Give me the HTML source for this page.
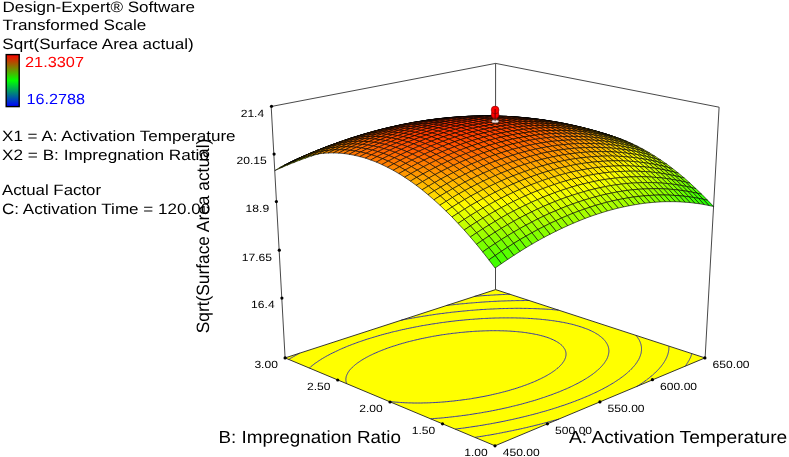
<!DOCTYPE html><html><head><meta charset="utf-8"><style>html,body{margin:0;padding:0;background:#fff;width:789px;height:457px;overflow:hidden;position:relative}</style></head><body><svg width="789" height="457" viewBox="0 0 789 457" style="position:absolute;left:0;top:0">
<polygon points="495.0,445.8 705.0,357.9 495.6,289.6 285.1,357.9" fill="#ffff00" stroke="none"/>
<path d="M685.0,366.4 L685.4,366.0 L685.7,365.6 L686.2,364.8 L686.5,364.4 L686.8,363.9 L687.2,363.3 L687.5,362.9 L687.9,362.3 L688.2,361.7 L688.4,361.3 L688.8,360.8 L689.1,360.2 L689.3,359.8 L689.6,359.3 L689.9,358.6 L690.1,358.2 L690.3,357.8 L690.6,357.1 L690.8,356.6 L691.0,356.2 L691.1,355.7 L691.4,355.1 L691.5,354.5 L691.7,354.1 L691.8,353.7 L691.8,353.7 M510.1,294.2 L509.0,294.3 L507.8,294.3 L506.7,294.4 L505.5,294.4 L504.1,294.5 L502.7,294.5 L501.2,294.6 L500.1,294.7 L499.0,294.7 L497.9,294.8 L496.7,294.8 L495.2,294.9 L493.7,295.0 L492.5,295.1 L491.4,295.1 L490.3,295.2 L489.1,295.3 L487.5,295.4 L486.1,295.5 L485.1,295.5 L484.0,295.6 L482.8,295.7 L481.1,295.8 L479.9,295.9 L478.9,296.0 L477.8,296.1 L476.2,296.2 L474.8,296.3 L474.5,296.3 M636.7,386.6 L637.5,386.1 L638.6,385.4 L639.5,384.8 L640.1,384.4 L641.1,383.8 L642.0,383.2 L642.6,382.7 L643.6,382.1 L644.1,381.7 L645.0,381.0 L646.0,380.4 L646.4,380.0 L647.3,379.3 L647.9,378.9 L648.7,378.3 L649.5,377.6 L650.0,377.2 L650.8,376.5 L651.3,376.2 L652.1,375.5 L652.5,375.1 L653.3,374.4 L653.7,374.1 L654.5,373.3 L654.9,373.0 L655.6,372.3 L656.0,371.9 L656.7,371.2 L657.1,370.8 L657.8,370.1 L658.2,369.7 L658.7,369.1 L659.2,368.6 L659.6,368.2 L660.1,367.5 L660.5,367.1 L661.1,366.4 L661.4,366.0 L661.7,365.5 L662.3,364.8 L662.5,364.5 L663.0,363.9 L663.4,363.3 L663.6,362.9 L664.0,362.3 L664.4,361.7 L664.6,361.4 L665.0,360.7 L665.3,360.2 L665.5,359.8 L665.8,359.3 L666.1,358.6 L666.3,358.2 L666.5,357.8 L666.8,357.1 L667.0,356.6 L667.2,356.1 L667.3,355.7 L667.6,355.1 L667.8,354.5 L667.9,354.1 L668.0,353.7 L668.1,353.2 L668.3,352.6 L668.4,352.0 L668.5,351.5 L668.6,351.1 L668.7,350.7 L668.7,350.2 L668.8,349.6 L668.8,349.0 L668.9,348.5 L668.9,348.0 L668.9,347.6 L668.9,347.1 L668.9,346.7 L668.8,346.2 L668.8,346.2 M475.1,437.3 L476.2,437.2 L478.5,436.8 L479.7,436.6 L481.2,436.4 L483.1,436.1 L484.2,435.9 L486.4,435.5 L487.5,435.3 L489.2,435.1 L490.9,434.8 L492.0,434.6 L494.2,434.2 L495.3,434.0 L497.4,433.6 L498.5,433.4 L500.4,433.0 L501.7,432.8 L503.4,432.4 L504.9,432.1 L506.3,431.9 L508.1,431.5 L509.4,431.2 L511.2,430.9 L512.5,430.6 L514.3,430.2 L515.7,429.9 L517.3,429.6 L519.0,429.2 L520.4,428.9 L522.4,428.5 L523.4,428.2 L525.3,427.8 L526.3,427.6 L528.3,427.1 L529.4,426.8 L531.2,426.4 L533.1,426.0 L534.1,425.7 L536.0,425.2 L537.0,425.0 L538.8,424.5 L540.7,424.0 L541.7,423.8 L543.5,423.3 L545.0,422.9 L546.3,422.6 L548.1,422.1 L549.4,421.7 L550.8,421.3 L552.6,420.8 L554.1,420.4 L555.3,420.1 L557.1,419.6 L558.8,419.1 L559.1,419.0 M529.3,300.5 L528.1,300.5 L526.8,300.5 L525.5,300.5 L524.3,300.5 L523.0,300.6 L521.8,300.6 L520.5,300.6 L519.3,300.6 L518.1,300.6 L516.9,300.6 L515.7,300.6 L514.5,300.7 L513.3,300.7 L512.0,300.7 L510.6,300.8 L509.2,300.8 L507.8,300.8 L506.4,300.9 L505.1,300.9 L503.9,301.0 L502.8,301.0 L501.7,301.0 L500.5,301.1 L499.2,301.1 L497.7,301.2 L496.2,301.3 L494.9,301.3 L493.8,301.4 L492.7,301.5 L491.6,301.5 L490.2,301.6 L488.6,301.7 L487.3,301.8 L486.2,301.8 L485.2,301.9 L483.9,302.0 L482.3,302.1 L480.9,302.2 L479.9,302.3 L478.8,302.4 L477.4,302.5 L475.7,302.6 L474.7,302.7 L473.6,302.8 L472.3,302.9 L470.6,303.0 L469.6,303.1 L468.5,303.2 L467.1,303.3 L465.5,303.5 L464.5,303.6 L463.5,303.7 L461.7,303.8 L460.5,303.9 L459.6,304.0 L458.0,304.2 L456.6,304.3 L455.6,304.5 L454.2,304.6 L452.7,304.8 L451.7,304.9 L450.3,305.0 L448.9,305.2 L447.9,305.3 L446.2,305.5 L446.2,305.5 M455.3,429.1 L456.5,428.9 L457.7,428.8 L460.0,428.5 L461.3,428.3 L462.5,428.2 L464.7,427.9 L466.0,427.7 L467.1,427.5 L469.5,427.2 L470.6,427.0 L472.0,426.8 L474.0,426.5 L475.2,426.3 L477.0,426.1 L478.5,425.8 L479.6,425.6 L481.9,425.3 L483.0,425.1 L484.8,424.8 L486.2,424.5 L487.5,424.3 L489.5,424.0 L490.6,423.8 L492.7,423.4 L493.8,423.2 L495.9,422.8 L496.9,422.6 L499.0,422.2 L500.0,422.0 L502.0,421.6 L503.1,421.4 L505.1,421.0 L506.2,420.7 L508.2,420.3 L509.2,420.1 L511.2,419.7 L512.2,419.5 L514.2,419.0 L515.2,418.8 L517.1,418.3 L518.4,418.1 L520.0,417.7 L521.9,417.2 L522.9,417.0 L524.8,416.5 L525.8,416.3 L527.6,415.8 L529.5,415.4 L530.4,415.1 L532.2,414.7 L534.0,414.2 L535.0,413.9 L536.8,413.5 L538.5,413.0 L539.4,412.7 L541.2,412.2 L543.0,411.7 L543.8,411.5 L545.6,411.0 L547.3,410.5 L548.6,410.1 L549.9,409.7 L551.6,409.2 L553.2,408.7 L554.7,408.2 L555.7,407.9 L557.4,407.4 L559.0,406.8 L560.6,406.3 L562.0,405.8 L563.0,405.5 L564.6,405.0 L566.2,404.4 L567.7,403.9 L569.3,403.3 L570.8,402.8 L572.3,402.2 L573.1,401.9 L574.6,401.4 L576.0,400.8 L577.5,400.2 L579.0,399.7 L580.4,399.1 L581.8,398.5 L583.3,397.9 L584.7,397.3 L586.0,396.8 L587.4,396.2 L588.8,395.6 L590.1,395.0 L591.5,394.4 L592.2,394.0 L593.4,393.5 L594.7,392.9 L596.0,392.3 L597.3,391.7 L598.6,391.0 L599.8,390.4 L600.8,389.9 L601.6,389.5 L602.9,388.9 L604.1,388.2 L605.2,387.6 L606.0,387.2 L607.0,386.7 L608.1,386.0 L609.2,385.4 L609.9,385.0 L610.9,384.4 L612.0,383.7 L613.1,383.1 L613.6,382.8 L614.7,382.1 L615.7,381.4 L616.2,381.1 L617.2,380.4 L618.1,379.9 L618.7,379.4 L619.7,378.8 L620.2,378.4 L621.1,377.7 L622.0,377.1 L622.5,376.7 L623.4,376.0 L623.9,375.7 L624.8,375.0 L625.2,374.6 L626.1,373.9 L626.6,373.5 L627.3,372.8 L627.8,372.4 L628.5,371.8 L629.0,371.3 L629.7,370.7 L630.1,370.3 L630.8,369.6 L631.2,369.2 L631.9,368.5 L632.2,368.1 L632.9,367.5 L633.3,367.0 L633.6,366.6 L634.2,365.9 L634.6,365.5 L635.1,364.9 L635.5,364.4 L635.7,364.0 L636.3,363.2 L636.6,362.8 L636.9,362.4 L637.3,361.7 L637.6,361.2 L637.9,360.9 L638.2,360.2 L638.5,359.7 L638.8,359.3 L639.0,358.8 L639.4,358.1 L639.6,357.6 L639.7,357.2 L639.9,356.7 L640.2,356.1 L640.4,355.5 L640.5,355.1 L640.6,354.7 L640.8,354.1 L641.0,353.5 L641.1,353.0 L641.2,352.6 L641.3,352.1 L641.3,351.7 L641.4,351.2 L641.5,350.6 L641.5,350.0 L641.5,349.5 L641.5,349.0 L641.5,348.5 L641.5,348.1 L641.5,347.6 L641.4,347.1 L641.4,346.6 L641.3,346.2 L641.2,345.7 L641.1,345.2 L641.0,344.7 L640.9,344.2 L640.7,343.7 L640.6,343.2 L640.4,342.7 L640.2,342.2 L640.0,341.7 L639.7,341.1 L639.5,340.6 L639.3,340.2 L639.0,339.7 L638.8,339.3 L638.5,338.9 L638.2,338.4 L637.8,337.8 L637.4,337.2 L637.1,336.8 L636.7,336.4 L636.4,336.0 L635.9,335.4 L635.9,335.4 M558.6,310.1 L556.8,310.0 L555.8,309.9 L554.8,309.8 L553.4,309.7 L551.7,309.5 L550.5,309.5 L549.5,309.4 L548.4,309.3 L546.8,309.2 L545.2,309.1 L544.0,309.0 L542.9,309.0 L541.8,308.9 L540.6,308.9 L539.1,308.8 L537.6,308.7 L536.1,308.7 L534.9,308.6 L533.7,308.6 L532.5,308.5 L531.3,308.5 L530.1,308.5 L528.9,308.5 L527.7,308.4 L526.3,308.4 L525.0,308.4 L523.6,308.4 L522.3,308.4 L521.0,308.3 L519.7,308.3 L518.4,308.3 L517.1,308.3 L515.8,308.3 L514.6,308.3 L513.3,308.4 L512.1,308.4 L510.8,308.4 L509.6,308.4 L508.3,308.4 L506.9,308.5 L505.6,308.5 L504.2,308.5 L502.8,308.6 L501.3,308.6 L500.0,308.6 L498.9,308.7 L497.7,308.7 L496.6,308.8 L495.4,308.8 L494.1,308.9 L492.6,309.0 L491.0,309.0 L489.8,309.1 L488.6,309.2 L487.5,309.2 L486.4,309.3 L484.9,309.4 L483.3,309.5 L482.1,309.5 L481.0,309.6 L479.9,309.7 L478.4,309.8 L476.8,309.9 L475.6,310.0 L474.6,310.1 L473.4,310.2 L471.7,310.3 L470.4,310.4 L469.4,310.5 L468.2,310.6 L466.4,310.8 L465.3,310.9 L464.2,311.0 L462.8,311.1 L461.2,311.3 L460.2,311.4 L459.1,311.5 L457.2,311.7 L456.2,311.8 L455.2,311.9 L453.3,312.1 L452.3,312.2 L451.3,312.3 L449.4,312.6 L448.4,312.7 L447.2,312.8 L445.5,313.0 L444.6,313.2 L443.0,313.4 L441.7,313.5 L440.8,313.6 L438.9,313.9 L438.0,314.0 L436.4,314.2 L435.2,314.4 L434.1,314.6 L432.4,314.8 L431.5,315.0 L429.6,315.2 L428.7,315.4 L426.9,315.7 L426.0,315.8 L424.3,316.1 L423.3,316.2 L421.7,316.5 L420.6,316.7 L419.1,316.9 L417.9,317.1 L416.3,317.4 L415.3,317.6 L413.5,317.9 L412.6,318.0 L410.9,318.4 L410.0,318.5 L408.3,318.8 L407.4,319.0 L405.7,319.3 L404.2,319.6 L403.1,319.8 L401.4,320.2 L400.9,320.3 M299.6,353.2 L298.7,353.7 L297.5,354.4 L296.9,354.7 L295.7,355.4 L295.1,355.7 L293.9,356.4 L293.3,356.7 L292.2,357.4 L291.6,357.7 L290.4,358.4 L289.9,358.8 L288.7,359.5 L288.7,359.5 M430.7,418.8 L432.4,418.7 L434.3,418.5 L435.9,418.4 L437.2,418.3 L438.5,418.2 L440.2,418.1 L442.2,417.9 L443.5,417.8 L444.8,417.6 L446.2,417.5 L448.3,417.3 L449.7,417.1 L450.9,417.0 L452.6,416.8 L454.5,416.6 L455.7,416.4 L456.9,416.3 L459.2,416.0 L460.4,415.9 L461.5,415.7 L463.8,415.4 L465.0,415.3 L466.1,415.1 L468.4,414.8 L469.5,414.6 L471.0,414.4 L472.9,414.1 L474.0,413.9 L476.0,413.6 L477.3,413.4 L478.6,413.2 L480.5,412.9 L481.6,412.7 L483.7,412.3 L484.7,412.1 L486.7,411.8 L487.9,411.6 L489.6,411.3 L491.0,411.0 L492.5,410.7 L494.0,410.4 L495.6,410.1 L497.0,409.8 L498.7,409.4 L500.0,409.2 L501.9,408.8 L503.0,408.5 L504.9,408.1 L505.9,407.9 L507.8,407.5 L508.9,407.2 L510.6,406.8 L512.5,406.3 L513.4,406.1 L515.3,405.7 L516.6,405.3 L518.0,405.0 L519.8,404.5 L520.8,404.3 L522.5,403.8 L524.3,403.3 L525.4,403.0 L526.9,402.6 L528.6,402.1 L530.3,401.6 L531.2,401.4 L532.9,400.9 L534.6,400.4 L536.2,399.9 L537.0,399.6 L538.7,399.1 L540.3,398.6 L541.9,398.0 L543.5,397.5 L544.3,397.3 L545.8,396.7 L547.4,396.2 L548.9,395.6 L550.5,395.1 L552.0,394.6 L553.4,394.0 L554.9,393.4 L556.4,392.9 L557.8,392.3 L559.3,391.8 L560.7,391.2 L562.1,390.6 L563.4,390.0 L564.8,389.4 L566.2,388.9 L567.5,388.3 L568.8,387.7 L570.1,387.1 L571.4,386.5 L572.4,386.0 L573.3,385.6 L574.5,384.9 L575.8,384.3 L577.0,383.7 L578.0,383.2 L578.8,382.8 L579.9,382.1 L581.1,381.5 L582.0,381.0 L582.8,380.5 L583.9,379.9 L585.0,379.2 L585.5,378.9 L586.6,378.3 L587.6,377.6 L588.1,377.3 L589.1,376.6 L589.9,376.1 L590.6,375.6 L591.6,374.9 L592.1,374.6 L593.0,373.9 L593.5,373.5 L594.4,372.8 L595.0,372.4 L595.7,371.8 L596.4,371.2 L597.0,370.7 L597.6,370.2 L598.2,369.6 L598.7,369.2 L599.4,368.6 L599.8,368.2 L600.5,367.4 L600.9,367.1 L601.5,366.4 L601.9,366.0 L602.3,365.5 L602.9,364.8 L603.2,364.4 L603.7,363.9 L604.1,363.3 L604.4,362.9 L604.8,362.3 L605.2,361.7 L605.5,361.3 L605.8,360.8 L606.2,360.1 L606.5,359.7 L606.7,359.3 L607.0,358.7 L607.3,358.0 L607.5,357.6 L607.6,357.2 L607.8,356.7 L608.0,356.1 L608.2,355.5 L608.3,355.1 L608.4,354.6 L608.5,354.2 L608.6,353.7 L608.7,353.1 L608.8,352.5 L608.8,352.0 L608.9,351.5 L608.9,351.0 L608.9,350.5 L608.8,350.0 L608.8,349.5 L608.7,349.1 L608.7,348.6 L608.6,348.1 L608.5,347.6 L608.3,347.1 L608.2,346.5 L608.0,346.0 L607.8,345.5 L607.6,345.0 L607.4,344.6 L607.2,344.1 L606.9,343.7 L606.7,343.3 L606.3,342.7 L606.0,342.1 L605.6,341.6 L605.3,341.2 L605.0,340.8 L604.5,340.3 L604.0,339.6 L603.6,339.3 L603.2,338.9 L602.6,338.2 L602.1,337.8 L601.7,337.4 L600.9,336.8 L600.4,336.4 L599.8,336.0 L599.0,335.4 L598.6,335.0 L597.6,334.4 L597.1,334.1 L596.1,333.5 L595.5,333.2 L594.5,332.5 L593.7,332.1 L592.8,331.7 L591.7,331.1 L591.0,330.8 L589.9,330.3 L588.7,329.7 L587.4,329.2 L586.4,328.8 L585.5,328.5 L584.1,328.0 L582.8,327.5 L581.4,327.0 L580.0,326.6 L578.5,326.1 L577.1,325.7 L576.3,325.5 L574.8,325.0 L573.3,324.6 L571.7,324.2 L570.4,323.9 L569.3,323.7 L567.7,323.3 L566.4,323.0 L565.2,322.8 L563.5,322.4 L562.6,322.3 L560.9,322.0 L560.0,321.8 L558.2,321.5 L557.3,321.4 L555.5,321.1 L554.5,320.9 L552.7,320.7 L551.7,320.5 L550.5,320.4 L548.8,320.2 L547.8,320.0 L546.4,319.9 L544.8,319.7 L543.8,319.6 L542.5,319.5 L540.8,319.3 L539.7,319.2 L538.7,319.1 L537.2,319.0 L535.5,318.8 L534.4,318.8 L533.3,318.7 L532.1,318.6 L530.5,318.5 L529.0,318.4 L527.7,318.3 L526.5,318.3 L525.4,318.2 L524.2,318.2 L522.9,318.1 L521.4,318.1 L520.0,318.0 L518.5,318.0 L517.1,318.0 L515.8,317.9 L514.5,317.9 L513.2,317.9 L512.0,317.9 L510.7,317.9 L509.4,317.9 L508.1,317.9 L506.8,317.9 L505.4,317.9 L504.1,317.9 L502.7,317.9 L501.4,317.9 L500.1,317.9 L498.8,318.0 L497.6,318.0 L496.4,318.0 L495.2,318.0 L494.0,318.1 L492.8,318.1 L491.4,318.2 L489.9,318.2 L488.4,318.3 L486.9,318.4 L485.8,318.4 L484.6,318.5 L483.5,318.5 L482.2,318.6 L480.6,318.7 L479.0,318.8 L477.9,318.9 L476.8,319.0 L475.7,319.0 L474.1,319.2 L472.5,319.3 L471.4,319.4 L470.4,319.4 L468.9,319.6 L467.2,319.7 L466.1,319.8 L465.1,319.9 L463.5,320.1 L462.0,320.2 L461.0,320.3 L459.8,320.4 L457.9,320.6 L456.9,320.7 L455.9,320.8 L453.9,321.1 L452.9,321.2 L451.9,321.3 L450.0,321.5 L449.0,321.7 L447.7,321.8 L446.1,322.0 L445.1,322.2 L443.4,322.4 L442.3,322.5 L441.1,322.7 L439.4,322.9 L438.5,323.1 L436.6,323.4 L435.7,323.5 L434.0,323.8 L432.9,323.9 L431.5,324.1 L430.1,324.4 L428.9,324.6 L427.4,324.8 L426.2,325.0 L424.7,325.3 L423.4,325.5 L422.0,325.7 L420.5,326.0 L419.4,326.2 L417.6,326.6 L416.7,326.7 L415.0,327.1 L414.1,327.2 L412.4,327.6 L411.0,327.9 L409.8,328.1 L408.1,328.5 L407.3,328.6 L405.6,329.0 L403.9,329.4 L403.1,329.5 L401.4,329.9 L399.7,330.3 L398.9,330.5 L397.3,330.9 L395.6,331.3 L394.6,331.5 L393.2,331.8 L391.6,332.2 L390.0,332.7 L389.2,332.9 L387.6,333.3 L386.0,333.7 L384.4,334.1 L382.9,334.5 L382.1,334.7 L380.5,335.2 L379.0,335.6 L377.4,336.1 L375.9,336.5 L374.4,337.0 L372.9,337.4 L371.4,337.9 L370.3,338.2 L369.1,338.6 L367.6,339.0 L366.1,339.5 L364.7,340.0 L363.2,340.5 L361.8,341.0 L360.3,341.5 L359.6,341.7 L358.2,342.2 L356.8,342.7 L355.3,343.3 L353.9,343.8 L352.5,344.3 L351.2,344.8 L349.8,345.4 L349.1,345.6 L347.7,346.2 L346.4,346.7 L345.0,347.3 L343.7,347.9 L343.0,348.1 L341.7,348.7 L340.4,349.3 L339.2,349.8 L338.5,350.2 L337.2,350.8 L335.9,351.4 L335.3,351.7 L334.0,352.3 L332.8,352.9 L332.1,353.2 L330.9,353.8 L330.2,354.2 L329.1,354.8 L327.9,355.4 L327.3,355.7 L326.1,356.4 L325.5,356.7 L324.4,357.4 L323.8,357.7 L322.7,358.4 L322.1,358.7 L321.0,359.4 L320.4,359.8 L319.3,360.5 L318.8,360.8 L317.7,361.6 L317.2,361.9 L316.3,362.6 L315.6,363.0 L315.0,363.4 L314.1,364.1 L313.6,364.5 L312.8,365.1 L312.1,365.7 L311.6,366.1 L310.8,366.7 L310.2,367.3 L309.7,367.7 L309.3,368.1 M389.2,401.5 L391.0,401.7 L392.1,401.8 L393.3,401.9 L395.2,402.1 L396.9,402.2 L398.2,402.3 L399.4,402.4 L400.7,402.5 L402.4,402.6 L404.2,402.7 L405.8,402.8 L407.3,402.8 L408.7,402.9 L410.1,402.9 L411.5,402.9 L413.0,403.0 L414.4,403.0 L415.9,403.0 L417.4,403.0 L418.9,403.0 L420.4,403.0 L422.0,403.0 L423.5,402.9 L425.1,402.9 L426.8,402.9 L428.4,402.8 L429.8,402.8 L431.2,402.7 L432.5,402.6 L433.9,402.6 L435.2,402.5 L437.0,402.4 L438.8,402.3 L440.4,402.2 L441.6,402.1 L442.9,402.0 L444.4,401.9 L446.3,401.7 L447.9,401.6 L449.1,401.4 L450.3,401.3 L452.3,401.1 L453.8,401.0 L455.0,400.8 L456.6,400.6 L458.5,400.4 L459.6,400.3 L461.0,400.1 L463.0,399.8 L464.1,399.7 L465.6,399.5 L467.4,399.2 L468.5,399.1 L470.5,398.8 L471.7,398.6 L473.0,398.3 L474.9,398.0 L475.9,397.9 L478.0,397.5 L479.0,397.3 L481.0,396.9 L482.0,396.8 L484.0,396.4 L485.0,396.2 L487.0,395.8 L487.9,395.6 L489.9,395.2 L490.8,395.0 L492.7,394.5 L494.1,394.2 L495.5,393.9 L497.3,393.5 L498.3,393.3 L500.1,392.8 L501.8,392.4 L502.7,392.1 L504.5,391.7 L506.2,391.2 L507.1,391.0 L508.8,390.5 L510.5,390.0 L512.1,389.5 L512.9,389.3 L514.6,388.8 L516.2,388.3 L517.8,387.8 L519.3,387.2 L520.2,387.0 L521.7,386.5 L523.2,385.9 L524.7,385.4 L526.2,384.9 L527.6,384.3 L529.1,383.8 L530.5,383.2 L531.9,382.6 L533.3,382.1 L534.6,381.5 L536.0,380.9 L537.2,380.4 L537.9,380.0 L539.2,379.4 L540.5,378.8 L541.7,378.2 L542.9,377.6 L543.5,377.3 L544.7,376.7 L545.9,376.0 L546.9,375.5 L547.6,375.1 L548.7,374.4 L549.7,373.8 L550.3,373.5 L551.3,372.8 L551.9,372.4 L552.8,371.8 L553.7,371.2 L554.3,370.8 L555.2,370.1 L555.7,369.7 L556.6,369.0 L557.0,368.6 L557.9,367.9 L558.3,367.6 L559.0,366.9 L559.5,366.5 L559.9,366.0 L560.6,365.3 L560.9,365.0 L561.5,364.3 L561.9,363.8 L562.2,363.4 L562.8,362.8 L563.1,362.2 L563.4,361.8 L563.8,361.3 L564.2,360.6 L564.4,360.2 L564.6,359.8 L564.8,359.3 L565.1,358.6 L565.3,358.0 L565.5,357.6 L565.6,357.2 L565.7,356.7 L565.8,356.2 L565.9,355.7 L566.0,355.1 L566.0,354.6 L566.0,354.0 L566.0,353.5 L565.9,353.0 L565.9,352.5 L565.8,352.0 L565.7,351.5 L565.5,351.1 L565.4,350.6 L565.2,350.2 L565.0,349.6 L564.7,349.1 L564.3,348.5 L564.0,348.0 L563.7,347.6 L563.4,347.2 L562.9,346.5 L562.4,346.0 L562.1,345.6 L561.5,345.1 L560.9,344.6 L560.5,344.2 L559.6,343.5 L559.1,343.2 L558.1,342.5 L557.6,342.2 L556.6,341.6 L556.1,341.3 L555.0,340.7 L553.8,340.1 L553.2,339.8 L552.0,339.3 L550.7,338.7 L549.4,338.2 L548.1,337.7 L546.7,337.2 L545.2,336.8 L543.8,336.3 L542.2,335.9 L540.7,335.5 L539.9,335.3 L538.3,334.9 L536.6,334.5 L535.7,334.4 L534.0,334.0 L532.8,333.8 L531.3,333.5 L530.1,333.3 L528.6,333.1 L527.6,332.9 L525.7,332.6 L524.7,332.5 L523.2,332.3 L521.7,332.1 L520.7,332.0 L519.3,331.9 L517.6,331.7 L516.5,331.6 L515.4,331.5 L513.9,331.4 L512.2,331.3 L511.0,331.2 L509.8,331.1 L508.7,331.1 L507.4,331.0 L505.9,330.9 L504.4,330.9 L502.9,330.8 L501.4,330.8 L500.2,330.8 L498.9,330.7 L497.6,330.7 L496.3,330.7 L495.0,330.7 L493.6,330.7 L492.3,330.7 L490.9,330.7 L489.5,330.7 L488.1,330.8 L486.8,330.8 L485.5,330.8 L484.3,330.9 L483.1,330.9 L481.9,331.0 L480.7,331.0 L479.1,331.1 L477.5,331.2 L476.0,331.2 L474.8,331.3 L473.7,331.4 L472.6,331.5 L471.0,331.6 L469.3,331.7 L468.1,331.8 L467.0,331.9 L465.7,332.0 L463.9,332.2 L462.8,332.3 L461.7,332.4 L460.2,332.5 L458.6,332.7 L457.5,332.8 L456.2,333.0 L454.5,333.2 L453.5,333.3 L452.1,333.4 L450.5,333.7 L449.5,333.8 L447.7,334.0 L446.6,334.2 L445.4,334.4 L443.7,334.6 L442.7,334.7 L440.8,335.0 L439.9,335.2 L438.0,335.5 L437.1,335.6 L435.3,336.0 L434.3,336.1 L432.5,336.4 L431.6,336.6 L429.8,337.0 L428.9,337.1 L427.2,337.5 L426.2,337.7 L424.5,338.0 L422.8,338.4 L422.0,338.5 L420.2,338.9 L419.0,339.2 L417.7,339.5 L416.0,339.9 L414.7,340.2 L413.5,340.5 L411.9,340.9 L410.3,341.3 L409.4,341.5 L407.8,341.9 L406.2,342.3 L404.7,342.8 L403.1,343.2 L402.3,343.4 L400.8,343.9 L399.2,344.3 L397.7,344.8 L396.2,345.3 L394.7,345.8 L393.2,346.2 L391.7,346.7 L390.3,347.2 L388.8,347.7 L387.4,348.2 L386.0,348.7 L384.6,349.3 L383.2,349.8 L381.8,350.3 L380.7,350.8 L379.7,351.2 L378.4,351.7 L377.1,352.3 L375.8,352.9 L375.1,353.1 L373.8,353.7 L372.6,354.3 L371.4,354.9 L370.7,355.2 L369.4,355.8 L368.5,356.3 L367.6,356.8 L366.4,357.4 L365.9,357.7 L364.7,358.4 L363.9,358.8 L363.0,359.4 L362.1,359.9 L361.3,360.4 L360.4,361.0 L359.7,361.5 L359.0,362.0 L358.2,362.5 L357.6,362.9 L356.7,363.6 L356.2,364.0 L355.4,364.6 L354.8,365.1 L354.3,365.5 L353.5,366.3 L353.0,366.7 L352.5,367.1 L351.9,367.8 L351.3,368.4 L350.9,368.8 L350.5,369.2 L349.9,369.9 L349.4,370.5 L349.1,371.0 L348.8,371.4 L348.4,371.9 L348.0,372.5 L347.7,373.2 L347.4,373.8 L347.1,374.3 L346.9,374.8 L346.7,375.3 L346.5,375.8 L346.3,376.3 L346.2,376.8 L346.1,377.4 L346.0,378.0 L345.9,378.5 L345.9,379.1 L345.9,379.7 L345.9,380.3 L345.9,380.8 L346.0,381.3 L346.1,381.7 L346.2,382.3 L346.5,383.0 L346.7,383.6 L346.7,383.7" fill="none" stroke="#2424b4" stroke-width="0.9"/>
<polygon points="495.0,445.8 705.0,357.9 495.6,289.6 285.1,357.9" fill="none" stroke="#222" stroke-width="0.9"/>
<path d="M271.2,106.5 L285.1,358.0 M495.6,63.4 L495.5,289.5 M719.1,107.2 L705.1,358.1 M271.2,106.5 L495.6,63.4 M495.6,63.4 L719.1,107.2" stroke="#333" stroke-width="0.9" fill="none"/>
<g stroke="#000" stroke-width="0.6" stroke-linejoin="round">
<polygon points="495.6,152.3 500.4,154.1 495.6,157.4 490.7,155.5" fill="#02ff00"/>
<polygon points="490.7,150.6 495.6,152.3 490.7,155.5 485.8,153.8" fill="#14ff00"/>
<polygon points="500.5,149.2 505.3,151.0 500.4,154.1 495.6,152.3" fill="#1cff00"/>
<polygon points="485.8,148.9 490.7,150.6 485.8,153.8 480.9,152.2" fill="#25ff00"/>
<polygon points="495.6,147.5 500.5,149.2 495.6,152.3 490.7,150.6" fill="#2eff00"/>
<polygon points="505.4,146.3 510.3,148.1 505.3,151.0 500.5,149.2" fill="#35ff00"/>
<polygon points="480.8,147.4 485.8,148.9 480.9,152.2 475.9,150.7" fill="#35ff00"/>
<polygon points="490.6,145.9 495.6,147.5 490.7,150.6 485.8,148.9" fill="#3eff00"/>
<polygon points="500.5,144.6 505.4,146.3 500.5,149.2 495.6,147.5" fill="#46ff00"/>
<polygon points="510.4,143.7 515.2,145.5 510.3,148.1 505.4,146.3" fill="#4cff00"/>
<polygon points="475.8,146.0 480.8,147.4 475.9,150.7 471.0,149.2" fill="#44ff00"/>
<polygon points="485.7,144.3 490.6,145.9 485.8,148.9 480.8,147.4" fill="#4eff00"/>
<polygon points="495.6,143.0 500.5,144.6 495.6,147.5 490.6,145.9" fill="#56ff00"/>
<polygon points="505.5,141.9 510.4,143.7 505.4,146.3 500.5,144.6" fill="#5dff00"/>
<polygon points="515.4,141.2 520.2,143.0 515.2,145.5 510.4,143.7" fill="#62ff00"/>
<polygon points="470.8,144.6 475.8,146.0 471.0,149.2 465.9,147.9" fill="#53ff00"/>
<polygon points="480.7,142.9 485.7,144.3 480.8,147.4 475.8,146.0" fill="#5eff00"/>
<polygon points="490.6,141.5 495.6,143.0 490.6,145.9 485.7,144.3" fill="#66ff00"/>
<polygon points="500.5,140.3 505.5,141.9 500.5,144.6 495.6,143.0" fill="#6dff00"/>
<polygon points="510.5,139.5 515.4,141.2 510.4,143.7 505.5,141.9" fill="#73ff00"/>
<polygon points="520.4,139.0 525.3,140.8 520.2,143.0 515.4,141.2" fill="#76ff00"/>
<polygon points="465.7,143.4 470.8,144.6 465.9,147.9 460.9,146.7" fill="#62ff00"/>
<polygon points="475.6,141.6 480.7,142.9 475.8,146.0 470.8,144.6" fill="#6cff00"/>
<polygon points="485.6,140.0 490.6,141.5 485.7,144.3 480.7,142.9" fill="#76ff00"/>
<polygon points="495.6,138.8 500.5,140.3 495.6,143.0 490.6,141.5" fill="#7dff00"/>
<polygon points="505.5,137.9 510.5,139.5 505.5,141.9 500.5,140.3" fill="#83ff00"/>
<polygon points="515.5,137.2 520.4,139.0 515.4,141.2 510.5,139.5" fill="#87ff00"/>
<polygon points="525.5,136.9 530.3,138.7 525.3,140.8 520.4,139.0" fill="#89ff00"/>
<polygon points="460.6,142.3 465.7,143.4 460.9,146.7 455.7,145.6" fill="#6fff00"/>
<polygon points="470.6,140.4 475.6,141.6 470.8,144.6 465.7,143.4" fill="#7bff00"/>
<polygon points="480.6,138.7 485.6,140.0 480.7,142.9 475.6,141.6" fill="#84ff00"/>
<polygon points="490.6,137.4 495.6,138.8 490.6,141.5 485.6,140.0" fill="#8cff00"/>
<polygon points="500.6,136.4 505.5,137.9 500.5,140.3 495.6,138.8" fill="#93ff00"/>
<polygon points="510.6,135.6 515.5,137.2 510.5,139.5 505.5,137.9" fill="#97ff00"/>
<polygon points="530.6,135.1 535.4,136.9 530.3,138.7 525.5,136.9" fill="#9bff00"/>
<polygon points="520.6,135.2 525.5,136.9 520.4,139.0 515.5,137.2" fill="#9aff00"/>
<polygon points="455.4,141.3 460.6,142.3 455.7,145.6 450.6,144.5" fill="#7cff00"/>
<polygon points="465.5,139.2 470.6,140.4 465.7,143.4 460.6,142.3" fill="#88ff00"/>
<polygon points="475.5,137.5 480.6,138.7 475.6,141.6 470.6,140.4" fill="#92ff00"/>
<polygon points="485.5,136.1 490.6,137.4 485.6,140.0 480.6,138.7" fill="#9bff00"/>
<polygon points="495.6,135.0 500.6,136.4 495.6,138.8 490.6,137.4" fill="#a2ff00"/>
<polygon points="505.6,134.1 510.6,135.6 505.5,137.9 500.6,136.4" fill="#a7ff00"/>
<polygon points="535.7,133.5 540.6,135.3 535.4,136.9 530.6,135.1" fill="#acff00"/>
<polygon points="515.6,133.6 520.6,135.2 515.5,137.2 510.6,135.6" fill="#aaff00"/>
<polygon points="525.7,133.4 530.6,135.1 525.5,136.9 520.6,135.2" fill="#acff00"/>
<polygon points="450.3,140.4 455.4,141.3 450.6,144.5 445.4,143.6" fill="#88ff00"/>
<polygon points="460.3,138.2 465.5,139.2 460.6,142.3 455.4,141.3" fill="#95ff00"/>
<polygon points="470.4,136.4 475.5,137.5 470.6,140.4 465.5,139.2" fill="#a0ff00"/>
<polygon points="480.4,134.9 485.5,136.1 480.6,138.7 475.5,137.5" fill="#a9ff00"/>
<polygon points="490.5,133.6 495.6,135.0 490.6,137.4 485.5,136.1" fill="#b0ff00"/>
<polygon points="500.6,132.7 505.6,134.1 500.6,136.4 495.6,135.0" fill="#b6ff00"/>
<polygon points="540.9,132.1 545.8,133.9 540.6,135.3 535.7,133.5" fill="#bbff00"/>
<polygon points="510.7,132.1 515.6,133.6 510.6,135.6 505.6,134.1" fill="#baff00"/>
<polygon points="530.8,131.8 535.7,133.5 530.6,135.1 525.7,133.4" fill="#bcff00"/>
<polygon points="520.8,131.8 525.7,133.4 520.6,135.2 515.6,133.6" fill="#bcff00"/>
<polygon points="445.1,139.6 450.3,140.4 445.4,143.6 440.2,142.8" fill="#94ff00"/>
<polygon points="455.1,137.3 460.3,138.2 455.4,141.3 450.3,140.4" fill="#a1ff00"/>
<polygon points="465.2,135.4 470.4,136.4 465.5,139.2 460.3,138.2" fill="#adff00"/>
<polygon points="475.3,133.8 480.4,134.9 475.5,137.5 470.4,136.4" fill="#b6ff00"/>
<polygon points="485.4,132.4 490.5,133.6 485.5,136.1 480.4,134.9" fill="#beff00"/>
<polygon points="546.1,131.0 551.0,132.8 545.8,133.9 540.9,132.1" fill="#c9ff00"/>
<polygon points="495.6,131.4 500.6,132.7 495.6,135.0 490.5,133.6" fill="#c4ff00"/>
<polygon points="536.0,130.5 540.9,132.1 535.7,133.5 530.8,131.8" fill="#cbff00"/>
<polygon points="505.7,130.7 510.7,132.1 505.6,134.1 500.6,132.7" fill="#c9ff00"/>
<polygon points="525.9,130.2 530.8,131.8 525.7,133.4 520.8,131.8" fill="#ccff00"/>
<polygon points="515.8,130.3 520.8,131.8 515.6,133.6 510.7,132.1" fill="#cbff00"/>
<polygon points="439.8,138.9 445.1,139.6 440.2,142.8 435.0,142.1" fill="#9fff00"/>
<polygon points="449.9,136.5 455.1,137.3 450.3,140.4 445.1,139.6" fill="#adff00"/>
<polygon points="460.0,134.5 465.2,135.4 460.3,138.2 455.1,137.3" fill="#b9ff00"/>
<polygon points="470.2,132.8 475.3,133.8 470.4,136.4 465.2,135.4" fill="#c3ff00"/>
<polygon points="480.3,131.3 485.4,132.4 480.4,134.9 475.3,133.8" fill="#cbff00"/>
<polygon points="551.4,130.1 556.2,131.8 551.0,132.8 546.1,131.0" fill="#d5ff00"/>
<polygon points="490.5,130.2 495.6,131.4 490.5,133.6 485.4,132.4" fill="#d2ff00"/>
<polygon points="541.2,129.3 546.1,131.0 540.9,132.1 536.0,130.5" fill="#d9ff00"/>
<polygon points="500.6,129.4 505.7,130.7 500.6,132.7 495.6,131.4" fill="#d7ff00"/>
<polygon points="531.1,128.9 536.0,130.5 530.8,131.8 525.9,130.2" fill="#dbff00"/>
<polygon points="510.8,128.9 515.8,130.3 510.7,132.1 505.7,130.7" fill="#daff00"/>
<polygon points="520.9,128.8 525.9,130.2 520.8,131.8 515.8,130.3" fill="#dbff00"/>
<polygon points="434.5,138.3 439.8,138.9 435.0,142.1 429.7,141.5" fill="#aaff00"/>
<polygon points="444.7,135.8 449.9,136.5 445.1,139.6 439.8,138.9" fill="#b8ff00"/>
<polygon points="454.8,133.7 460.0,134.5 455.1,137.3 449.9,136.5" fill="#c4ff00"/>
<polygon points="465.0,131.9 470.2,132.8 465.2,135.4 460.0,134.5" fill="#cfff00"/>
<polygon points="556.7,129.4 561.5,131.1 556.2,131.8 551.4,130.1" fill="#e1ff00"/>
<polygon points="475.2,130.4 480.3,131.3 475.3,133.8 470.2,132.8" fill="#d8ff00"/>
<polygon points="546.5,128.4 551.4,130.1 546.1,131.0 541.2,129.3" fill="#e5ff00"/>
<polygon points="485.4,129.1 490.5,130.2 485.4,132.4 480.3,131.3" fill="#dfff00"/>
<polygon points="536.3,127.8 541.2,129.3 536.0,130.5 531.1,128.9" fill="#e9ff00"/>
<polygon points="495.5,128.2 500.6,129.4 495.6,131.4 490.5,130.2" fill="#e4ff00"/>
<polygon points="526.1,127.4 531.1,128.9 525.9,130.2 520.9,128.8" fill="#eaff00"/>
<polygon points="505.7,127.7 510.8,128.9 505.7,130.7 500.6,129.4" fill="#e8ff00"/>
<polygon points="515.9,127.4 520.9,128.8 515.8,130.3 510.8,128.9" fill="#eaff00"/>
<polygon points="429.2,137.8 434.5,138.3 429.7,141.5 424.4,141.0" fill="#b3ff00"/>
<polygon points="439.4,135.3 444.7,135.8 439.8,138.9 434.5,138.3" fill="#c2ff00"/>
<polygon points="449.6,133.0 454.8,133.7 449.9,136.5 444.7,135.8" fill="#cfff00"/>
<polygon points="459.8,131.1 465.0,131.9 460.0,134.5 454.8,133.7" fill="#daff00"/>
<polygon points="562.0,128.9 566.8,130.7 561.5,131.1 556.7,129.4" fill="#eaff00"/>
<polygon points="470.0,129.5 475.2,130.4 470.2,132.8 465.0,131.9" fill="#e4ff00"/>
<polygon points="551.8,127.7 556.7,129.4 551.4,130.1 546.5,128.4" fill="#f1ff00"/>
<polygon points="480.2,128.2 485.4,129.1 480.3,131.3 475.2,130.4" fill="#ebff00"/>
<polygon points="541.6,126.9 546.5,128.4 541.2,129.3 536.3,127.8" fill="#f5ff00"/>
<polygon points="490.4,127.2 495.5,128.2 490.5,130.2 485.4,129.1" fill="#f1ff00"/>
<polygon points="531.3,126.3 536.3,127.8 531.1,128.9 526.1,127.4" fill="#f8ff00"/>
<polygon points="500.7,126.5 505.7,127.7 500.6,129.4 495.5,128.2" fill="#f5ff00"/>
<polygon points="521.1,126.0 526.1,127.4 520.9,128.8 515.9,127.4" fill="#f9ff00"/>
<polygon points="510.9,126.1 515.9,127.4 510.8,128.9 505.7,127.7" fill="#f8ff00"/>
<polygon points="423.9,137.4 429.2,137.8 424.4,141.0 419.1,140.7" fill="#bdff00"/>
<polygon points="434.1,134.8 439.4,135.3 434.5,138.3 429.2,137.8" fill="#ccff00"/>
<polygon points="444.3,132.4 449.6,133.0 444.7,135.8 439.4,135.3" fill="#d9ff00"/>
<polygon points="454.5,130.4 459.8,131.1 454.8,133.7 449.6,133.0" fill="#e5ff00"/>
<polygon points="567.3,128.7 572.2,130.4 566.8,130.7 562.0,128.9" fill="#f3ff00"/>
<polygon points="464.8,128.7 470.0,129.5 465.0,131.9 459.8,131.1" fill="#efff00"/>
<polygon points="557.1,127.3 562.0,128.9 556.7,129.4 551.8,127.7" fill="#faff00"/>
<polygon points="475.0,127.3 480.2,128.2 475.2,130.4 470.0,129.5" fill="#f7ff00"/>
<polygon points="546.8,126.2 551.8,127.7 546.5,128.4 541.6,126.9" fill="#fffe00"/>
<polygon points="485.3,126.2 490.4,127.2 485.4,129.1 480.2,128.2" fill="#feff00"/>
<polygon points="536.6,125.4 541.6,126.9 536.3,127.8 531.3,126.3" fill="#fffa00"/>
<polygon points="495.5,125.4 500.7,126.5 495.5,128.2 490.4,127.2" fill="#fffc00"/>
<polygon points="526.3,124.9 531.3,126.3 526.1,127.4 521.1,126.0" fill="#fff800"/>
<polygon points="505.8,124.9 510.9,126.1 505.7,127.7 500.7,126.5" fill="#fff900"/>
<polygon points="516.1,124.8 521.1,126.0 515.9,127.4 510.9,126.1" fill="#fff700"/>
<polygon points="418.5,137.2 423.9,137.4 419.1,140.7 413.7,140.4" fill="#c5ff00"/>
<polygon points="428.7,134.4 434.1,134.8 429.2,137.8 423.9,137.4" fill="#d5ff00"/>
<polygon points="439.0,132.0 444.3,132.4 439.4,135.3 434.1,134.8" fill="#e3ff00"/>
<polygon points="572.7,128.7 577.5,130.4 572.2,130.4 567.3,128.7" fill="#faff00"/>
<polygon points="449.2,129.9 454.5,130.4 449.6,133.0 444.3,132.4" fill="#efff00"/>
<polygon points="562.4,127.1 567.3,128.7 562.0,128.9 557.1,127.3" fill="#fffb00"/>
<polygon points="459.5,128.0 464.8,128.7 459.8,131.1 454.5,130.4" fill="#f9ff00"/>
<polygon points="552.2,125.8 557.1,127.3 551.8,127.7 546.8,126.2" fill="#fff400"/>
<polygon points="469.8,126.5 475.0,127.3 470.0,129.5 464.8,128.7" fill="#fffc00"/>
<polygon points="541.9,124.8 546.8,126.2 541.6,126.9 536.6,125.4" fill="#ffef00"/>
<polygon points="480.1,125.3 485.3,126.2 480.2,128.2 475.0,127.3" fill="#fff500"/>
<polygon points="531.6,124.1 536.6,125.4 531.3,126.3 526.3,124.9" fill="#ffec00"/>
<polygon points="490.4,124.4 495.5,125.4 490.4,127.2 485.3,126.2" fill="#ffef00"/>
<polygon points="521.3,123.7 526.3,124.9 521.1,126.0 516.1,124.8" fill="#ffea00"/>
<polygon points="500.7,123.9 505.8,124.9 500.7,126.5 495.5,125.4" fill="#ffec00"/>
<polygon points="511.0,123.6 516.1,124.8 510.9,126.1 505.8,124.9" fill="#ffea00"/>
<polygon points="413.1,137.0 418.5,137.2 413.7,140.4 408.3,140.3" fill="#cdff00"/>
<polygon points="423.3,134.2 428.7,134.4 423.9,137.4 418.5,137.2" fill="#ddff00"/>
<polygon points="433.6,131.6 439.0,132.0 434.1,134.8 428.7,134.4" fill="#ecff00"/>
<polygon points="578.1,129.0 582.9,130.7 577.5,130.4 572.7,128.7" fill="#fffe00"/>
<polygon points="443.9,129.4 449.2,129.9 444.3,132.4 439.0,132.0" fill="#f8ff00"/>
<polygon points="567.8,127.1 572.7,128.7 567.3,128.7 562.4,127.1" fill="#fff400"/>
<polygon points="454.2,127.5 459.5,128.0 454.5,130.4 449.2,129.9" fill="#fffb00"/>
<polygon points="557.5,125.6 562.4,127.1 557.1,127.3 552.2,125.8" fill="#ffec00"/>
<polygon points="464.5,125.9 469.8,126.5 464.8,128.7 459.5,128.0" fill="#fff100"/>
<polygon points="547.2,124.3 552.2,125.8 546.8,126.2 541.9,124.8" fill="#ffe600"/>
<polygon points="474.9,124.6 480.1,125.3 475.0,127.3 469.8,126.5" fill="#ffea00"/>
<polygon points="536.9,123.4 541.9,124.8 536.6,125.4 531.6,124.1" fill="#ffe100"/>
<polygon points="485.2,123.6 490.4,124.4 485.3,126.2 480.1,125.3" fill="#ffe400"/>
<polygon points="526.5,122.8 531.6,124.1 526.3,124.9 521.3,123.7" fill="#ffde00"/>
<polygon points="495.5,122.9 500.7,123.9 495.5,125.4 490.4,124.4" fill="#ffe000"/>
<polygon points="516.2,122.5 521.3,123.7 516.1,124.8 511.0,123.6" fill="#ffdd00"/>
<polygon points="505.9,122.6 511.0,123.6 505.8,124.9 500.7,123.9" fill="#ffde00"/>
<polygon points="407.6,137.0 413.1,137.0 408.3,140.3 402.8,140.2" fill="#d4ff00"/>
<polygon points="417.9,134.1 423.3,134.2 418.5,137.2 413.1,137.0" fill="#e5ff00"/>
<polygon points="583.5,129.5 588.3,131.2 582.9,130.7 578.1,129.0" fill="#fff900"/>
<polygon points="428.2,131.4 433.6,131.6 428.7,134.4 423.3,134.2" fill="#f4ff00"/>
<polygon points="573.2,127.4 578.1,129.0 572.7,128.7 567.8,127.1" fill="#ffee00"/>
<polygon points="438.5,129.1 443.9,129.4 439.0,132.0 433.6,131.6" fill="#fffd00"/>
<polygon points="562.9,125.6 567.8,127.1 562.4,127.1 557.5,125.6" fill="#ffe500"/>
<polygon points="448.9,127.0 454.2,127.5 449.2,129.9 443.9,129.4" fill="#fff100"/>
<polygon points="552.5,124.2 557.5,125.6 552.2,125.8 547.2,124.3" fill="#ffdd00"/>
<polygon points="459.2,125.3 464.5,125.9 459.5,128.0 454.2,127.5" fill="#ffe700"/>
<polygon points="542.2,123.0 547.2,124.3 541.9,124.8 536.9,123.4" fill="#ffd700"/>
<polygon points="469.6,123.9 474.9,124.6 469.8,126.5 464.5,125.9" fill="#ffdf00"/>
<polygon points="531.8,122.2 536.9,123.4 531.6,124.1 526.5,122.8" fill="#ffd300"/>
<polygon points="480.0,122.8 485.2,123.6 480.1,125.3 474.9,124.6" fill="#ffd900"/>
<polygon points="402.1,137.1 407.6,137.0 402.8,140.2 397.3,140.3" fill="#dbff00"/>
<polygon points="521.5,121.7 526.5,122.8 521.3,123.7 516.2,122.5" fill="#ffd100"/>
<polygon points="490.3,122.1 495.5,122.9 490.4,124.4 485.2,123.6" fill="#ffd400"/>
<polygon points="511.1,121.5 516.2,122.5 511.0,123.6 505.9,122.6" fill="#ffd000"/>
<polygon points="500.7,121.6 505.9,122.6 500.7,123.9 495.5,122.9" fill="#ffd200"/>
<polygon points="412.4,134.0 417.9,134.1 413.1,137.0 407.6,137.0" fill="#ecff00"/>
<polygon points="589.0,130.2 593.8,131.9 588.3,131.2 583.5,129.5" fill="#fff600"/>
<polygon points="422.8,131.3 428.2,131.4 423.3,134.2 417.9,134.1" fill="#fcff00"/>
<polygon points="578.7,127.9 583.5,129.5 578.1,129.0 573.2,127.4" fill="#ffea00"/>
<polygon points="433.1,128.8 438.5,129.1 433.6,131.6 428.2,131.4" fill="#fff500"/>
<polygon points="568.3,125.9 573.2,127.4 567.8,127.1 562.9,125.6" fill="#ffdf00"/>
<polygon points="443.5,126.7 448.9,127.0 443.9,129.4 438.5,129.1" fill="#ffe800"/>
<polygon points="557.9,124.2 562.9,125.6 557.5,125.6 552.5,124.2" fill="#ffd600"/>
<polygon points="453.9,124.9 459.2,125.3 454.2,127.5 448.9,127.0" fill="#ffde00"/>
<polygon points="547.6,122.9 552.5,124.2 547.2,124.3 542.2,123.0" fill="#ffcf00"/>
<polygon points="464.3,123.4 469.6,123.9 464.5,125.9 459.2,125.3" fill="#ffd600"/>
<polygon points="396.6,137.3 402.1,137.1 397.3,140.3 391.8,140.5" fill="#e1ff00"/>
<polygon points="537.2,121.8 542.2,123.0 536.9,123.4 531.8,122.2" fill="#ffca00"/>
<polygon points="474.7,122.2 480.0,122.8 474.9,124.6 469.6,123.9" fill="#ffcf00"/>
<polygon points="526.8,121.1 531.8,122.2 526.5,122.8 521.5,121.7" fill="#ffc600"/>
<polygon points="485.1,121.4 490.3,122.1 485.2,123.6 480.0,122.8" fill="#ffca00"/>
<polygon points="516.4,120.7 521.5,121.7 516.2,122.5 511.1,121.5" fill="#ffc500"/>
<polygon points="495.5,120.8 500.7,121.6 495.5,122.9 490.3,122.1" fill="#ffc600"/>
<polygon points="505.9,120.6 511.1,121.5 505.9,122.6 500.7,121.6" fill="#ffc500"/>
<polygon points="407.0,134.1 412.4,134.0 407.6,137.0 402.1,137.1" fill="#f3ff00"/>
<polygon points="594.5,131.2 599.3,132.8 593.8,131.9 589.0,130.2" fill="#fff400"/>
<polygon points="417.3,131.3 422.8,131.3 417.9,134.1 412.4,134.0" fill="#fffb00"/>
<polygon points="584.1,128.7 589.0,130.2 583.5,129.5 578.7,127.9" fill="#ffe600"/>
<polygon points="427.7,128.7 433.1,128.8 428.2,131.4 422.8,131.3" fill="#ffed00"/>
<polygon points="573.7,126.4 578.7,127.9 573.2,127.4 568.3,125.9" fill="#ffdb00"/>
<polygon points="438.1,126.5 443.5,126.7 438.5,129.1 433.1,128.8" fill="#ffe000"/>
<polygon points="563.3,124.5 568.3,125.9 562.9,125.6 557.9,124.2" fill="#ffd100"/>
<polygon points="448.5,124.6 453.9,124.9 448.9,127.0 443.5,126.7" fill="#ffd600"/>
<polygon points="552.9,122.9 557.9,124.2 552.5,124.2 547.6,122.9" fill="#ffc800"/>
<polygon points="391.1,137.6 396.6,137.3 391.8,140.5 386.3,140.8" fill="#e6ff00"/>
<polygon points="459.0,123.0 464.3,123.4 459.2,125.3 453.9,124.9" fill="#ffcc00"/>
<polygon points="542.5,121.7 547.6,122.9 542.2,123.0 537.2,121.8" fill="#ffc200"/>
<polygon points="469.4,121.7 474.7,122.2 469.6,123.9 464.3,123.4" fill="#ffc500"/>
<polygon points="532.1,120.7 537.2,121.8 531.8,122.2 526.8,121.1" fill="#ffbd00"/>
<polygon points="479.8,120.7 485.1,121.4 480.0,122.8 474.7,122.2" fill="#ffbf00"/>
<polygon points="521.6,120.1 526.8,121.1 521.5,121.7 516.4,120.7" fill="#ffba00"/>
<polygon points="600.0,132.5 604.8,134.1 599.3,132.8 594.5,131.2" fill="#fff300"/>
<polygon points="490.3,120.1 495.5,120.8 490.3,122.1 485.1,121.4" fill="#ffbb00"/>
<polygon points="511.2,119.8 516.4,120.7 511.1,121.5 505.9,120.6" fill="#ffb900"/>
<polygon points="500.7,119.8 505.9,120.6 500.7,121.6 495.5,120.8" fill="#ffb900"/>
<polygon points="401.4,134.4 407.0,134.1 402.1,137.1 396.6,137.3" fill="#f8ff00"/>
<polygon points="589.6,129.7 594.5,131.2 589.0,130.2 584.1,128.7" fill="#ffe500"/>
<polygon points="411.8,131.4 417.3,131.3 412.4,134.0 407.0,134.1" fill="#fff500"/>
<polygon points="579.2,127.2 584.1,128.7 578.7,127.9 573.7,126.4" fill="#ffd800"/>
<polygon points="422.2,128.7 427.7,128.7 422.8,131.3 417.3,131.3" fill="#ffe600"/>
<polygon points="568.8,125.1 573.7,126.4 568.3,125.9 563.3,124.5" fill="#ffcc00"/>
<polygon points="432.7,126.4 438.1,126.5 433.1,128.8 427.7,128.7" fill="#ffd900"/>
<polygon points="558.4,123.3 563.3,124.5 557.9,124.2 552.9,122.9" fill="#ffc300"/>
<polygon points="443.1,124.4 448.5,124.6 443.5,126.7 438.1,126.5" fill="#ffce00"/>
<polygon points="385.5,138.1 391.1,137.6 386.3,140.8 380.7,141.2" fill="#ebff00"/>
<polygon points="547.9,121.8 552.9,122.9 547.6,122.9 542.5,121.7" fill="#ffbb00"/>
<polygon points="453.6,122.7 459.0,123.0 453.9,124.9 448.5,124.6" fill="#ffc400"/>
<polygon points="605.5,133.9 610.3,135.5 604.8,134.1 600.0,132.5" fill="#fff400"/>
<polygon points="537.4,120.6 542.5,121.7 537.2,121.8 532.1,120.7" fill="#ffb500"/>
<polygon points="464.1,121.3 469.4,121.7 464.3,123.4 459.0,123.0" fill="#ffbc00"/>
<polygon points="527.0,119.7 532.1,120.7 526.8,121.1 521.6,120.1" fill="#ffb100"/>
<polygon points="474.5,120.2 479.8,120.7 474.7,122.2 469.4,121.7" fill="#ffb600"/>
<polygon points="395.9,134.7 401.4,134.4 396.6,137.3 391.1,137.6" fill="#feff00"/>
<polygon points="516.5,119.2 521.6,120.1 516.4,120.7 511.2,119.8" fill="#ffaf00"/>
<polygon points="485.0,119.5 490.3,120.1 485.1,121.4 479.8,120.7" fill="#ffb100"/>
<polygon points="506.0,119.0 511.2,119.8 505.9,120.6 500.7,119.8" fill="#ffae00"/>
<polygon points="495.5,119.1 500.7,119.8 495.5,120.8 490.3,120.1" fill="#ffaf00"/>
<polygon points="595.1,130.9 600.0,132.5 594.5,131.2 589.6,129.7" fill="#ffe400"/>
<polygon points="406.3,131.6 411.8,131.4 407.0,134.1 401.4,134.4" fill="#ffef00"/>
<polygon points="584.7,128.3 589.6,129.7 584.1,128.7 579.2,127.2" fill="#ffd600"/>
<polygon points="416.7,128.9 422.2,128.7 417.3,131.3 411.8,131.4" fill="#ffe000"/>
<polygon points="574.3,125.9 579.2,127.2 573.7,126.4 568.8,125.1" fill="#ffc900"/>
<polygon points="427.2,126.4 432.7,126.4 427.7,128.7 422.2,128.7" fill="#ffd200"/>
<polygon points="563.8,123.8 568.8,125.1 563.3,124.5 558.4,123.3" fill="#ffbf00"/>
<polygon points="611.1,135.7 615.9,137.3 610.3,135.5 605.5,133.9" fill="#fff600"/>
<polygon points="437.7,124.3 443.1,124.4 438.1,126.5 432.7,126.4" fill="#ffc600"/>
<polygon points="379.8,138.7 385.5,138.1 380.7,141.2 375.1,141.8" fill="#efff00"/>
<polygon points="553.3,122.1 558.4,123.3 552.9,122.9 547.9,121.8" fill="#ffb600"/>
<polygon points="448.2,122.5 453.6,122.7 448.5,124.6 443.1,124.4" fill="#ffbc00"/>
<polygon points="542.8,120.7 547.9,121.8 542.5,121.7 537.4,120.6" fill="#ffaf00"/>
<polygon points="458.7,121.0 464.1,121.3 459.0,123.0 453.6,122.7" fill="#ffb400"/>
<polygon points="600.7,132.5 605.5,133.9 600.0,132.5 595.1,130.9" fill="#ffe500"/>
<polygon points="390.3,135.2 395.9,134.7 391.1,137.6 385.5,138.1" fill="#fffc00"/>
<polygon points="532.3,119.6 537.4,120.6 532.1,120.7 527.0,119.7" fill="#ffa900"/>
<polygon points="469.2,119.8 474.5,120.2 469.4,121.7 464.1,121.3" fill="#ffad00"/>
<polygon points="521.8,118.8 527.0,119.7 521.6,120.1 516.5,119.2" fill="#ffa600"/>
<polygon points="479.7,119.0 485.0,119.5 479.8,120.7 474.5,120.2" fill="#ffa800"/>
<polygon points="511.3,118.4 516.5,119.2 511.2,119.8 506.0,119.0" fill="#ffa400"/>
<polygon points="490.2,118.5 495.5,119.1 490.3,120.1 485.0,119.5" fill="#ffa500"/>
<polygon points="500.8,118.3 506.0,119.0 500.7,119.8 495.5,119.1" fill="#ffa300"/>
<polygon points="590.2,129.5 595.1,130.9 589.6,129.7 584.7,128.3" fill="#ffd500"/>
<polygon points="400.7,132.0 406.3,131.6 401.4,134.4 395.9,134.7" fill="#ffea00"/>
<polygon points="579.8,126.9 584.7,128.3 579.2,127.2 574.3,125.9" fill="#ffc800"/>
<polygon points="411.2,129.1 416.7,128.9 411.8,131.4 406.3,131.6" fill="#ffda00"/>
<polygon points="616.7,137.7 621.5,139.2 615.9,137.3 611.1,135.7" fill="#fff900"/>
<polygon points="569.3,124.7 574.3,125.9 568.8,125.1 563.8,123.8" fill="#ffbc00"/>
<polygon points="421.7,126.6 427.2,126.4 422.2,128.7 416.7,128.9" fill="#ffcc00"/>
<polygon points="374.2,139.3 379.8,138.7 375.1,141.8 369.4,142.5" fill="#f2ff00"/>
<polygon points="558.8,122.7 563.8,123.8 558.4,123.3 553.3,122.1" fill="#ffb200"/>
<polygon points="432.2,124.3 437.7,124.3 432.7,126.4 427.2,126.4" fill="#ffc000"/>
<polygon points="606.3,134.2 611.1,135.7 605.5,133.9 600.7,132.5" fill="#ffe700"/>
<polygon points="548.3,121.1 553.3,122.1 547.9,121.8 542.8,120.7" fill="#ffa900"/>
<polygon points="442.7,122.4 448.2,122.5 443.1,124.4 437.7,124.3" fill="#ffb500"/>
<polygon points="384.6,135.7 390.3,135.2 385.5,138.1 379.8,138.7" fill="#fff800"/>
<polygon points="537.7,119.7 542.8,120.7 537.4,120.6 532.3,119.6" fill="#ffa300"/>
<polygon points="453.3,120.8 458.7,121.0 453.6,122.7 448.2,122.5" fill="#ffac00"/>
<polygon points="527.2,118.7 532.3,119.6 527.0,119.7 521.8,118.8" fill="#ff9e00"/>
<polygon points="463.8,119.6 469.2,119.8 464.1,121.3 458.7,121.0" fill="#ffa500"/>
<polygon points="595.8,131.1 600.7,132.5 595.1,130.9 590.2,129.5" fill="#ffd600"/>
<polygon points="516.6,118.1 521.8,118.8 516.5,119.2 511.3,118.4" fill="#ff9b00"/>
<polygon points="474.4,118.6 479.7,119.0 474.5,120.2 469.2,119.8" fill="#ff9f00"/>
<polygon points="506.1,117.7 511.3,118.4 506.0,119.0 500.8,118.3" fill="#ff9900"/>
<polygon points="484.9,118.0 490.2,118.5 485.0,119.5 479.7,119.0" fill="#ff9b00"/>
<polygon points="495.5,117.7 500.8,118.3 495.5,119.1 490.2,118.5" fill="#ff9900"/>
<polygon points="395.1,132.4 400.7,132.0 395.9,134.7 390.3,135.2" fill="#ffe600"/>
<polygon points="585.3,128.2 590.2,129.5 584.7,128.3 579.8,126.9" fill="#ffc700"/>
<polygon points="405.6,129.5 411.2,129.1 406.3,131.6 400.7,132.0" fill="#ffd500"/>
<polygon points="622.3,139.9 627.1,141.5 621.5,139.2 616.7,137.7" fill="#fffe00"/>
<polygon points="574.8,125.7 579.8,126.9 574.3,125.9 569.3,124.7" fill="#ffba00"/>
<polygon points="416.2,126.8 421.7,126.6 416.7,128.9 411.2,129.1" fill="#ffc700"/>
<polygon points="368.5,140.2 374.2,139.3 369.4,142.5 363.8,143.3" fill="#f5ff00"/>
<polygon points="564.3,123.5 569.3,124.7 563.8,123.8 558.8,122.7" fill="#ffaf00"/>
<polygon points="611.9,136.2 616.7,137.7 611.1,135.7 606.3,134.2" fill="#ffea00"/>
<polygon points="426.7,124.5 432.2,124.3 427.2,126.4 421.7,126.6" fill="#ffba00"/>
<polygon points="553.7,121.7 558.8,122.7 553.3,122.1 548.3,121.1" fill="#ffa500"/>
<polygon points="437.3,122.5 442.7,122.4 437.7,124.3 432.2,124.3" fill="#ffae00"/>
<polygon points="379.0,136.4 384.6,135.7 379.8,138.7 374.2,139.3" fill="#fff500"/>
<polygon points="543.2,120.1 548.3,121.1 542.8,120.7 537.7,119.7" fill="#ff9e00"/>
<polygon points="601.4,132.9 606.3,134.2 600.7,132.5 595.8,131.1" fill="#ffd800"/>
<polygon points="447.8,120.8 453.3,120.8 448.2,122.5 442.7,122.4" fill="#ffa500"/>
<polygon points="532.6,118.9 537.7,119.7 532.3,119.6 527.2,118.7" fill="#ff9700"/>
<polygon points="458.4,119.4 463.8,119.6 458.7,121.0 453.3,120.8" fill="#ff9d00"/>
<polygon points="522.0,118.0 527.2,118.7 521.8,118.8 516.6,118.1" fill="#ff9300"/>
<polygon points="469.0,118.4 474.4,118.6 469.2,119.8 463.8,119.6" fill="#ff9700"/>
<polygon points="389.5,133.0 395.1,132.4 390.3,135.2 384.6,135.7" fill="#ffe200"/>
<polygon points="511.4,117.4 516.6,118.1 511.3,118.4 506.1,117.7" fill="#ff9000"/>
<polygon points="479.6,117.6 484.9,118.0 479.7,119.0 474.4,118.6" fill="#ff9300"/>
<polygon points="590.9,129.8 595.8,131.1 590.2,129.5 585.3,128.2" fill="#ffc800"/>
<polygon points="500.8,117.2 506.1,117.7 500.8,118.3 495.5,117.7" fill="#ff8f00"/>
<polygon points="490.2,117.2 495.5,117.7 490.2,118.5 484.9,118.0" fill="#ff9000"/>
<polygon points="628.0,142.4 632.7,143.9 627.1,141.5 622.3,139.9" fill="#faff00"/>
<polygon points="400.0,130.0 405.6,129.5 400.7,132.0 395.1,132.4" fill="#ffd100"/>
<polygon points="580.3,127.1 585.3,128.2 579.8,126.9 574.8,125.7" fill="#ffba00"/>
<polygon points="617.5,138.5 622.3,139.9 616.7,137.7 611.9,136.2" fill="#ffef00"/>
<polygon points="410.6,127.2 416.2,126.8 411.2,129.1 405.6,129.5" fill="#ffc200"/>
<polygon points="569.8,124.6 574.8,125.7 569.3,124.7 564.3,123.5" fill="#ffae00"/>
<polygon points="362.8,141.1 368.5,140.2 363.8,143.3 358.0,144.2" fill="#f7ff00"/>
<polygon points="421.2,124.8 426.7,124.5 421.7,126.6 416.2,126.8" fill="#ffb400"/>
<polygon points="559.2,122.5 564.3,123.5 558.8,122.7 553.7,121.7" fill="#ffa300"/>
<polygon points="607.0,134.9 611.9,136.2 606.3,134.2 601.4,132.9" fill="#ffdc00"/>
<polygon points="373.3,137.3 379.0,136.4 374.2,139.3 368.5,140.2" fill="#fff200"/>
<polygon points="431.7,122.6 437.3,122.5 432.2,124.3 426.7,124.5" fill="#ffa800"/>
<polygon points="548.6,120.8 553.7,121.7 548.3,121.1 543.2,120.1" fill="#ff9a00"/>
<polygon points="442.3,120.8 447.8,120.8 442.7,122.4 437.3,122.5" fill="#ff9e00"/>
<polygon points="538.0,119.3 543.2,120.1 537.7,119.7 532.6,118.9" fill="#ff9200"/>
<polygon points="633.6,145.2 638.4,146.7 632.7,143.9 628.0,142.4" fill="#f3ff00"/>
<polygon points="596.5,131.6 601.4,132.9 595.8,131.1 590.9,129.8" fill="#ffcb00"/>
<polygon points="453.0,119.4 458.4,119.4 453.3,120.8 447.8,120.8" fill="#ff9600"/>
<polygon points="527.4,118.2 532.6,118.9 527.2,118.7 522.0,118.0" fill="#ff8d00"/>
<polygon points="383.8,133.8 389.5,133.0 384.6,135.7 379.0,136.4" fill="#ffdf00"/>
<polygon points="463.6,118.2 469.0,118.4 463.8,119.6 458.4,119.4" fill="#ff9000"/>
<polygon points="516.8,117.4 522.0,118.0 516.6,118.1 511.4,117.4" fill="#ff8900"/>
<polygon points="474.2,117.4 479.6,117.6 474.4,118.6 469.0,118.4" fill="#ff8b00"/>
<polygon points="506.1,116.9 511.4,117.4 506.1,117.7 500.8,117.2" fill="#ff8700"/>
<polygon points="484.9,116.9 490.2,117.2 484.9,118.0 479.6,117.6" fill="#ff8800"/>
<polygon points="495.5,116.7 500.8,117.2 495.5,117.7 490.2,117.2" fill="#ff8600"/>
<polygon points="585.9,128.6 590.9,129.8 585.3,128.2 580.3,127.1" fill="#ffbb00"/>
<polygon points="394.4,130.6 400.0,130.0 395.1,132.4 389.5,133.0" fill="#ffcd00"/>
<polygon points="623.1,141.1 628.0,142.4 622.3,139.9 617.5,138.5" fill="#fff500"/>
<polygon points="575.3,126.0 580.3,127.1 574.8,125.7 569.8,124.6" fill="#ffad00"/>
<polygon points="357.0,142.1 362.8,141.1 358.0,144.2 352.3,145.2" fill="#f9ff00"/>
<polygon points="405.0,127.7 410.6,127.2 405.6,129.5 400.0,130.0" fill="#ffbd00"/>
<polygon points="612.6,137.2 617.5,138.5 611.9,136.2 607.0,134.9" fill="#ffe100"/>
<polygon points="564.7,123.6 569.8,124.6 564.3,123.5 559.2,122.5" fill="#ffa100"/>
<polygon points="415.6,125.1 421.2,124.8 416.2,126.8 410.6,127.2" fill="#ffaf00"/>
<polygon points="367.6,138.2 373.3,137.3 368.5,140.2 362.8,141.1" fill="#fff000"/>
<polygon points="639.3,148.2 644.1,149.7 638.4,146.7 633.6,145.2" fill="#ebff00"/>
<polygon points="554.1,121.6 559.2,122.5 553.7,121.7 548.6,120.8" fill="#ff9700"/>
<polygon points="426.2,122.9 431.7,122.6 426.7,124.5 421.2,124.8" fill="#ffa300"/>
<polygon points="602.1,133.7 607.0,134.9 601.4,132.9 596.5,131.6" fill="#ffce00"/>
<polygon points="543.5,119.9 548.6,120.8 543.2,120.1 538.0,119.3" fill="#ff8f00"/>
<polygon points="436.8,121.0 442.3,120.8 437.3,122.5 431.7,122.6" fill="#ff9900"/>
<polygon points="378.1,134.6 383.8,133.8 379.0,136.4 373.3,137.3" fill="#ffdc00"/>
<polygon points="532.8,118.6 538.0,119.3 532.6,118.9 527.4,118.2" fill="#ff8800"/>
<polygon points="447.5,119.4 453.0,119.4 447.8,120.8 442.3,120.8" fill="#ff9000"/>
<polygon points="628.8,143.9 633.6,145.2 628.0,142.4 623.1,141.1" fill="#fffc00"/>
<polygon points="591.5,130.5 596.5,131.6 590.9,129.8 585.9,128.6" fill="#ffbe00"/>
<polygon points="522.2,117.6 527.4,118.2 522.0,118.0 516.8,117.4" fill="#ff8300"/>
<polygon points="458.1,118.2 463.6,118.2 458.4,119.4 453.0,119.4" fill="#ff8900"/>
<polygon points="511.5,116.8 516.8,117.4 511.4,117.4 506.1,116.9" fill="#ff7f00"/>
<polygon points="468.8,117.3 474.2,117.4 469.0,118.4 463.6,118.2" fill="#ff8300"/>
<polygon points="500.8,116.5 506.1,116.9 500.8,117.2 495.5,116.7" fill="#ff7e00"/>
<polygon points="479.5,116.7 484.9,116.9 479.6,117.6 474.2,117.4" fill="#ff8000"/>
<polygon points="490.2,116.4 495.5,116.7 490.2,117.2 484.9,116.9" fill="#ff7e00"/>
<polygon points="388.7,131.3 394.4,130.6 389.5,133.0 383.8,133.8" fill="#ffca00"/>
<polygon points="580.9,127.6 585.9,128.6 580.3,127.1 575.3,126.0" fill="#ffaf00"/>
<polygon points="618.3,139.8 623.1,141.1 617.5,138.5 612.6,137.2" fill="#ffe700"/>
<polygon points="351.2,143.3 357.0,142.1 352.3,145.2 346.5,146.4" fill="#faff00"/>
<polygon points="399.3,128.3 405.0,127.7 400.0,130.0 394.4,130.6" fill="#ffba00"/>
<polygon points="570.3,125.0 575.3,126.0 569.8,124.6 564.7,123.6" fill="#ffa100"/>
<polygon points="645.0,151.5 649.8,153.0 644.1,149.7 639.3,148.2" fill="#e1ff00"/>
<polygon points="410.0,125.7 415.6,125.1 410.6,127.2 405.0,127.7" fill="#ffab00"/>
<polygon points="607.7,136.0 612.6,137.2 607.0,134.9 602.1,133.7" fill="#ffd300"/>
<polygon points="361.8,139.3 367.6,138.2 362.8,141.1 357.0,142.1" fill="#ffee00"/>
<polygon points="559.6,122.8 564.7,123.6 559.2,122.5 554.1,121.6" fill="#ff9600"/>
<polygon points="420.6,123.3 426.2,122.9 421.2,124.8 415.6,125.1" fill="#ff9e00"/>
<polygon points="549.0,120.9 554.1,121.6 548.6,120.8 543.5,119.9" fill="#ff8c00"/>
<polygon points="634.5,146.9 639.3,148.2 633.6,145.2 628.8,143.9" fill="#f9ff00"/>
<polygon points="431.3,121.3 436.8,121.0 431.7,122.6 426.2,122.9" fill="#ff9300"/>
<polygon points="597.1,132.6 602.1,133.7 596.5,131.6 591.5,130.5" fill="#ffc100"/>
<polygon points="372.4,135.6 378.1,134.6 373.3,137.3 367.6,138.2" fill="#ffda00"/>
<polygon points="538.3,119.3 543.5,119.9 538.0,119.3 532.8,118.6" fill="#ff8400"/>
<polygon points="442.0,119.6 447.5,119.4 442.3,120.8 436.8,121.0" fill="#ff8a00"/>
<polygon points="527.6,118.0 532.8,118.6 527.4,118.2 522.2,117.6" fill="#ff7e00"/>
<polygon points="452.7,118.3 458.1,118.2 453.0,119.4 447.5,119.4" fill="#ff8200"/>
<polygon points="516.9,117.0 522.2,117.6 516.8,117.4 511.5,116.8" fill="#ff7900"/>
<polygon points="463.4,117.3 468.8,117.3 463.6,118.2 458.1,118.2" fill="#ff7d00"/>
<polygon points="586.5,129.4 591.5,130.5 585.9,128.6 580.9,127.6" fill="#ffb100"/>
<polygon points="383.0,132.2 388.7,131.3 383.8,133.8 378.1,134.6" fill="#ffc800"/>
<polygon points="624.0,142.6 628.8,143.9 623.1,141.1 618.3,139.8" fill="#ffee00"/>
<polygon points="506.2,116.4 511.5,116.8 506.1,116.9 500.8,116.5" fill="#ff7700"/>
<polygon points="474.1,116.6 479.5,116.7 474.2,117.4 468.8,117.3" fill="#ff7800"/>
<polygon points="495.5,116.2 500.8,116.5 495.5,116.7 490.2,116.4" fill="#ff7500"/>
<polygon points="484.8,116.2 490.2,116.4 484.9,116.9 479.5,116.7" fill="#ff7600"/>
<polygon points="650.8,155.1 655.5,156.5 649.8,153.0 645.0,151.5" fill="#d5ff00"/>
<polygon points="345.4,144.6 351.2,143.3 346.5,146.4 340.7,147.7" fill="#faff00"/>
<polygon points="575.9,126.6 580.9,127.6 575.3,126.0 570.3,125.0" fill="#ffa300"/>
<polygon points="393.6,129.1 399.3,128.3 394.4,130.6 388.7,131.3" fill="#ffb700"/>
<polygon points="613.4,138.6 618.3,139.8 612.6,137.2 607.7,136.0" fill="#ffda00"/>
<polygon points="565.2,124.2 570.3,125.0 564.7,123.6 559.6,122.8" fill="#ff9600"/>
<polygon points="404.3,126.3 410.0,125.7 405.0,127.7 399.3,128.3" fill="#ffa800"/>
<polygon points="356.0,140.5 361.8,139.3 357.0,142.1 351.2,143.3" fill="#ffee00"/>
<polygon points="640.2,150.2 645.0,151.5 639.3,148.2 634.5,146.9" fill="#efff00"/>
<polygon points="554.5,122.0 559.6,122.8 554.1,121.6 549.0,120.9" fill="#ff8b00"/>
<polygon points="415.0,123.9 420.6,123.3 415.6,125.1 410.0,125.7" fill="#ff9a00"/>
<polygon points="602.8,134.9 607.7,136.0 602.1,133.7 597.1,132.6" fill="#ffc600"/>
<polygon points="366.6,136.7 372.4,135.6 367.6,138.2 361.8,139.3" fill="#ffd900"/>
<polygon points="543.8,120.2 549.0,120.9 543.5,119.9 538.3,119.3" fill="#ff8200"/>
<polygon points="425.7,121.8 431.3,121.3 426.2,122.9 420.6,123.3" fill="#ff8f00"/>
<polygon points="629.7,145.7 634.5,146.9 628.8,143.9 624.0,142.6" fill="#fff700"/>
<polygon points="656.5,158.9 661.2,160.3 655.5,156.5 650.8,155.1" fill="#c9ff00"/>
<polygon points="533.1,118.7 538.3,119.3 532.8,118.6 527.6,118.0" fill="#ff7a00"/>
<polygon points="436.4,120.0 442.0,119.6 436.8,121.0 431.3,121.3" fill="#ff8500"/>
<polygon points="592.1,131.6 597.1,132.6 591.5,130.5 586.5,129.4" fill="#ffb500"/>
<polygon points="522.3,117.5 527.6,118.0 522.2,117.6 516.9,117.0" fill="#ff7500"/>
<polygon points="447.1,118.5 452.7,118.3 447.5,119.4 442.0,119.6" fill="#ff7d00"/>
<polygon points="377.3,133.1 383.0,132.2 378.1,134.6 372.4,135.6" fill="#ffc600"/>
<polygon points="511.6,116.7 516.9,117.0 511.5,116.8 506.2,116.4" fill="#ff7100"/>
<polygon points="457.9,117.4 463.4,117.3 458.1,118.2 452.7,118.3" fill="#ff7600"/>
<polygon points="500.9,116.2 506.2,116.4 500.8,116.5 495.5,116.2" fill="#ff6e00"/>
<polygon points="468.6,116.6 474.1,116.6 468.8,117.3 463.4,117.3" fill="#ff7200"/>
<polygon points="339.6,146.1 345.4,144.6 340.7,147.7 334.9,149.1" fill="#f9ff00"/>
<polygon points="490.1,116.0 495.5,116.2 490.2,116.4 484.8,116.2" fill="#ff6e00"/>
<polygon points="479.4,116.1 484.8,116.2 479.5,116.7 474.1,116.6" fill="#ff6f00"/>
<polygon points="581.5,128.5 586.5,129.4 580.9,127.6 575.9,126.6" fill="#ffa500"/>
<polygon points="619.1,141.5 624.0,142.6 618.3,139.8 613.4,138.6" fill="#ffe100"/>
<polygon points="387.9,129.9 393.6,129.1 388.7,131.3 383.0,132.2" fill="#ffb500"/>
<polygon points="646.0,153.8 650.8,155.1 645.0,151.5 640.2,150.2" fill="#e4ff00"/>
<polygon points="570.8,125.8 575.9,126.6 570.3,125.0 565.2,124.2" fill="#ff9800"/>
<polygon points="350.2,141.8 356.0,140.5 351.2,143.3 345.4,144.6" fill="#ffee00"/>
<polygon points="398.6,127.1 404.3,126.3 399.3,128.3 393.6,129.1" fill="#ffa500"/>
<polygon points="608.4,137.5 613.4,138.6 607.7,136.0 602.8,134.9" fill="#ffcd00"/>
<polygon points="560.1,123.4 565.2,124.2 559.6,122.8 554.5,122.0" fill="#ff8b00"/>
<polygon points="662.3,163.0 667.0,164.3 661.2,160.3 656.5,158.9" fill="#bbff00"/>
<polygon points="409.3,124.5 415.0,123.9 410.0,125.7 404.3,126.3" fill="#ff9700"/>
<polygon points="635.4,149.0 640.2,150.2 634.5,146.9 629.7,145.7" fill="#fdff00"/>
<polygon points="360.8,137.9 366.6,136.7 361.8,139.3 356.0,140.5" fill="#ffd800"/>
<polygon points="549.3,121.4 554.5,122.0 549.0,120.9 543.8,120.2" fill="#ff8100"/>
<polygon points="597.8,133.9 602.8,134.9 597.1,132.6 592.1,131.6" fill="#ffba00"/>
<polygon points="420.1,122.3 425.7,121.8 420.6,123.3 415.0,123.9" fill="#ff8b00"/>
<polygon points="538.6,119.6 543.8,120.2 538.3,119.3 533.1,118.7" fill="#ff7800"/>
<polygon points="430.8,120.4 436.4,120.0 431.3,121.3 425.7,121.8" fill="#ff8100"/>
<polygon points="527.8,118.2 533.1,118.7 527.6,118.0 522.3,117.5" fill="#ff7100"/>
<polygon points="371.5,134.2 377.3,133.1 372.4,135.6 366.6,136.7" fill="#ffc500"/>
<polygon points="624.8,144.6 629.7,145.7 624.0,142.6 619.1,141.5" fill="#ffea00"/>
<polygon points="441.6,118.9 447.1,118.5 442.0,119.6 436.4,120.0" fill="#ff7800"/>
<polygon points="587.1,130.7 592.1,131.6 586.5,129.4 581.5,128.5" fill="#ffa900"/>
<polygon points="651.7,157.7 656.5,158.9 650.8,155.1 646.0,153.8" fill="#d7ff00"/>
<polygon points="333.7,147.7 339.6,146.1 334.9,149.1 329.0,150.7" fill="#f8ff00"/>
<polygon points="517.0,117.1 522.3,117.5 516.9,117.0 511.6,116.7" fill="#ff6c00"/>
<polygon points="452.3,117.6 457.9,117.4 452.7,118.3 447.1,118.5" fill="#ff7100"/>
<polygon points="506.3,116.4 511.6,116.7 506.2,116.4 500.9,116.2" fill="#ff6800"/>
<polygon points="463.1,116.7 468.6,116.6 463.4,117.3 457.9,117.4" fill="#ff6c00"/>
<polygon points="495.5,116.0 500.9,116.2 495.5,116.2 490.1,116.0" fill="#ff6700"/>
<polygon points="473.9,116.1 479.4,116.1 474.1,116.6 468.6,116.6" fill="#ff6800"/>
<polygon points="484.7,115.9 490.1,116.0 484.8,116.2 479.4,116.1" fill="#ff6700"/>
<polygon points="382.2,130.9 387.9,129.9 383.0,132.2 377.3,133.1" fill="#ffb300"/>
<polygon points="576.4,127.7 581.5,128.5 575.9,126.6 570.8,125.8" fill="#ff9a00"/>
<polygon points="614.1,140.4 619.1,141.5 613.4,138.6 608.4,137.5" fill="#ffd500"/>
<polygon points="668.1,167.4 672.8,168.7 667.0,164.3 662.3,163.0" fill="#acff00"/>
<polygon points="344.3,143.3 350.2,141.8 345.4,144.6 339.6,146.1" fill="#ffee00"/>
<polygon points="641.1,152.7 646.0,153.8 640.2,150.2 635.4,149.0" fill="#f1ff00"/>
<polygon points="392.9,128.0 398.6,127.1 393.6,129.1 387.9,129.9" fill="#ffa300"/>
<polygon points="565.6,125.1 570.8,125.8 565.2,124.2 560.1,123.4" fill="#ff8d00"/>
<polygon points="403.6,125.3 409.3,124.5 404.3,126.3 398.6,127.1" fill="#ff9400"/>
<polygon points="603.5,136.6 608.4,137.5 602.8,134.9 597.8,133.9" fill="#ffc100"/>
<polygon points="554.9,122.8 560.1,123.4 554.5,122.0 549.3,121.4" fill="#ff8100"/>
<polygon points="355.0,139.2 360.8,137.9 356.0,140.5 350.2,141.8" fill="#ffd800"/>
<polygon points="657.5,161.8 662.3,163.0 656.5,158.9 651.7,157.7" fill="#c9ff00"/>
<polygon points="414.4,123.0 420.1,122.3 415.0,123.9 409.3,124.5" fill="#ff8800"/>
<polygon points="630.5,148.0 635.4,149.0 629.7,145.7 624.8,144.6" fill="#fff400"/>
<polygon points="544.1,120.8 549.3,121.4 543.8,120.2 538.6,119.6" fill="#ff7700"/>
<polygon points="592.8,133.1 597.8,133.9 592.1,131.6 587.1,130.7" fill="#ffaf00"/>
<polygon points="425.2,121.0 430.8,120.4 425.7,121.8 420.1,122.3" fill="#ff7d00"/>
<polygon points="365.7,135.5 371.5,134.2 366.6,136.7 360.8,137.9" fill="#ffc400"/>
<polygon points="533.3,119.2 538.6,119.6 533.1,118.7 527.8,118.2" fill="#ff6f00"/>
<polygon points="327.8,149.4 333.7,147.7 329.0,150.7 323.1,152.4" fill="#f7ff00"/>
<polygon points="436.0,119.3 441.6,118.9 436.4,120.0 430.8,120.4" fill="#ff7400"/>
<polygon points="673.9,172.0 678.6,173.3 672.8,168.7 668.1,167.4" fill="#9bff00"/>
<polygon points="522.5,117.9 527.8,118.2 522.3,117.5 517.0,117.1" fill="#ff6900"/>
<polygon points="446.8,118.0 452.3,117.6 447.1,118.5 441.6,118.9" fill="#ff6c00"/>
<polygon points="619.9,143.6 624.8,144.6 619.1,141.5 614.1,140.4" fill="#ffde00"/>
<polygon points="511.7,116.9 517.0,117.1 511.6,116.7 506.3,116.4" fill="#ff6400"/>
<polygon points="582.0,129.9 587.1,130.7 581.5,128.5 576.4,127.7" fill="#ff9e00"/>
<polygon points="646.9,156.6 651.7,157.7 646.0,153.8 641.1,152.7" fill="#e4ff00"/>
<polygon points="376.4,132.1 382.2,130.9 377.3,133.1 371.5,134.2" fill="#ffb200"/>
<polygon points="457.6,117.0 463.1,116.7 457.9,117.4 452.3,117.6" fill="#ff6600"/>
<polygon points="500.9,116.3 506.3,116.4 500.9,116.2 495.5,116.0" fill="#ff6100"/>
<polygon points="468.4,116.3 473.9,116.1 468.6,116.6 463.1,116.7" fill="#ff6200"/>
<polygon points="490.1,115.9 495.5,116.0 490.1,116.0 484.7,115.9" fill="#ff6000"/>
<polygon points="479.2,116.0 484.7,115.9 479.4,116.1 473.9,116.1" fill="#ff6000"/>
<polygon points="338.4,144.9 344.3,143.3 339.6,146.1 333.7,147.7" fill="#ffef00"/>
<polygon points="571.3,127.0 576.4,127.7 570.8,125.8 565.6,125.1" fill="#ff9000"/>
<polygon points="387.1,129.0 392.9,128.0 387.9,129.9 382.2,130.9" fill="#ffa100"/>
<polygon points="609.2,139.5 614.1,140.4 608.4,137.5 603.5,136.6" fill="#ffc900"/>
<polygon points="663.3,166.2 668.1,167.4 662.3,163.0 657.5,161.8" fill="#baff00"/>
<polygon points="636.3,151.6 641.1,152.7 635.4,149.0 630.5,148.0" fill="#feff00"/>
<polygon points="560.5,124.5 565.6,125.1 560.1,123.4 554.9,122.8" fill="#ff8300"/>
<polygon points="397.9,126.2 403.6,125.3 398.6,127.1 392.9,128.0" fill="#ff9200"/>
<polygon points="349.1,140.7 355.0,139.2 350.2,141.8 344.3,143.3" fill="#ffd900"/>
<polygon points="679.7,176.9 684.4,178.1 678.6,173.3 673.9,172.0" fill="#89ff00"/>
<polygon points="598.4,135.8 603.5,136.6 597.8,133.9 592.8,133.1" fill="#ffb500"/>
<polygon points="549.7,122.3 554.9,122.8 549.3,121.4 544.1,120.8" fill="#ff7800"/>
<polygon points="408.7,123.8 414.4,123.0 409.3,124.5 403.6,125.3" fill="#ff8500"/>
<polygon points="538.9,120.4 544.1,120.8 538.6,119.6 533.3,119.2" fill="#ff6e00"/>
<polygon points="359.8,136.9 365.7,135.5 360.8,137.9 355.0,139.2" fill="#ffc400"/>
<polygon points="321.8,151.2 327.8,149.4 323.1,152.4 317.2,154.2" fill="#f4ff00"/>
<polygon points="652.7,160.7 657.5,161.8 651.7,157.7 646.9,156.6" fill="#d6ff00"/>
<polygon points="419.5,121.7 425.2,121.0 420.1,122.3 414.4,123.0" fill="#ff7a00"/>
<polygon points="625.6,147.0 630.5,148.0 624.8,144.6 619.9,143.6" fill="#ffe800"/>
<polygon points="587.7,132.3 592.8,133.1 587.1,130.7 582.0,129.9" fill="#ffa400"/>
<polygon points="528.0,118.9 533.3,119.2 527.8,118.2 522.5,117.9" fill="#ff6700"/>
<polygon points="430.3,119.9 436.0,119.3 430.8,120.4 425.2,121.0" fill="#ff7000"/>
<polygon points="517.2,117.7 522.5,117.9 517.0,117.1 511.7,116.9" fill="#ff6100"/>
<polygon points="441.2,118.5 446.8,118.0 441.6,118.9 436.0,119.3" fill="#ff6800"/>
<polygon points="370.6,133.3 376.4,132.1 371.5,134.2 365.7,135.5" fill="#ffb100"/>
<polygon points="669.1,170.9 673.9,172.0 668.1,167.4 663.3,166.2" fill="#a9ff00"/>
<polygon points="506.3,116.8 511.7,116.9 506.3,116.4 500.9,116.3" fill="#ff5d00"/>
<polygon points="452.0,117.4 457.6,117.0 452.3,117.6 446.8,118.0" fill="#ff6200"/>
<polygon points="332.5,146.6 338.4,144.9 333.7,147.7 327.8,149.4" fill="#fff100"/>
<polygon points="576.9,129.2 582.0,129.9 576.4,127.7 571.3,127.0" fill="#ff9400"/>
<polygon points="495.5,116.2 500.9,116.3 495.5,116.0 490.1,115.9" fill="#ff5a00"/>
<polygon points="614.9,142.7 619.9,143.6 614.1,140.4 609.2,139.5" fill="#ffd200"/>
<polygon points="462.9,116.6 468.4,116.3 463.1,116.7 457.6,117.0" fill="#ff5d00"/>
<polygon points="484.6,116.0 490.1,115.9 484.7,115.9 479.2,116.0" fill="#ff5900"/>
<polygon points="473.7,116.1 479.2,116.0 473.9,116.1 468.4,116.3" fill="#ff5a00"/>
<polygon points="642.0,155.5 646.9,156.6 641.1,152.7 636.3,151.6" fill="#f1ff00"/>
<polygon points="381.4,130.1 387.1,129.0 382.2,130.9 376.4,132.1" fill="#ffa000"/>
<polygon points="685.5,182.1 690.2,183.3 684.4,178.1 679.7,176.9" fill="#76ff00"/>
<polygon points="566.1,126.5 571.3,127.0 565.6,125.1 560.5,124.5" fill="#ff8600"/>
<polygon points="343.2,142.3 349.1,140.7 344.3,143.3 338.4,144.9" fill="#ffda00"/>
<polygon points="604.2,138.7 609.2,139.5 603.5,136.6 598.4,135.8" fill="#ffbd00"/>
<polygon points="392.2,127.3 397.9,126.2 392.9,128.0 387.1,129.0" fill="#ff9100"/>
<polygon points="658.5,165.2 663.3,166.2 657.5,161.8 652.7,160.7" fill="#c7ff00"/>
<polygon points="555.3,124.0 560.5,124.5 554.9,122.8 549.7,122.3" fill="#ff7a00"/>
<polygon points="631.4,150.7 636.3,151.6 630.5,148.0 625.6,147.0" fill="#fff400"/>
<polygon points="403.0,124.7 408.7,123.8 403.6,125.3 397.9,126.2" fill="#ff8300"/>
<polygon points="315.9,153.2 321.8,151.2 317.2,154.2 311.2,156.1" fill="#f1ff00"/>
<polygon points="544.4,121.9 549.7,122.3 544.1,120.8 538.9,120.4" fill="#ff6f00"/>
<polygon points="354.0,138.4 359.8,136.9 355.0,139.2 349.1,140.7" fill="#ffc500"/>
<polygon points="593.4,135.0 598.4,135.8 592.8,133.1 587.7,132.3" fill="#ffaa00"/>
<polygon points="674.9,175.8 679.7,176.9 673.9,172.0 669.1,170.9" fill="#97ff00"/>
<polygon points="413.8,122.5 419.5,121.7 414.4,123.0 408.7,123.8" fill="#ff7700"/>
<polygon points="533.6,120.1 538.9,120.4 533.3,119.2 528.0,118.9" fill="#ff6600"/>
<polygon points="691.3,187.5 696.0,188.7 690.2,183.3 685.5,182.1" fill="#62ff00"/>
<polygon points="424.7,120.6 430.3,119.9 425.2,121.0 419.5,121.7" fill="#ff6d00"/>
<polygon points="620.6,146.1 625.6,147.0 619.9,143.6 614.9,142.7" fill="#ffdc00"/>
<polygon points="647.8,159.7 652.7,160.7 646.9,156.6 642.0,155.5" fill="#e3ff00"/>
<polygon points="522.7,118.7 528.0,118.9 522.5,117.9 517.2,117.7" fill="#ff5f00"/>
<polygon points="364.7,134.7 370.6,133.3 365.7,135.5 359.8,136.9" fill="#ffb200"/>
<polygon points="582.6,131.7 587.7,132.3 582.0,129.9 576.9,129.2" fill="#ff9900"/>
<polygon points="435.5,119.1 441.2,118.5 436.0,119.3 430.3,119.9" fill="#ff6400"/>
<polygon points="326.5,148.4 332.5,146.6 327.8,149.4 321.8,151.2" fill="#fff400"/>
<polygon points="511.8,117.6 517.2,117.7 511.7,116.9 506.3,116.8" fill="#ff5a00"/>
<polygon points="446.4,117.9 452.0,117.4 446.8,118.0 441.2,118.5" fill="#ff5e00"/>
<polygon points="500.9,116.8 506.3,116.8 500.9,116.3 495.5,116.2" fill="#ff5600"/>
<polygon points="457.3,117.0 462.9,116.6 457.6,117.0 452.0,117.4" fill="#ff5900"/>
<polygon points="490.0,116.3 495.5,116.2 490.1,115.9 484.6,116.0" fill="#ff5400"/>
<polygon points="468.2,116.4 473.7,116.1 468.4,116.3 462.9,116.6" fill="#ff5500"/>
<polygon points="479.1,116.2 484.6,116.0 479.2,116.0 473.7,116.1" fill="#ff5400"/>
<polygon points="664.3,169.9 669.1,170.9 663.3,166.2 658.5,165.2" fill="#b6ff00"/>
<polygon points="375.5,131.4 381.4,130.1 376.4,132.1 370.6,133.3" fill="#ffa000"/>
<polygon points="571.7,128.7 576.9,129.2 571.3,127.0 566.1,126.5" fill="#ff8a00"/>
<polygon points="609.9,141.9 614.9,142.7 609.2,139.5 604.2,138.7" fill="#ffc600"/>
<polygon points="637.1,154.6 642.0,155.5 636.3,151.6 631.4,150.7" fill="#fdff00"/>
<polygon points="337.3,144.1 343.2,142.3 338.4,144.9 332.5,146.6" fill="#ffdc00"/>
<polygon points="680.8,181.0 685.5,182.1 679.7,176.9 674.9,175.8" fill="#84ff00"/>
<polygon points="386.4,128.4 392.2,127.3 387.1,129.0 381.4,130.1" fill="#ff9000"/>
<polygon points="560.9,126.0 566.1,126.5 560.5,124.5 555.3,124.0" fill="#ff7d00"/>
<polygon points="697.2,193.2 701.8,194.3 696.0,188.7 691.3,187.5" fill="#4cff00"/>
<polygon points="599.1,138.0 604.2,138.7 598.4,135.8 593.4,135.0" fill="#ffb300"/>
<polygon points="309.8,155.3 315.9,153.2 311.2,156.1 305.2,158.2" fill="#eeff00"/>
<polygon points="397.2,125.8 403.0,124.7 397.9,126.2 392.2,127.3" fill="#ff8200"/>
<polygon points="550.0,123.7 555.3,124.0 549.7,122.3 544.4,121.9" fill="#ff7100"/>
<polygon points="653.7,164.2 658.5,165.2 652.7,160.7 647.8,159.7" fill="#d3ff00"/>
<polygon points="348.0,140.0 354.0,138.4 349.1,140.7 343.2,142.3" fill="#ffc600"/>
<polygon points="626.4,149.9 631.4,150.7 625.6,147.0 620.6,146.1" fill="#ffe800"/>
<polygon points="408.1,123.5 413.8,122.5 408.7,123.8 403.0,124.7" fill="#ff7500"/>
<polygon points="539.1,121.7 544.4,121.9 538.9,120.4 533.6,120.1" fill="#ff6700"/>
<polygon points="588.3,134.4 593.4,135.0 587.7,132.3 582.6,131.7" fill="#ffa000"/>
<polygon points="670.1,174.8 674.9,175.8 669.1,170.9 664.3,169.9" fill="#a4ff00"/>
<polygon points="419.0,121.5 424.7,120.6 419.5,121.7 413.8,122.5" fill="#ff6a00"/>
<polygon points="528.2,120.0 533.6,120.1 528.0,118.9 522.7,118.7" fill="#ff5e00"/>
<polygon points="358.8,136.2 364.7,134.7 359.8,136.9 354.0,138.4" fill="#ffb200"/>
<polygon points="320.6,150.4 326.5,148.4 321.8,151.2 315.9,153.2" fill="#fff700"/>
<polygon points="429.9,119.8 435.5,119.1 430.3,119.9 424.7,120.6" fill="#ff6100"/>
<polygon points="517.3,118.6 522.7,118.7 517.2,117.7 511.8,117.6" fill="#ff5800"/>
<polygon points="615.6,145.4 620.6,146.1 614.9,142.7 609.9,141.9" fill="#ffd100"/>
<polygon points="643.0,158.9 647.8,159.7 642.0,155.5 637.1,154.6" fill="#efff00"/>
<polygon points="686.6,186.5 691.3,187.5 685.5,182.1 680.8,181.0" fill="#6fff00"/>
<polygon points="577.4,131.2 582.6,131.7 576.9,129.2 571.7,128.7" fill="#ff9000"/>
<polygon points="440.8,118.5 446.4,117.9 441.2,118.5 435.5,119.1" fill="#ff5a00"/>
<polygon points="506.4,117.6 511.8,117.6 506.3,116.8 500.9,116.8" fill="#ff5300"/>
<polygon points="703.1,199.2 707.7,200.3 701.8,194.3 697.2,193.2" fill="#35ff00"/>
<polygon points="369.7,132.8 375.5,131.4 370.6,133.3 364.7,134.7" fill="#ffa000"/>
<polygon points="451.7,117.5 457.3,117.0 452.0,117.4 446.4,117.9" fill="#ff5500"/>
<polygon points="495.5,116.9 500.9,116.8 495.5,116.2 490.0,116.3" fill="#ff5000"/>
<polygon points="462.6,116.9 468.2,116.4 462.9,116.6 457.3,117.0" fill="#ff5100"/>
<polygon points="484.5,116.6 490.0,116.3 484.6,116.0 479.1,116.2" fill="#ff4e00"/>
<polygon points="473.6,116.5 479.1,116.2 473.7,116.1 468.2,116.4" fill="#ff4f00"/>
<polygon points="331.3,145.9 337.3,144.1 332.5,146.6 326.5,148.4" fill="#ffdf00"/>
<polygon points="566.6,128.3 571.7,128.7 566.1,126.5 560.9,126.0" fill="#ff8100"/>
<polygon points="659.5,168.9 664.3,169.9 658.5,165.2 653.7,164.2" fill="#c3ff00"/>
<polygon points="604.8,141.3 609.9,141.9 604.2,138.7 599.1,138.0" fill="#ffbc00"/>
<polygon points="380.5,129.7 386.4,128.4 381.4,130.1 375.5,131.4" fill="#ff9000"/>
<polygon points="632.2,153.9 637.1,154.6 631.4,150.7 626.4,149.9" fill="#fff500"/>
<polygon points="303.8,157.5 309.8,155.3 305.2,158.2 299.2,160.4" fill="#e9ff00"/>
<polygon points="555.7,125.7 560.9,126.0 555.3,124.0 550.0,123.7" fill="#ff7400"/>
<polygon points="676.0,180.1 680.8,181.0 674.9,175.8 670.1,174.8" fill="#91ff00"/>
<polygon points="391.4,127.0 397.2,125.8 392.2,127.3 386.4,128.4" fill="#ff8100"/>
<polygon points="342.1,141.7 348.0,140.0 343.2,142.3 337.3,144.1" fill="#ffc800"/>
<polygon points="594.0,137.5 599.1,138.0 593.4,135.0 588.3,134.4" fill="#ffa800"/>
<polygon points="544.7,123.4 550.0,123.7 544.4,121.9 539.1,121.7" fill="#ff6900"/>
<polygon points="692.5,192.3 697.2,193.2 691.3,187.5 686.6,186.5" fill="#59ff00"/>
<polygon points="708.9,205.5 713.6,206.5 707.7,200.3 703.1,199.2" fill="#1cff00"/>
<polygon points="402.3,124.5 408.1,123.5 403.0,124.7 397.2,125.8" fill="#ff7400"/>
<polygon points="648.8,163.4 653.7,164.2 647.8,159.7 643.0,158.9" fill="#dfff00"/>
<polygon points="621.4,149.2 626.4,149.9 620.6,146.1 615.6,145.4" fill="#ffdd00"/>
<polygon points="533.8,121.5 539.1,121.7 533.6,120.1 528.2,120.0" fill="#ff5f00"/>
<polygon points="352.9,137.9 358.8,136.2 354.0,138.4 348.0,140.0" fill="#ffb400"/>
<polygon points="314.5,152.6 320.6,150.4 315.9,153.2 309.8,155.3" fill="#fffa00"/>
<polygon points="413.2,122.4 419.0,121.5 413.8,122.5 408.1,123.5" fill="#ff6900"/>
<polygon points="583.1,134.0 588.3,134.4 582.6,131.7 577.4,131.2" fill="#ff9700"/>
<polygon points="522.9,119.9 528.2,120.0 522.7,118.7 517.3,118.6" fill="#ff5700"/>
<polygon points="424.2,120.7 429.9,119.8 424.7,120.6 419.0,121.5" fill="#ff5f00"/>
<polygon points="665.3,174.0 670.1,174.8 664.3,169.9 659.5,168.9" fill="#b0ff00"/>
<polygon points="511.9,118.7 517.3,118.6 511.8,117.6 506.4,117.6" fill="#ff5100"/>
<polygon points="435.1,119.3 440.8,118.5 435.5,119.1 429.9,119.8" fill="#ff5700"/>
<polygon points="363.8,134.4 369.7,132.8 364.7,134.7 358.8,136.2" fill="#ffa100"/>
<polygon points="610.6,144.8 615.6,145.4 609.9,141.9 604.8,141.3" fill="#ffc700"/>
<polygon points="500.9,117.7 506.4,117.6 500.9,116.8 495.5,116.9" fill="#ff4d00"/>
<polygon points="572.2,130.8 577.4,131.2 571.7,128.7 566.6,128.3" fill="#ff8700"/>
<polygon points="446.1,118.2 451.7,117.5 446.4,117.9 440.8,118.5" fill="#ff5100"/>
<polygon points="638.0,158.1 643.0,158.9 637.1,154.6 632.2,153.9" fill="#fbff00"/>
<polygon points="325.3,147.9 331.3,145.9 326.5,148.4 320.6,150.4" fill="#ffe200"/>
<polygon points="681.9,185.6 686.6,186.5 680.8,181.0 676.0,180.1" fill="#7cff00"/>
<polygon points="490.0,117.2 495.5,116.9 490.0,116.3 484.5,116.6" fill="#ff4a00"/>
<polygon points="457.0,117.4 462.6,116.9 457.3,117.0 451.7,117.5" fill="#ff4d00"/>
<polygon points="479.0,116.9 484.5,116.6 479.1,116.2 473.6,116.5" fill="#ff4900"/>
<polygon points="468.0,117.0 473.6,116.5 468.2,116.4 462.6,116.9" fill="#ff4a00"/>
<polygon points="698.4,198.3 703.1,199.2 697.2,193.2 692.5,192.3" fill="#42ff00"/>
<polygon points="374.7,131.2 380.5,129.7 375.5,131.4 369.7,132.8" fill="#ff9000"/>
<polygon points="561.3,128.0 566.6,128.3 560.9,126.0 555.7,125.7" fill="#ff7900"/>
<polygon points="297.7,159.9 303.8,157.5 299.2,160.4 293.1,162.8" fill="#e5ff00"/>
<polygon points="599.7,140.7 604.8,141.3 599.1,138.0 594.0,137.5" fill="#ffb200"/>
<polygon points="654.6,168.2 659.5,168.9 653.7,164.2 648.8,163.4" fill="#ceff00"/>
<polygon points="336.1,143.6 342.1,141.7 337.3,144.1 331.3,145.9" fill="#ffcb00"/>
<polygon points="385.6,128.3 391.4,127.0 386.4,128.4 380.5,129.7" fill="#ff8100"/>
<polygon points="627.2,153.2 632.2,153.9 626.4,149.9 621.4,149.2" fill="#ffea00"/>
<polygon points="550.4,125.5 555.7,125.7 550.0,123.7 544.7,123.4" fill="#ff6c00"/>
<polygon points="671.2,179.3 676.0,180.1 670.1,174.8 665.3,174.0" fill="#9dff00"/>
<polygon points="396.5,125.8 402.3,124.5 397.2,125.8 391.4,127.0" fill="#ff7300"/>
<polygon points="588.9,137.0 594.0,137.5 588.3,134.4 583.1,134.0" fill="#ff9f00"/>
<polygon points="539.4,123.3 544.7,123.4 539.1,121.7 533.8,121.5" fill="#ff6100"/>
<polygon points="308.5,154.8 314.5,152.6 309.8,155.3 303.8,157.5" fill="#ffff00"/>
<polygon points="347.0,139.7 352.9,137.9 348.0,140.0 342.1,141.7" fill="#ffb600"/>
<polygon points="687.7,191.4 692.5,192.3 686.6,186.5 681.9,185.6" fill="#66ff00"/>
<polygon points="407.5,123.6 413.2,122.4 408.1,123.5 402.3,124.5" fill="#ff6800"/>
<polygon points="704.2,204.6 708.9,205.5 703.1,199.2 698.4,198.3" fill="#2aff00"/>
<polygon points="643.8,162.7 648.8,163.4 643.0,158.9 638.0,158.1" fill="#ebff00"/>
<polygon points="528.4,121.5 533.8,121.5 528.2,120.0 522.9,119.9" fill="#ff5800"/>
<polygon points="616.4,148.6 621.4,149.2 615.6,145.4 610.6,144.8" fill="#ffd300"/>
<polygon points="418.4,121.7 424.2,120.7 419.0,121.5 413.2,122.4" fill="#ff5e00"/>
<polygon points="577.9,133.6 583.1,134.0 577.4,131.2 572.2,130.8" fill="#ff8e00"/>
<polygon points="517.5,120.0 522.9,119.9 517.3,118.6 511.9,118.7" fill="#ff5100"/>
<polygon points="357.9,136.0 363.8,134.4 358.8,136.2 352.9,137.9" fill="#ffa300"/>
<polygon points="429.4,120.1 435.1,119.3 429.9,119.8 424.2,120.7" fill="#ff5500"/>
<polygon points="319.3,150.1 325.3,147.9 320.6,150.4 314.5,152.6" fill="#ffe600"/>
<polygon points="506.5,118.8 511.9,118.7 506.4,117.6 500.9,117.7" fill="#ff4b00"/>
<polygon points="660.5,173.2 665.3,174.0 659.5,168.9 654.6,168.2" fill="#bcff00"/>
<polygon points="440.4,119.0 446.1,118.2 440.8,118.5 435.1,119.3" fill="#ff4f00"/>
<polygon points="495.4,118.0 500.9,117.7 495.5,116.9 490.0,117.2" fill="#ff4800"/>
<polygon points="451.4,118.1 457.0,117.4 451.7,117.5 446.1,118.2" fill="#ff4a00"/>
<polygon points="484.4,117.5 490.0,117.2 484.5,116.6 479.0,116.9" fill="#ff4600"/>
<polygon points="605.5,144.3 610.6,144.8 604.8,141.3 599.7,140.7" fill="#ffbd00"/>
<polygon points="567.0,130.5 572.2,130.8 566.6,128.3 561.3,128.0" fill="#ff7e00"/>
<polygon points="462.4,117.6 468.0,117.0 462.6,116.9 457.0,117.4" fill="#ff4700"/>
<polygon points="473.4,117.4 479.0,116.9 473.6,116.5 468.0,117.0" fill="#ff4500"/>
<polygon points="291.6,162.4 297.7,159.9 293.1,162.8 287.0,165.2" fill="#dfff00"/>
<polygon points="368.8,132.7 374.7,131.2 369.7,132.8 363.8,134.4" fill="#ff9100"/>
<polygon points="633.0,157.5 638.0,158.1 632.2,153.9 627.2,153.2" fill="#fff900"/>
<polygon points="677.1,184.8 681.9,185.6 676.0,180.1 671.2,179.3" fill="#88ff00"/>
<polygon points="330.1,145.7 336.1,143.6 331.3,145.9 325.3,147.9" fill="#ffce00"/>
<polygon points="693.6,197.5 698.4,198.3 692.5,192.3 687.7,191.4" fill="#4fff00"/>
<polygon points="556.0,127.8 561.3,128.0 555.7,125.7 550.4,125.5" fill="#ff7100"/>
<polygon points="379.7,129.7 385.6,128.3 380.5,129.7 374.7,131.2" fill="#ff8100"/>
<polygon points="594.6,140.3 599.7,140.7 594.0,137.5 588.9,137.0" fill="#ffa900"/>
<polygon points="649.7,167.5 654.6,168.2 648.8,163.4 643.8,162.7" fill="#daff00"/>
<polygon points="302.4,157.2 308.5,154.8 303.8,157.5 297.7,159.9" fill="#faff00"/>
<polygon points="545.1,125.4 550.4,125.5 544.7,123.4 539.4,123.3" fill="#ff6500"/>
<polygon points="622.2,152.6 627.2,153.2 621.4,149.2 616.4,148.6" fill="#ffe000"/>
<polygon points="390.7,127.1 396.5,125.8 391.4,127.0 385.6,128.3" fill="#ff7300"/>
<polygon points="341.0,141.6 347.0,139.7 342.1,141.7 336.1,143.6" fill="#ffb900"/>
<polygon points="534.1,123.3 539.4,123.3 533.8,121.5 528.4,121.5" fill="#ff5a00"/>
<polygon points="666.3,178.5 671.2,179.3 665.3,174.0 660.5,173.2" fill="#a9ff00"/>
<polygon points="583.7,136.7 588.9,137.0 583.1,134.0 577.9,133.6" fill="#ff9600"/>
<polygon points="401.6,124.8 407.5,123.6 402.3,124.5 396.5,125.8" fill="#ff6700"/>
<polygon points="523.0,121.6 528.4,121.5 522.9,119.9 517.5,120.0" fill="#ff5200"/>
<polygon points="683.0,190.7 687.7,191.4 681.9,185.6 677.1,184.8" fill="#72ff00"/>
<polygon points="412.6,122.8 418.4,121.7 413.2,122.4 407.5,123.6" fill="#ff5c00"/>
<polygon points="351.9,137.8 357.9,136.0 352.9,137.9 347.0,139.7" fill="#ffa500"/>
<polygon points="313.2,152.4 319.3,150.1 314.5,152.6 308.5,154.8" fill="#ffea00"/>
<polygon points="638.9,162.1 643.8,162.7 638.0,158.1 633.0,157.5" fill="#f5ff00"/>
<polygon points="611.3,148.1 616.4,148.6 610.6,144.8 605.5,144.3" fill="#ffc900"/>
<polygon points="699.5,203.8 704.2,204.6 698.4,198.3 693.6,197.5" fill="#36ff00"/>
<polygon points="512.0,120.2 517.5,120.0 511.9,118.7 506.5,118.8" fill="#ff4b00"/>
<polygon points="423.7,121.2 429.4,120.1 424.2,120.7 418.4,121.7" fill="#ff5400"/>
<polygon points="572.7,133.4 577.9,133.6 572.2,130.8 567.0,130.5" fill="#ff8600"/>
<polygon points="285.5,165.0 291.6,162.4 287.0,165.2 280.9,167.9" fill="#d9ff00"/>
<polygon points="501.0,119.1 506.5,118.8 500.9,117.7 495.4,118.0" fill="#ff4600"/>
<polygon points="434.7,119.9 440.4,119.0 435.1,119.3 429.4,120.1" fill="#ff4d00"/>
<polygon points="362.8,134.4 368.8,132.7 363.8,134.4 357.9,136.0" fill="#ff9300"/>
<polygon points="489.9,118.4 495.4,118.0 490.0,117.2 484.4,117.5" fill="#ff4300"/>
<polygon points="445.7,118.9 451.4,118.1 446.1,118.2 440.4,119.0" fill="#ff4700"/>
<polygon points="478.9,118.0 484.4,117.5 479.0,116.9 473.4,117.4" fill="#ff4100"/>
<polygon points="456.8,118.3 462.4,117.6 457.0,117.4 451.4,118.1" fill="#ff4300"/>
<polygon points="467.8,118.0 473.4,117.4 468.0,117.0 462.4,117.6" fill="#ff4200"/>
<polygon points="655.6,172.6 660.5,173.2 654.6,168.2 649.7,167.5" fill="#c7ff00"/>
<polygon points="561.7,130.4 567.0,130.5 561.3,128.0 556.0,127.8" fill="#ff7700"/>
<polygon points="324.1,147.8 330.1,145.7 325.3,147.9 319.3,150.1" fill="#ffd200"/>
<polygon points="600.4,143.9 605.5,144.3 599.7,140.7 594.6,140.3" fill="#ffb400"/>
<polygon points="628.0,157.0 633.0,157.5 627.2,153.2 622.2,152.6" fill="#ffef00"/>
<polygon points="373.8,131.3 379.7,129.7 374.7,131.2 368.8,132.7" fill="#ff8300"/>
<polygon points="672.2,184.1 677.1,184.8 671.2,179.3 666.3,178.5" fill="#94ff00"/>
<polygon points="550.7,127.7 556.0,127.8 550.4,125.5 545.1,125.4" fill="#ff6900"/>
<polygon points="296.3,159.7 302.4,157.2 297.7,159.9 291.6,162.4" fill="#f5ff00"/>
<polygon points="688.9,196.8 693.6,197.5 687.7,191.4 683.0,190.7" fill="#5bff00"/>
<polygon points="335.0,143.7 341.0,141.6 336.1,143.6 330.1,145.7" fill="#ffbc00"/>
<polygon points="384.8,128.6 390.7,127.1 385.6,128.3 379.7,129.7" fill="#ff7400"/>
<polygon points="589.4,140.0 594.6,140.3 588.9,137.0 583.7,136.7" fill="#ffa000"/>
<polygon points="539.7,125.4 545.1,125.4 539.4,123.3 534.1,123.3" fill="#ff5e00"/>
<polygon points="644.7,166.9 649.7,167.5 643.8,162.7 638.9,162.1" fill="#e4ff00"/>
<polygon points="617.1,152.2 622.2,152.6 616.4,148.6 611.3,148.1" fill="#ffd600"/>
<polygon points="395.8,126.2 401.6,124.8 396.5,125.8 390.7,127.1" fill="#ff6700"/>
<polygon points="528.6,123.5 534.1,123.3 528.4,121.5 523.0,121.6" fill="#ff5400"/>
<polygon points="307.1,154.8 313.2,152.4 308.5,154.8 302.4,157.2" fill="#ffef00"/>
<polygon points="345.9,139.8 351.9,137.8 347.0,139.7 341.0,141.6" fill="#ffa800"/>
<polygon points="578.5,136.5 583.7,136.7 577.9,133.6 572.7,133.4" fill="#ff8e00"/>
<polygon points="406.8,124.1 412.6,122.8 407.5,123.6 401.6,124.8" fill="#ff5c00"/>
<polygon points="661.4,177.9 666.3,178.5 660.5,173.2 655.6,172.6" fill="#b4ff00"/>
<polygon points="517.6,121.8 523.0,121.6 517.5,120.0 512.0,120.2" fill="#ff4c00"/>
<polygon points="279.4,167.8 285.5,165.0 280.9,167.9 274.8,170.6" fill="#d2ff00"/>
<polygon points="417.9,122.3 423.7,121.2 418.4,121.7 412.6,122.8" fill="#ff5300"/>
<polygon points="678.1,190.0 683.0,190.7 677.1,184.8 672.2,184.1" fill="#7dff00"/>
<polygon points="506.5,120.5 512.0,120.2 506.5,118.8 501.0,119.1" fill="#ff4600"/>
<polygon points="606.2,147.8 611.3,148.1 605.5,144.3 600.4,143.9" fill="#ffc000"/>
<polygon points="633.9,161.6 638.9,162.1 633.0,157.5 628.0,157.0" fill="#ffff00"/>
<polygon points="356.9,136.3 362.8,134.4 357.9,136.0 351.9,137.8" fill="#ff9500"/>
<polygon points="428.9,120.9 434.7,119.9 429.4,120.1 423.7,121.2" fill="#ff4b00"/>
<polygon points="567.5,133.2 572.7,133.4 567.0,130.5 561.7,130.4" fill="#ff7e00"/>
<polygon points="694.8,203.2 699.5,203.8 693.6,197.5 688.9,196.8" fill="#42ff00"/>
<polygon points="495.4,119.6 501.0,119.1 495.4,118.0 489.9,118.4" fill="#ff4200"/>
<polygon points="440.0,119.8 445.7,118.9 440.4,119.0 434.7,119.9" fill="#ff4500"/>
<polygon points="318.0,150.1 324.1,147.8 319.3,150.1 313.2,152.4" fill="#ffd700"/>
<polygon points="484.4,118.9 489.9,118.4 484.4,117.5 478.9,118.0" fill="#ff3f00"/>
<polygon points="451.1,119.1 456.8,118.3 451.4,118.1 445.7,118.9" fill="#ff4100"/>
<polygon points="473.3,118.7 478.9,118.0 473.4,117.4 467.8,118.0" fill="#ff3e00"/>
<polygon points="462.2,118.7 467.8,118.0 462.4,117.6 456.8,118.3" fill="#ff3f00"/>
<polygon points="367.9,133.1 373.8,131.3 368.8,132.7 362.8,134.4" fill="#ff8500"/>
<polygon points="556.4,130.4 561.7,130.4 556.0,127.8 550.7,127.7" fill="#ff7000"/>
<polygon points="650.6,172.0 655.6,172.6 649.7,167.5 644.7,166.9" fill="#d2ff00"/>
<polygon points="290.2,162.4 296.3,159.7 291.6,162.4 285.5,165.0" fill="#eeff00"/>
<polygon points="595.2,143.6 600.4,143.9 594.6,140.3 589.4,140.0" fill="#ffab00"/>
<polygon points="623.0,156.6 628.0,157.0 622.2,152.6 617.1,152.2" fill="#ffe500"/>
<polygon points="328.9,145.8 335.0,143.7 330.1,145.7 324.1,147.8" fill="#ffc000"/>
<polygon points="378.9,130.2 384.8,128.6 379.7,129.7 373.8,131.3" fill="#ff7500"/>
<polygon points="545.4,127.8 550.7,127.7 545.1,125.4 539.7,125.4" fill="#ff6300"/>
<polygon points="667.3,183.6 672.2,184.1 666.3,178.5 661.4,177.9" fill="#9fff00"/>
<polygon points="684.0,196.2 688.9,196.8 683.0,190.7 678.1,190.0" fill="#66ff00"/>
<polygon points="584.2,139.8 589.4,140.0 583.7,136.7 578.5,136.5" fill="#ff9800"/>
<polygon points="389.9,127.7 395.8,126.2 390.7,127.1 384.8,128.6" fill="#ff6800"/>
<polygon points="534.3,125.6 539.7,125.4 534.1,123.3 528.6,123.5" fill="#ff5800"/>
<polygon points="301.0,157.3 307.1,154.8 302.4,157.2 296.3,159.7" fill="#fff500"/>
<polygon points="339.9,141.9 345.9,139.8 341.0,141.6 335.0,143.7" fill="#ffac00"/>
<polygon points="639.7,166.5 644.7,166.9 638.9,162.1 633.9,161.6" fill="#eeff00"/>
<polygon points="612.0,151.9 617.1,152.2 611.3,148.1 606.2,147.8" fill="#ffcd00"/>
<polygon points="401.0,125.5 406.8,124.1 401.6,124.8 395.8,126.2" fill="#ff5c00"/>
<polygon points="523.2,123.7 528.6,123.5 523.0,121.6 517.6,121.8" fill="#ff4f00"/>
<polygon points="573.2,136.4 578.5,136.5 572.7,133.4 567.5,133.2" fill="#ff8700"/>
<polygon points="412.1,123.6 417.9,122.3 412.6,122.8 406.8,124.1" fill="#ff5200"/>
<polygon points="512.1,122.2 517.6,121.8 512.0,120.2 506.5,120.5" fill="#ff4700"/>
<polygon points="656.5,177.5 661.4,177.9 655.6,172.6 650.6,172.0" fill="#beff00"/>
<polygon points="350.9,138.2 356.9,136.3 351.9,137.8 345.9,139.8" fill="#ff9800"/>
<polygon points="311.9,152.6 318.0,150.1 313.2,152.4 307.1,154.8" fill="#ffdc00"/>
<polygon points="423.2,122.1 428.9,120.9 423.7,121.2 417.9,122.3" fill="#ff4a00"/>
<polygon points="501.0,121.0 506.5,120.5 501.0,119.1 495.4,119.6" fill="#ff4200"/>
<polygon points="601.0,147.5 606.2,147.8 600.4,143.9 595.2,143.6" fill="#ffb700"/>
<polygon points="434.3,120.9 440.0,119.8 434.7,119.9 428.9,120.9" fill="#ff4400"/>
<polygon points="489.9,120.1 495.4,119.6 489.9,118.4 484.4,118.9" fill="#ff3e00"/>
<polygon points="673.3,189.5 678.1,190.0 672.2,184.1 667.3,183.6" fill="#88ff00"/>
<polygon points="628.8,161.2 633.9,161.6 628.0,157.0 623.0,156.6" fill="#fff500"/>
<polygon points="562.1,133.3 567.5,133.2 561.7,130.4 556.4,130.4" fill="#ff7700"/>
<polygon points="445.4,120.1 451.1,119.1 445.7,118.9 440.0,119.8" fill="#ff3f00"/>
<polygon points="478.7,119.6 484.4,118.9 478.9,118.0 473.3,118.7" fill="#ff3b00"/>
<polygon points="284.0,165.2 290.2,162.4 285.5,165.0 279.4,167.8" fill="#e7ff00"/>
<polygon points="456.5,119.6 462.2,118.7 456.8,118.3 451.1,119.1" fill="#ff3c00"/>
<polygon points="467.6,119.4 473.3,118.7 467.8,118.0 462.2,118.7" fill="#ff3b00"/>
<polygon points="690.0,202.6 694.8,203.2 688.9,196.8 684.0,196.2" fill="#4dff00"/>
<polygon points="361.9,134.9 367.9,133.1 362.8,134.4 356.9,136.3" fill="#ff8700"/>
<polygon points="322.9,148.2 328.9,145.8 324.1,147.8 318.0,150.1" fill="#ffc500"/>
<polygon points="551.1,130.5 556.4,130.4 550.7,127.7 545.4,127.8" fill="#ff6900"/>
<polygon points="645.6,171.6 650.6,172.0 644.7,166.9 639.7,166.5" fill="#dcff00"/>
<polygon points="590.0,143.5 595.2,143.6 589.4,140.0 584.2,139.8" fill="#ffa300"/>
<polygon points="372.9,131.9 378.9,130.2 373.8,131.3 367.9,133.1" fill="#ff7700"/>
<polygon points="617.9,156.3 623.0,156.6 617.1,152.2 612.0,151.9" fill="#ffdc00"/>
<polygon points="540.0,128.0 545.4,127.8 539.7,125.4 534.3,125.6" fill="#ff5d00"/>
<polygon points="294.9,160.0 301.0,157.3 296.3,159.7 290.2,162.4" fill="#fffb00"/>
<polygon points="384.0,129.3 389.9,127.7 384.8,128.6 378.9,130.2" fill="#ff6900"/>
<polygon points="662.4,183.1 667.3,183.6 661.4,177.9 656.5,177.5" fill="#a9ff00"/>
<polygon points="333.8,144.1 339.9,141.9 335.0,143.7 328.9,145.8" fill="#ffb000"/>
<polygon points="579.0,139.8 584.2,139.8 578.5,136.5 573.2,136.4" fill="#ff9000"/>
<polygon points="528.9,125.9 534.3,125.6 528.6,123.5 523.2,123.7" fill="#ff5300"/>
<polygon points="679.2,195.7 684.0,196.2 678.1,190.0 673.3,189.5" fill="#71ff00"/>
<polygon points="395.1,127.0 401.0,125.5 395.8,126.2 389.9,127.7" fill="#ff5d00"/>
<polygon points="634.7,166.2 639.7,166.5 633.9,161.6 628.8,161.2" fill="#f7ff00"/>
<polygon points="517.7,124.1 523.2,123.7 517.6,121.8 512.1,122.2" fill="#ff4a00"/>
<polygon points="606.9,151.7 612.0,151.9 606.2,147.8 601.0,147.5" fill="#ffc500"/>
<polygon points="344.9,140.3 350.9,138.2 345.9,139.8 339.9,141.9" fill="#ff9c00"/>
<polygon points="406.2,125.0 412.1,123.6 406.8,124.1 401.0,125.5" fill="#ff5300"/>
<polygon points="305.8,155.2 311.9,152.6 307.1,154.8 301.0,157.3" fill="#ffe200"/>
<polygon points="567.9,136.4 573.2,136.4 567.5,133.2 562.1,133.3" fill="#ff8000"/>
<polygon points="506.6,122.7 512.1,122.2 506.5,120.5 501.0,121.0" fill="#ff4300"/>
<polygon points="417.3,123.4 423.2,122.1 417.9,122.3 412.1,123.6" fill="#ff4a00"/>
<polygon points="495.4,121.6 501.0,121.0 495.4,119.6 489.9,120.1" fill="#ff3e00"/>
<polygon points="651.5,177.1 656.5,177.5 650.6,172.0 645.6,171.6" fill="#c8ff00"/>
<polygon points="428.5,122.1 434.3,120.9 428.9,120.9 423.2,122.1" fill="#ff4300"/>
<polygon points="484.3,120.8 489.9,120.1 484.4,118.9 478.7,119.6" fill="#ff3a00"/>
<polygon points="355.9,136.9 361.9,134.9 356.9,136.3 350.9,138.2" fill="#ff8a00"/>
<polygon points="439.6,121.2 445.4,120.1 440.0,119.8 434.3,120.9" fill="#ff3e00"/>
<polygon points="473.1,120.4 478.7,119.6 473.3,118.7 467.6,119.4" fill="#ff3900"/>
<polygon points="450.8,120.6 456.5,119.6 451.1,119.1 445.4,120.1" fill="#ff3a00"/>
<polygon points="595.8,147.4 601.0,147.5 595.2,143.6 590.0,143.5" fill="#ffaf00"/>
<polygon points="461.9,120.3 467.6,119.4 462.2,118.7 456.5,119.6" fill="#ff3900"/>
<polygon points="556.8,133.4 562.1,133.3 556.4,130.4 551.1,130.5" fill="#ff7100"/>
<polygon points="623.7,161.0 628.8,161.2 623.0,156.6 617.9,156.3" fill="#ffec00"/>
<polygon points="316.8,150.6 322.9,148.2 318.0,150.1 311.9,152.6" fill="#ffca00"/>
<polygon points="668.3,189.1 673.3,189.5 667.3,183.6 662.4,183.1" fill="#92ff00"/>
<polygon points="685.1,202.2 690.0,202.6 684.0,196.2 679.2,195.7" fill="#58ff00"/>
<polygon points="367.0,133.8 372.9,131.9 367.9,133.1 361.9,134.9" fill="#ff7a00"/>
<polygon points="545.7,130.7 551.1,130.5 545.4,127.8 540.0,128.0" fill="#ff6300"/>
<polygon points="288.7,162.9 294.9,160.0 290.2,162.4 284.0,165.2" fill="#fcff00"/>
<polygon points="584.8,143.5 590.0,143.5 584.2,139.8 579.0,139.8" fill="#ff9c00"/>
<polygon points="640.6,171.4 645.6,171.6 639.7,166.5 634.7,166.2" fill="#e5ff00"/>
<polygon points="327.8,146.4 333.8,144.1 328.9,145.8 322.9,148.2" fill="#ffb400"/>
<polygon points="378.1,131.1 384.0,129.3 378.9,130.2 372.9,131.9" fill="#ff6c00"/>
<polygon points="534.5,128.3 540.0,128.0 534.3,125.6 528.9,125.9" fill="#ff5800"/>
<polygon points="612.7,156.1 617.9,156.3 612.0,151.9 606.9,151.7" fill="#ffd400"/>
<polygon points="389.2,128.7 395.1,127.0 389.9,127.7 384.0,129.3" fill="#ff5f00"/>
<polygon points="657.4,182.8 662.4,183.1 656.5,177.5 651.5,177.1" fill="#b2ff00"/>
<polygon points="523.4,126.3 528.9,125.9 523.2,123.7 517.7,124.1" fill="#ff4e00"/>
<polygon points="573.7,139.9 579.0,139.8 573.2,136.4 567.9,136.4" fill="#ff8a00"/>
<polygon points="299.6,157.9 305.8,155.2 301.0,157.3 294.9,160.0" fill="#ffe900"/>
<polygon points="338.8,142.6 344.9,140.3 339.9,141.9 333.8,144.1" fill="#ffa000"/>
<polygon points="674.3,195.4 679.2,195.7 673.3,189.5 668.3,189.1" fill="#7bff00"/>
<polygon points="400.3,126.6 406.2,125.0 401.0,125.5 395.1,127.0" fill="#ff5400"/>
<polygon points="512.2,124.6 517.7,124.1 512.1,122.2 506.6,122.7" fill="#ff4600"/>
<polygon points="629.6,166.0 634.7,166.2 628.8,161.2 623.7,161.0" fill="#fffe00"/>
<polygon points="601.7,151.6 606.9,151.7 601.0,147.5 595.8,147.4" fill="#ffbd00"/>
<polygon points="411.5,124.8 417.3,123.4 412.1,123.6 406.2,125.0" fill="#ff4b00"/>
<polygon points="501.0,123.3 506.6,122.7 501.0,121.0 495.4,121.6" fill="#ff3f00"/>
<polygon points="562.6,136.6 567.9,136.4 562.1,133.3 556.8,133.4" fill="#ff7900"/>
<polygon points="349.9,139.0 355.9,136.9 350.9,138.2 344.9,140.3" fill="#ff8e00"/>
<polygon points="422.7,123.4 428.5,122.1 423.2,122.1 417.3,123.4" fill="#ff4300"/>
<polygon points="489.8,122.3 495.4,121.6 489.9,120.1 484.3,120.8" fill="#ff3b00"/>
<polygon points="310.6,153.2 316.8,150.6 311.9,152.6 305.8,155.2" fill="#ffd000"/>
<polygon points="433.8,122.4 439.6,121.2 434.3,120.9 428.5,122.1" fill="#ff3d00"/>
<polygon points="478.6,121.6 484.3,120.8 478.7,119.6 473.1,120.4" fill="#ff3800"/>
<polygon points="445.0,121.7 450.8,120.6 445.4,120.1 439.6,121.2" fill="#ff3900"/>
<polygon points="646.5,176.9 651.5,177.1 645.6,171.6 640.6,171.4" fill="#d1ff00"/>
<polygon points="467.4,121.3 473.1,120.4 467.6,119.4 461.9,120.3" fill="#ff3600"/>
<polygon points="456.2,121.3 461.9,120.3 456.5,119.6 450.8,120.6" fill="#ff3700"/>
<polygon points="551.4,133.6 556.8,133.4 551.1,130.5 545.7,130.7" fill="#ff6b00"/>
<polygon points="590.6,147.4 595.8,147.4 590.0,143.5 584.8,143.5" fill="#ffa800"/>
<polygon points="361.0,135.8 367.0,133.8 361.9,134.9 355.9,136.9" fill="#ff7d00"/>
<polygon points="618.6,160.9 623.7,161.0 617.9,156.3 612.7,156.1" fill="#ffe400"/>
<polygon points="663.4,188.8 668.3,189.1 662.4,183.1 657.4,182.8" fill="#9cff00"/>
<polygon points="321.6,148.9 327.8,146.4 322.9,148.2 316.8,150.6" fill="#ffba00"/>
<polygon points="680.2,201.9 685.1,202.2 679.2,195.7 674.3,195.4" fill="#61ff00"/>
<polygon points="540.2,131.0 545.7,130.7 540.0,128.0 534.5,128.3" fill="#ff5e00"/>
<polygon points="372.1,133.0 378.1,131.1 372.9,131.9 367.0,133.8" fill="#ff6e00"/>
<polygon points="579.5,143.6 584.8,143.5 579.0,139.8 573.7,139.9" fill="#ff9500"/>
<polygon points="635.5,171.2 640.6,171.4 634.7,166.2 629.6,166.0" fill="#edff00"/>
<polygon points="529.1,128.8 534.5,128.3 528.9,125.9 523.4,126.3" fill="#ff5300"/>
<polygon points="293.4,160.8 299.6,157.9 294.9,160.0 288.7,162.9" fill="#fff000"/>
<polygon points="383.2,130.5 389.2,128.7 384.0,129.3 378.1,131.1" fill="#ff6100"/>
<polygon points="607.5,156.1 612.7,156.1 606.9,151.7 601.7,151.6" fill="#ffcc00"/>
<polygon points="332.7,145.0 338.8,142.6 333.8,144.1 327.8,146.4" fill="#ffa500"/>
<polygon points="517.9,126.8 523.4,126.3 517.7,124.1 512.2,124.6" fill="#ff4a00"/>
<polygon points="394.4,128.3 400.3,126.6 395.1,127.0 389.2,128.7" fill="#ff5500"/>
<polygon points="652.4,182.6 657.4,182.8 651.5,177.1 646.5,176.9" fill="#bbff00"/>
<polygon points="568.3,140.1 573.7,139.9 567.9,136.4 562.6,136.6" fill="#ff8400"/>
<polygon points="506.6,125.3 512.2,124.6 506.6,122.7 501.0,123.3" fill="#ff4200"/>
<polygon points="405.6,126.4 411.5,124.8 406.2,125.0 400.3,126.6" fill="#ff4c00"/>
<polygon points="669.3,195.1 674.3,195.4 668.3,189.1 663.4,188.8" fill="#84ff00"/>
<polygon points="343.8,141.3 349.9,139.0 344.9,140.3 338.8,142.6" fill="#ff9200"/>
<polygon points="304.4,156.0 310.6,153.2 305.8,155.2 299.6,157.9" fill="#ffd700"/>
<polygon points="624.5,165.9 629.6,166.0 623.7,161.0 618.6,160.9" fill="#fff600"/>
<polygon points="495.4,124.0 501.0,123.3 495.4,121.6 489.8,122.3" fill="#ff3c00"/>
<polygon points="596.4,151.7 601.7,151.6 595.8,147.4 590.6,147.4" fill="#ffb600"/>
<polygon points="416.8,124.9 422.7,123.4 417.3,123.4 411.5,124.8" fill="#ff4400"/>
<polygon points="557.2,136.9 562.6,136.6 556.8,133.4 551.4,133.6" fill="#ff7400"/>
<polygon points="484.2,123.1 489.8,122.3 484.3,120.8 478.6,121.6" fill="#ff3800"/>
<polygon points="428.0,123.8 433.8,122.4 428.5,122.1 422.7,123.4" fill="#ff3d00"/>
<polygon points="472.9,122.6 478.6,121.6 473.1,120.4 467.4,121.3" fill="#ff3600"/>
<polygon points="439.2,122.9 445.0,121.7 439.6,121.2 433.8,122.4" fill="#ff3900"/>
<polygon points="461.7,122.3 467.4,121.3 461.9,120.3 456.2,121.3" fill="#ff3500"/>
<polygon points="450.5,122.5 456.2,121.3 450.8,120.6 445.0,121.7" fill="#ff3600"/>
<polygon points="354.9,138.0 361.0,135.8 355.9,136.9 349.9,139.0" fill="#ff8100"/>
<polygon points="641.4,176.7 646.5,176.9 640.6,171.4 635.5,171.2" fill="#d9ff00"/>
<polygon points="546.0,134.0 551.4,133.6 545.7,130.7 540.2,131.0" fill="#ff6600"/>
<polygon points="315.5,151.6 321.6,148.9 316.8,150.6 310.6,153.2" fill="#ffc000"/>
<polygon points="585.3,147.6 590.6,147.4 584.8,143.5 579.5,143.6" fill="#ffa200"/>
<polygon points="613.4,160.9 618.6,160.9 612.7,156.1 607.5,156.1" fill="#ffdd00"/>
<polygon points="366.1,135.0 372.1,133.0 367.0,133.8 361.0,135.8" fill="#ff7200"/>
<polygon points="658.4,188.7 663.4,188.8 657.4,182.8 652.4,182.6" fill="#a5ff00"/>
<polygon points="534.8,131.5 540.2,131.0 534.5,128.3 529.1,128.8" fill="#ff5900"/>
<polygon points="675.3,201.7 680.2,201.9 674.3,195.4 669.3,195.1" fill="#6bff00"/>
<polygon points="377.2,132.4 383.2,130.5 378.1,131.1 372.1,133.0" fill="#ff6400"/>
<polygon points="326.6,147.5 332.7,145.0 327.8,146.4 321.6,148.9" fill="#ffab00"/>
<polygon points="574.2,143.8 579.5,143.6 573.7,139.9 568.3,140.1" fill="#ff8f00"/>
<polygon points="523.5,129.3 529.1,128.8 523.4,126.3 517.9,126.8" fill="#ff4f00"/>
<polygon points="630.4,171.2 635.5,171.2 629.6,166.0 624.5,165.9" fill="#f5ff00"/>
<polygon points="388.4,130.1 394.4,128.3 389.2,128.7 383.2,130.5" fill="#ff5800"/>
<polygon points="602.3,156.2 607.5,156.1 601.7,151.6 596.4,151.7" fill="#ffc500"/>
<polygon points="512.3,127.5 517.9,126.8 512.2,124.6 506.6,125.3" fill="#ff4600"/>
<polygon points="298.2,158.9 304.4,156.0 299.6,157.9 293.4,160.8" fill="#ffde00"/>
<polygon points="337.7,143.7 343.8,141.3 338.8,142.6 332.7,145.0" fill="#ff9700"/>
<polygon points="399.7,128.1 405.6,126.4 400.3,126.6 394.4,128.3" fill="#ff4d00"/>
<polygon points="563.0,140.4 568.3,140.1 562.6,136.6 557.2,136.9" fill="#ff7e00"/>
<polygon points="647.4,182.6 652.4,182.6 646.5,176.9 641.4,176.7" fill="#c4ff00"/>
<polygon points="501.0,126.0 506.6,125.3 501.0,123.3 495.4,124.0" fill="#ff3f00"/>
<polygon points="410.9,126.5 416.8,124.9 411.5,124.8 405.6,126.4" fill="#ff4500"/>
<polygon points="489.8,124.9 495.4,124.0 489.8,122.3 484.2,123.1" fill="#ff3a00"/>
<polygon points="664.3,195.0 669.3,195.1 663.4,188.8 658.4,188.7" fill="#8dff00"/>
<polygon points="422.1,125.3 428.0,123.8 422.7,123.4 416.8,124.9" fill="#ff3e00"/>
<polygon points="591.2,151.9 596.4,151.7 590.6,147.4 585.3,147.6" fill="#ffb000"/>
<polygon points="478.5,124.1 484.2,123.1 478.6,121.6 472.9,122.6" fill="#ff3600"/>
<polygon points="619.3,165.9 624.5,165.9 618.6,160.9 613.4,160.9" fill="#ffee00"/>
<polygon points="348.8,140.3 354.9,138.0 349.9,139.0 343.8,141.3" fill="#ff8600"/>
<polygon points="433.4,124.3 439.2,122.9 433.8,122.4 428.0,123.8" fill="#ff3900"/>
<polygon points="551.8,137.3 557.2,136.9 551.4,133.6 546.0,134.0" fill="#ff6f00"/>
<polygon points="467.2,123.6 472.9,122.6 467.4,121.3 461.7,122.3" fill="#ff3400"/>
<polygon points="444.7,123.8 450.5,122.5 445.0,121.7 439.2,122.9" fill="#ff3600"/>
<polygon points="456.0,123.5 461.7,122.3 456.2,121.3 450.5,122.5" fill="#ff3400"/>
<polygon points="309.3,154.3 315.5,151.6 310.6,153.2 304.4,156.0" fill="#ffc700"/>
<polygon points="360.0,137.2 366.1,135.0 361.0,135.8 354.9,138.0" fill="#ff7600"/>
<polygon points="540.5,134.5 546.0,134.0 540.2,131.0 534.8,131.5" fill="#ff6100"/>
<polygon points="636.3,176.8 641.4,176.7 635.5,171.2 630.4,171.2" fill="#e1ff00"/>
<polygon points="580.0,147.9 585.3,147.6 579.5,143.6 574.2,143.8" fill="#ff9c00"/>
<polygon points="608.2,161.0 613.4,160.9 607.5,156.1 602.3,156.2" fill="#ffd600"/>
<polygon points="320.4,150.1 326.6,147.5 321.6,148.9 315.5,151.6" fill="#ffb100"/>
<polygon points="371.2,134.5 377.2,132.4 372.1,133.0 366.1,135.0" fill="#ff6700"/>
<polygon points="529.3,132.1 534.8,131.5 529.1,128.8 523.5,129.3" fill="#ff5600"/>
<polygon points="653.3,188.7 658.4,188.7 652.4,182.6 647.4,182.6" fill="#adff00"/>
<polygon points="670.3,201.7 675.3,201.7 669.3,195.1 664.3,195.0" fill="#73ff00"/>
<polygon points="568.8,144.2 574.2,143.8 568.3,140.1 563.0,140.4" fill="#ff8a00"/>
<polygon points="382.4,132.1 388.4,130.1 383.2,130.5 377.2,132.4" fill="#ff5b00"/>
<polygon points="518.0,130.1 523.5,129.3 517.9,126.8 512.3,127.5" fill="#ff4c00"/>
<polygon points="331.6,146.3 337.7,143.7 332.7,145.0 326.6,147.5" fill="#ff9d00"/>
<polygon points="625.3,171.3 630.4,171.2 624.5,165.9 619.3,165.9" fill="#fcff00"/>
<polygon points="393.7,130.0 399.7,128.1 394.4,128.3 388.4,130.1" fill="#ff5000"/>
<polygon points="597.1,156.4 602.3,156.2 596.4,151.7 591.2,151.9" fill="#ffbf00"/>
<polygon points="506.7,128.3 512.3,127.5 506.6,125.3 501.0,126.0" fill="#ff4300"/>
<polygon points="405.0,128.3 410.9,126.5 405.6,126.4 399.7,128.1" fill="#ff4700"/>
<polygon points="557.6,140.8 563.0,140.4 557.2,136.9 551.8,137.3" fill="#ff7900"/>
<polygon points="495.4,126.9 501.0,126.0 495.4,124.0 489.8,124.9" fill="#ff3d00"/>
<polygon points="642.3,182.6 647.4,182.6 641.4,176.7 636.3,176.8" fill="#cbff00"/>
<polygon points="342.7,142.7 348.8,140.3 343.8,141.3 337.7,143.7" fill="#ff8b00"/>
<polygon points="416.2,126.9 422.1,125.3 416.8,124.9 410.9,126.5" fill="#ff3f00"/>
<polygon points="484.1,125.9 489.8,124.9 484.2,123.1 478.5,124.1" fill="#ff3800"/>
<polygon points="303.1,157.3 309.3,154.3 304.4,156.0 298.2,158.9" fill="#ffce00"/>
<polygon points="427.5,125.9 433.4,124.3 428.0,123.8 422.1,125.3" fill="#ff3a00"/>
<polygon points="472.8,125.2 478.5,124.1 472.9,122.6 467.2,123.6" fill="#ff3500"/>
<polygon points="438.8,125.2 444.7,123.8 439.2,122.9 433.4,124.3" fill="#ff3600"/>
<polygon points="461.5,124.9 467.2,123.6 461.7,122.3 456.0,123.5" fill="#ff3300"/>
<polygon points="450.2,124.8 456.0,123.5 450.5,122.5 444.7,123.8" fill="#ff3400"/>
<polygon points="585.9,152.2 591.2,151.9 585.3,147.6 580.0,147.9" fill="#ffaa00"/>
<polygon points="659.3,195.0 664.3,195.0 658.4,188.7 653.3,188.7" fill="#95ff00"/>
<polygon points="546.3,137.8 551.8,137.3 546.0,134.0 540.5,134.5" fill="#ff6a00"/>
<polygon points="614.1,166.1 619.3,165.9 613.4,160.9 608.2,161.0" fill="#ffe800"/>
<polygon points="353.9,139.5 360.0,137.2 354.9,138.0 348.8,140.3" fill="#ff7a00"/>
<polygon points="314.2,152.9 320.4,150.1 315.5,151.6 309.3,154.3" fill="#ffb800"/>
<polygon points="535.0,135.2 540.5,134.5 534.8,131.5 529.3,132.1" fill="#ff5e00"/>
<polygon points="365.2,136.7 371.2,134.5 366.1,135.0 360.0,137.2" fill="#ff6b00"/>
<polygon points="631.2,176.9 636.3,176.8 630.4,171.2 625.3,171.3" fill="#e8ff00"/>
<polygon points="574.6,148.3 580.0,147.9 574.2,143.8 568.8,144.2" fill="#ff9700"/>
<polygon points="603.0,161.3 608.2,161.0 602.3,156.2 597.1,156.4" fill="#ffd000"/>
<polygon points="523.7,132.9 529.3,132.1 523.5,129.3 518.0,130.1" fill="#ff5200"/>
<polygon points="376.4,134.2 382.4,132.1 377.2,132.4 371.2,134.5" fill="#ff5e00"/>
<polygon points="648.3,188.8 653.3,188.7 647.4,182.6 642.3,182.6" fill="#b4ff00"/>
<polygon points="325.4,149.0 331.6,146.3 326.6,147.5 320.4,150.1" fill="#ffa300"/>
<polygon points="512.4,130.9 518.0,130.1 512.3,127.5 506.7,128.3" fill="#ff4900"/>
<polygon points="563.4,144.7 568.8,144.2 563.0,140.4 557.6,140.8" fill="#ff8500"/>
<polygon points="665.3,201.7 670.3,201.7 664.3,195.0 659.3,195.0" fill="#7bff00"/>
<polygon points="387.7,132.0 393.7,130.0 388.4,130.1 382.4,132.1" fill="#ff5300"/>
<polygon points="501.1,129.3 506.7,128.3 501.0,126.0 495.4,126.9" fill="#ff4100"/>
<polygon points="620.1,171.5 625.3,171.3 619.3,165.9 614.1,166.1" fill="#fffb00"/>
<polygon points="399.0,130.2 405.0,128.3 399.7,128.1 393.7,130.0" fill="#ff4900"/>
<polygon points="591.7,156.8 597.1,156.4 591.2,151.9 585.9,152.2" fill="#ffb900"/>
<polygon points="336.6,145.3 342.7,142.7 337.7,143.7 331.6,146.3" fill="#ff9000"/>
<polygon points="489.7,128.0 495.4,126.9 489.8,124.9 484.1,125.9" fill="#ff3b00"/>
<polygon points="410.3,128.7 416.2,126.9 410.9,126.5 405.0,128.3" fill="#ff4100"/>
<polygon points="552.1,141.4 557.6,140.8 551.8,137.3 546.3,137.8" fill="#ff7500"/>
<polygon points="478.4,127.0 484.1,125.9 478.5,124.1 472.8,125.2" fill="#ff3700"/>
<polygon points="421.6,127.5 427.5,125.9 422.1,125.3 416.2,126.9" fill="#ff3b00"/>
<polygon points="467.0,126.4 472.8,125.2 467.2,123.6 461.5,124.9" fill="#ff3400"/>
<polygon points="637.2,182.8 642.3,182.6 636.3,176.8 631.2,176.9" fill="#d2ff00"/>
<polygon points="433.0,126.7 438.8,125.2 433.4,124.3 427.5,125.9" fill="#ff3700"/>
<polygon points="455.7,126.2 461.5,124.9 456.0,123.5 450.2,124.8" fill="#ff3300"/>
<polygon points="444.3,126.3 450.2,124.8 444.7,123.8 438.8,125.2" fill="#ff3400"/>
<polygon points="347.8,142.0 353.9,139.5 348.8,140.3 342.7,142.7" fill="#ff7f00"/>
<polygon points="540.8,138.5 546.3,137.8 540.5,134.5 535.0,135.2" fill="#ff6700"/>
<polygon points="580.5,152.6 585.9,152.2 580.0,147.9 574.6,148.3" fill="#ffa500"/>
<polygon points="308.0,155.9 314.2,152.9 309.3,154.3 303.1,157.3" fill="#ffbf00"/>
<polygon points="654.2,195.2 659.3,195.0 653.3,188.7 648.3,188.8" fill="#9cff00"/>
<polygon points="608.9,166.4 614.1,166.1 608.2,161.0 603.0,161.3" fill="#ffe200"/>
<polygon points="359.1,139.0 365.2,136.7 360.0,137.2 353.9,139.5" fill="#ff7000"/>
<polygon points="529.5,136.0 535.0,135.2 529.3,132.1 523.7,132.9" fill="#ff5a00"/>
<polygon points="569.2,148.8 574.6,148.3 568.8,144.2 563.4,144.7" fill="#ff9200"/>
<polygon points="626.0,177.2 631.2,176.9 625.3,171.3 620.1,171.5" fill="#efff00"/>
<polygon points="370.4,136.4 376.4,134.2 371.2,134.5 365.2,136.7" fill="#ff6200"/>
<polygon points="319.2,151.8 325.4,149.0 320.4,150.1 314.2,152.9" fill="#ffaa00"/>
<polygon points="518.1,133.7 523.7,132.9 518.0,130.1 512.4,130.9" fill="#ff5000"/>
<polygon points="597.7,161.7 603.0,161.3 597.1,156.4 591.7,156.8" fill="#ffca00"/>
<polygon points="381.7,134.1 387.7,132.0 382.4,132.1 376.4,134.2" fill="#ff5700"/>
<polygon points="643.1,189.0 648.3,188.8 642.3,182.6 637.2,182.8" fill="#bbff00"/>
<polygon points="506.8,131.9 512.4,130.9 506.7,128.3 501.1,129.3" fill="#ff4700"/>
<polygon points="557.9,145.3 563.4,144.7 557.6,140.8 552.1,141.4" fill="#ff8100"/>
<polygon points="330.4,148.0 336.6,145.3 331.6,146.3 325.4,149.0" fill="#ff9700"/>
<polygon points="393.0,132.2 399.0,130.2 393.7,130.0 387.7,132.0" fill="#ff4c00"/>
<polygon points="660.2,201.9 665.3,201.7 659.3,195.0 654.2,195.2" fill="#83ff00"/>
<polygon points="495.4,130.3 501.1,129.3 495.4,126.9 489.7,128.0" fill="#ff3f00"/>
<polygon points="404.3,130.6 410.3,128.7 405.0,128.3 399.0,130.2" fill="#ff4400"/>
<polygon points="614.8,171.8 620.1,171.5 614.1,166.1 608.9,166.4" fill="#fff500"/>
<polygon points="586.4,157.3 591.7,156.8 585.9,152.2 580.5,152.6" fill="#ffb400"/>
<polygon points="484.0,129.2 489.7,128.0 484.1,125.9 478.4,127.0" fill="#ff3a00"/>
<polygon points="415.7,129.3 421.6,127.5 416.2,126.9 410.3,128.7" fill="#ff3d00"/>
<polygon points="546.6,142.2 552.1,141.4 546.3,137.8 540.8,138.5" fill="#ff7100"/>
<polygon points="472.6,128.3 478.4,127.0 472.8,125.2 467.0,126.4" fill="#ff3600"/>
<polygon points="341.7,144.6 347.8,142.0 342.7,142.7 336.6,145.3" fill="#ff8500"/>
<polygon points="427.1,128.4 433.0,126.7 427.5,125.9 421.6,127.5" fill="#ff3900"/>
<polygon points="461.2,127.8 467.0,126.4 461.5,124.9 455.7,126.2" fill="#ff3400"/>
<polygon points="438.5,127.9 444.3,126.3 438.8,125.2 433.0,126.7" fill="#ff3500"/>
<polygon points="449.8,127.7 455.7,126.2 450.2,124.8 444.3,126.3" fill="#ff3400"/>
<polygon points="632.0,183.1 637.2,182.8 631.2,176.9 626.0,177.2" fill="#d9ff00"/>
<polygon points="535.3,139.3 540.8,138.5 535.0,135.2 529.5,136.0" fill="#ff6400"/>
<polygon points="353.0,141.5 359.1,139.0 353.9,139.5 347.8,142.0" fill="#ff7500"/>
<polygon points="575.1,153.2 580.5,152.6 574.6,148.3 569.2,148.8" fill="#ffa000"/>
<polygon points="603.6,166.8 608.9,166.4 603.0,161.3 597.7,161.7" fill="#ffdc00"/>
<polygon points="649.1,195.5 654.2,195.2 648.3,188.8 643.1,189.0" fill="#a3ff00"/>
<polygon points="313.0,154.8 319.2,151.8 314.2,152.9 308.0,155.9" fill="#ffb200"/>
<polygon points="523.9,136.9 529.5,136.0 523.7,132.9 518.1,133.7" fill="#ff5800"/>
<polygon points="364.3,138.8 370.4,136.4 365.2,136.7 359.1,139.0" fill="#ff6700"/>
<polygon points="563.8,149.5 569.2,148.8 563.4,144.7 557.9,145.3" fill="#ff8e00"/>
<polygon points="512.5,134.8 518.1,133.7 512.4,130.9 506.8,131.9" fill="#ff4e00"/>
<polygon points="620.8,177.5 626.0,177.2 620.1,171.5 614.8,171.8" fill="#f4ff00"/>
<polygon points="375.6,136.4 381.7,134.1 376.4,134.2 370.4,136.4" fill="#ff5b00"/>
<polygon points="592.3,162.2 597.7,161.7 591.7,156.8 586.4,157.3" fill="#ffc500"/>
<polygon points="324.2,150.9 330.4,148.0 325.4,149.0 319.2,151.8" fill="#ff9e00"/>
<polygon points="501.1,133.0 506.8,131.9 501.1,129.3 495.4,130.3" fill="#ff4500"/>
<polygon points="387.0,134.3 393.0,132.2 387.7,132.0 381.7,134.1" fill="#ff5000"/>
<polygon points="638.0,189.3 643.1,189.0 637.2,182.8 632.0,183.1" fill="#c2ff00"/>
<polygon points="552.4,146.1 557.9,145.3 552.1,141.4 546.6,142.2" fill="#ff7d00"/>
<polygon points="489.7,131.5 495.4,130.3 489.7,128.0 484.0,129.2" fill="#ff3f00"/>
<polygon points="398.3,132.6 404.3,130.6 399.0,130.2 393.0,132.2" fill="#ff4700"/>
<polygon points="655.1,202.2 660.2,201.9 654.2,195.2 649.1,195.5" fill="#89ff00"/>
<polygon points="335.5,147.4 341.7,144.6 336.6,145.3 330.4,148.0" fill="#ff8c00"/>
<polygon points="478.3,130.5 484.0,129.2 478.4,127.0 472.6,128.3" fill="#ff3a00"/>
<polygon points="409.7,131.3 415.7,129.3 410.3,128.7 404.3,130.6" fill="#ff4000"/>
<polygon points="609.5,172.3 614.8,171.8 608.9,166.4 603.6,166.8" fill="#fff000"/>
<polygon points="581.0,157.9 586.4,157.3 580.5,152.6 575.1,153.2" fill="#ffb000"/>
<polygon points="466.8,129.7 472.6,128.3 467.0,126.4 461.2,127.8" fill="#ff3600"/>
<polygon points="421.1,130.3 427.1,128.4 421.6,127.5 415.7,129.3" fill="#ff3b00"/>
<polygon points="541.1,143.0 546.6,142.2 540.8,138.5 535.3,139.3" fill="#ff6e00"/>
<polygon points="455.4,129.3 461.2,127.8 455.7,126.2 449.8,127.7" fill="#ff3500"/>
<polygon points="432.6,129.6 438.5,127.9 433.0,126.7 427.1,128.4" fill="#ff3700"/>
<polygon points="444.0,129.3 449.8,127.7 444.3,126.3 438.5,127.9" fill="#ff3500"/>
<polygon points="346.8,144.2 353.0,141.5 347.8,142.0 341.7,144.6" fill="#ff7b00"/>
<polygon points="626.8,183.5 632.0,183.1 626.0,177.2 620.8,177.5" fill="#dfff00"/>
<polygon points="529.7,140.3 535.3,139.3 529.5,136.0 523.9,136.9" fill="#ff6100"/>
<polygon points="569.7,153.9 575.1,153.2 569.2,148.8 563.8,149.5" fill="#ff9c00"/>
<polygon points="358.1,141.3 364.3,138.8 359.1,139.0 353.0,141.5" fill="#ff6d00"/>
<polygon points="598.2,167.4 603.6,166.8 597.7,161.7 592.3,162.2" fill="#ffd700"/>
<polygon points="644.0,195.9 649.1,195.5 643.1,189.0 638.0,189.3" fill="#a9ff00"/>
<polygon points="518.3,137.9 523.9,136.9 518.1,133.7 512.5,134.8" fill="#ff5600"/>
<polygon points="369.5,138.8 375.6,136.4 370.4,136.4 364.3,138.8" fill="#ff6000"/>
<polygon points="318.0,153.9 324.2,150.9 319.2,151.8 313.0,154.8" fill="#ffa600"/>
<polygon points="558.3,150.2 563.8,149.5 557.9,145.3 552.4,146.1" fill="#ff8b00"/>
<polygon points="506.8,135.9 512.5,134.8 506.8,131.9 501.1,133.0" fill="#ff4c00"/>
<polygon points="615.5,178.1 620.8,177.5 614.8,171.8 609.5,172.3" fill="#faff00"/>
<polygon points="380.9,136.7 387.0,134.3 381.7,134.1 375.6,136.4" fill="#ff5500"/>
<polygon points="586.9,162.8 592.3,162.2 586.4,157.3 581.0,157.9" fill="#ffc100"/>
<polygon points="495.4,134.2 501.1,133.0 495.4,130.3 489.7,131.5" fill="#ff4400"/>
<polygon points="392.3,134.8 398.3,132.6 393.0,132.2 387.0,134.3" fill="#ff4b00"/>
<polygon points="329.3,150.3 335.5,147.4 330.4,148.0 324.2,150.9" fill="#ff9300"/>
<polygon points="546.9,146.9 552.4,146.1 546.6,142.2 541.1,143.0" fill="#ff7a00"/>
<polygon points="483.9,132.9 489.7,131.5 484.0,129.2 478.3,130.5" fill="#ff3e00"/>
<polygon points="632.7,189.8 638.0,189.3 632.0,183.1 626.8,183.5" fill="#c7ff00"/>
<polygon points="403.7,133.4 409.7,131.3 404.3,130.6 398.3,132.6" fill="#ff4400"/>
<polygon points="472.5,131.9 478.3,130.5 472.6,128.3 466.8,129.7" fill="#ff3a00"/>
<polygon points="415.2,132.3 421.1,130.3 415.7,129.3 409.7,131.3" fill="#ff3e00"/>
<polygon points="461.0,131.3 466.8,129.7 461.2,127.8 455.4,129.3" fill="#ff3700"/>
<polygon points="650.0,202.7 655.1,202.2 649.1,195.5 644.0,195.9" fill="#8fff00"/>
<polygon points="426.6,131.5 432.6,129.6 427.1,128.4 421.1,130.3" fill="#ff3900"/>
<polygon points="449.5,131.0 455.4,129.3 449.8,127.7 444.0,129.3" fill="#ff3600"/>
<polygon points="438.1,131.1 444.0,129.3 438.5,127.9 432.6,129.6" fill="#ff3700"/>
<polygon points="340.6,147.0 346.8,144.2 341.7,144.6 335.5,147.4" fill="#ff8200"/>
<polygon points="575.6,158.6 581.0,157.9 575.1,153.2 569.7,153.9" fill="#ffac00"/>
<polygon points="604.2,172.9 609.5,172.3 603.6,166.8 598.2,167.4" fill="#ffeb00"/>
<polygon points="535.5,144.0 541.1,143.0 535.3,139.3 529.7,140.3" fill="#ff6c00"/>
<polygon points="352.0,144.0 358.1,141.3 353.0,141.5 346.8,144.2" fill="#ff7300"/>
<polygon points="524.0,141.4 529.7,140.3 523.9,136.9 518.3,137.9" fill="#ff6000"/>
<polygon points="621.5,184.1 626.8,183.5 620.8,177.5 615.5,178.1" fill="#e4ff00"/>
<polygon points="564.2,154.7 569.7,153.9 563.8,149.5 558.3,150.2" fill="#ff9900"/>
<polygon points="592.9,168.1 598.2,167.4 592.3,162.2 586.9,162.8" fill="#ffd300"/>
<polygon points="363.4,141.4 369.5,138.8 364.3,138.8 358.1,141.3" fill="#ff6500"/>
<polygon points="512.6,139.1 518.3,137.9 512.5,134.8 506.8,135.9" fill="#ff5500"/>
<polygon points="638.8,196.4 644.0,195.9 638.0,189.3 632.7,189.8" fill="#afff00"/>
<polygon points="374.8,139.1 380.9,136.7 375.6,136.4 369.5,138.8" fill="#ff5a00"/>
<polygon points="501.1,137.2 506.8,135.9 501.1,133.0 495.4,134.2" fill="#ff4c00"/>
<polygon points="552.8,151.2 558.3,150.2 552.4,146.1 546.9,146.9" fill="#ff8800"/>
<polygon points="323.0,153.3 329.3,150.3 324.2,150.9 318.0,153.9" fill="#ff9b00"/>
<polygon points="386.2,137.2 392.3,134.8 387.0,134.3 380.9,136.7" fill="#ff5000"/>
<polygon points="610.2,178.7 615.5,178.1 609.5,172.3 604.2,172.9" fill="#feff00"/>
<polygon points="489.6,135.6 495.4,134.2 489.7,131.5 483.9,132.9" fill="#ff4400"/>
<polygon points="581.5,163.6 586.9,162.8 581.0,157.9 575.6,158.6" fill="#ffbd00"/>
<polygon points="397.7,135.6 403.7,133.4 398.3,132.6 392.3,134.8" fill="#ff4800"/>
<polygon points="478.1,134.4 483.9,132.9 478.3,130.5 472.5,131.9" fill="#ff3f00"/>
<polygon points="541.3,148.0 546.9,146.9 541.1,143.0 535.5,144.0" fill="#ff7800"/>
<polygon points="409.2,134.4 415.2,132.3 409.7,131.3 403.7,133.4" fill="#ff4100"/>
<polygon points="466.6,133.5 472.5,131.9 466.8,129.7 461.0,131.3" fill="#ff3b00"/>
<polygon points="334.4,149.9 340.6,147.0 335.5,147.4 329.3,150.3" fill="#ff8900"/>
<polygon points="627.5,190.4 632.7,189.8 626.8,183.5 621.5,184.1" fill="#ccff00"/>
<polygon points="420.6,133.5 426.6,131.5 421.1,130.3 415.2,132.3" fill="#ff3c00"/>
<polygon points="455.1,133.0 461.0,131.3 455.4,129.3 449.5,131.0" fill="#ff3800"/>
<polygon points="432.1,133.0 438.1,131.1 432.6,129.6 426.6,131.5" fill="#ff3900"/>
<polygon points="443.6,132.8 449.5,131.0 444.0,129.3 438.1,131.1" fill="#ff3800"/>
<polygon points="644.8,203.2 650.0,202.7 644.0,195.9 638.8,196.4" fill="#95ff00"/>
<polygon points="570.1,159.5 575.6,158.6 569.7,153.9 564.2,154.7" fill="#ffa900"/>
<polygon points="529.9,145.1 535.5,144.0 529.7,140.3 524.0,141.4" fill="#ff6a00"/>
<polygon points="598.8,173.7 604.2,172.9 598.2,167.4 592.9,168.1" fill="#ffe700"/>
<polygon points="345.8,146.8 352.0,144.0 346.8,144.2 340.6,147.0" fill="#ff7a00"/>
<polygon points="518.4,142.6 524.0,141.4 518.3,137.9 512.6,139.1" fill="#ff5e00"/>
<polygon points="357.2,144.1 363.4,141.4 358.1,141.3 352.0,144.0" fill="#ff6c00"/>
<polygon points="616.2,184.8 621.5,184.1 615.5,178.1 610.2,178.7" fill="#e8ff00"/>
<polygon points="558.7,155.7 564.2,154.7 558.3,150.2 552.8,151.2" fill="#ff9600"/>
<polygon points="506.9,140.4 512.6,139.1 506.8,135.9 501.1,137.2" fill="#ff5400"/>
<polygon points="587.5,168.9 592.9,168.1 586.9,162.8 581.5,163.6" fill="#ffd000"/>
<polygon points="368.7,141.7 374.8,139.1 369.5,138.8 363.4,141.4" fill="#ff5f00"/>
<polygon points="633.5,197.0 638.8,196.4 632.7,189.8 627.5,190.4" fill="#b4ff00"/>
<polygon points="495.4,138.6 501.1,137.2 495.4,134.2 489.6,135.6" fill="#ff4b00"/>
<polygon points="380.1,139.7 386.2,137.2 380.9,136.7 374.8,139.1" fill="#ff5500"/>
<polygon points="547.2,152.2 552.8,151.2 546.9,146.9 541.3,148.0" fill="#ff8600"/>
<polygon points="483.8,137.1 489.6,135.6 483.9,132.9 478.1,134.4" fill="#ff4500"/>
<polygon points="391.6,138.0 397.7,135.6 392.3,134.8 386.2,137.2" fill="#ff4c00"/>
<polygon points="604.8,179.5 610.2,178.7 604.2,172.9 598.8,173.7" fill="#fffc00"/>
<polygon points="328.1,153.0 334.4,149.9 329.3,150.3 323.0,153.3" fill="#ff9100"/>
<polygon points="576.0,164.5 581.5,163.6 575.6,158.6 570.1,159.5" fill="#ffba00"/>
<polygon points="472.3,136.0 478.1,134.4 472.5,131.9 466.6,133.5" fill="#ff3f00"/>
<polygon points="403.1,136.6 409.2,134.4 403.7,133.4 397.7,135.6" fill="#ff4500"/>
<polygon points="460.8,135.2 466.6,133.5 461.0,131.3 455.1,133.0" fill="#ff3c00"/>
<polygon points="535.7,149.1 541.3,148.0 535.5,144.0 529.9,145.1" fill="#ff7700"/>
<polygon points="414.6,135.7 420.6,133.5 415.2,132.3 409.2,134.4" fill="#ff4000"/>
<polygon points="449.2,134.8 455.1,133.0 449.5,131.0 443.6,132.8" fill="#ff3a00"/>
<polygon points="426.2,135.0 432.1,133.0 426.6,131.5 420.6,133.5" fill="#ff3c00"/>
<polygon points="437.7,134.7 443.6,132.8 438.1,131.1 432.1,133.0" fill="#ff3b00"/>
<polygon points="622.2,191.2 627.5,190.4 621.5,184.1 616.2,184.8" fill="#d1ff00"/>
<polygon points="339.6,149.8 345.8,146.8 340.6,147.0 334.4,149.9" fill="#ff8100"/>
<polygon points="524.2,146.4 529.9,145.1 524.0,141.4 518.4,142.6" fill="#ff6900"/>
<polygon points="564.6,160.5 570.1,159.5 564.2,154.7 558.7,155.7" fill="#ffa600"/>
<polygon points="639.5,204.0 644.8,203.2 638.8,196.4 633.5,197.0" fill="#9aff00"/>
<polygon points="593.4,174.5 598.8,173.7 592.9,168.1 587.5,168.9" fill="#ffe300"/>
<polygon points="351.0,146.9 357.2,144.1 352.0,144.0 345.8,146.8" fill="#ff7300"/>
<polygon points="512.7,143.9 518.4,142.6 512.6,139.1 506.9,140.4" fill="#ff5e00"/>
<polygon points="362.5,144.4 368.7,141.7 363.4,141.4 357.2,144.1" fill="#ff6600"/>
<polygon points="553.1,156.8 558.7,155.7 552.8,151.2 547.2,152.2" fill="#ff9500"/>
<polygon points="610.8,185.6 616.2,184.8 610.2,178.7 604.8,179.5" fill="#ecff00"/>
<polygon points="501.1,141.9 506.9,140.4 501.1,137.2 495.4,138.6" fill="#ff5400"/>
<polygon points="582.0,169.9 587.5,168.9 581.5,163.6 576.0,164.5" fill="#ffcd00"/>
<polygon points="374.0,142.3 380.1,139.7 374.8,139.1 368.7,141.7" fill="#ff5b00"/>
<polygon points="489.6,140.2 495.4,138.6 489.6,135.6 483.8,137.1" fill="#ff4c00"/>
<polygon points="628.2,197.8 633.5,197.0 627.5,190.4 622.2,191.2" fill="#b8ff00"/>
<polygon points="541.6,153.4 547.2,152.2 541.3,148.0 535.7,149.1" fill="#ff8400"/>
<polygon points="385.5,140.5 391.6,138.0 386.2,137.2 380.1,139.7" fill="#ff5100"/>
<polygon points="478.0,138.8 483.8,137.1 478.1,134.4 472.3,136.0" fill="#ff4600"/>
<polygon points="397.0,139.0 403.1,136.6 397.7,135.6 391.6,138.0" fill="#ff4a00"/>
<polygon points="466.4,137.8 472.3,136.0 466.6,133.5 460.8,135.2" fill="#ff4100"/>
<polygon points="599.4,180.4 604.8,179.5 598.8,173.7 593.4,174.5" fill="#fff800"/>
<polygon points="408.6,137.9 414.6,135.7 409.2,134.4 403.1,136.6" fill="#ff4400"/>
<polygon points="570.5,165.6 576.0,164.5 570.1,159.5 564.6,160.5" fill="#ffb800"/>
<polygon points="454.9,137.1 460.8,135.2 455.1,133.0 449.2,134.8" fill="#ff3e00"/>
<polygon points="420.1,137.2 426.2,135.0 420.6,133.5 414.6,135.7" fill="#ff4000"/>
<polygon points="443.3,136.8 449.2,134.8 443.6,132.8 437.7,134.7" fill="#ff3d00"/>
<polygon points="431.7,136.8 437.7,134.7 432.1,133.0 426.2,135.0" fill="#ff3e00"/>
<polygon points="530.1,150.4 535.7,149.1 529.9,145.1 524.2,146.4" fill="#ff7600"/>
<polygon points="333.3,152.9 339.6,149.8 334.4,149.9 328.1,153.0" fill="#ff8900"/>
<polygon points="616.9,192.0 622.2,191.2 616.2,184.8 610.8,185.6" fill="#d4ff00"/>
<polygon points="518.5,147.8 524.2,146.4 518.4,142.6 512.7,143.9" fill="#ff6900"/>
<polygon points="344.8,149.9 351.0,146.9 345.8,146.8 339.6,149.8" fill="#ff7a00"/>
<polygon points="559.0,161.7 564.6,160.5 558.7,155.7 553.1,156.8" fill="#ffa500"/>
<polygon points="588.0,175.5 593.4,174.5 587.5,168.9 582.0,169.9" fill="#ffe100"/>
<polygon points="634.3,204.8 639.5,204.0 633.5,197.0 628.2,197.8" fill="#9eff00"/>
<polygon points="506.9,145.4 512.7,143.9 506.9,140.4 501.1,141.9" fill="#ff5e00"/>
<polygon points="356.3,147.3 362.5,144.4 357.2,144.1 351.0,146.9" fill="#ff6d00"/>
<polygon points="547.5,158.0 553.1,156.8 547.2,152.2 541.6,153.4" fill="#ff9300"/>
<polygon points="495.4,143.5 501.1,141.9 495.4,138.6 489.6,140.2" fill="#ff5500"/>
<polygon points="367.8,145.1 374.0,142.3 368.7,141.7 362.5,144.4" fill="#ff6100"/>
<polygon points="605.4,186.6 610.8,185.6 604.8,179.5 599.4,180.4" fill="#efff00"/>
<polygon points="576.5,171.0 582.0,169.9 576.0,164.5 570.5,165.6" fill="#ffca00"/>
<polygon points="483.8,141.8 489.6,140.2 483.8,137.1 478.0,138.8" fill="#ff4d00"/>
<polygon points="379.3,143.2 385.5,140.5 380.1,139.7 374.0,142.3" fill="#ff5700"/>
<polygon points="622.9,198.8 628.2,197.8 622.2,191.2 616.9,192.0" fill="#bcff00"/>
<polygon points="536.0,154.8 541.6,153.4 535.7,149.1 530.1,150.4" fill="#ff8300"/>
<polygon points="472.1,140.6 478.0,138.8 472.3,136.0 466.4,137.8" fill="#ff4700"/>
<polygon points="390.9,141.6 397.0,139.0 391.6,138.0 385.5,140.5" fill="#ff4f00"/>
<polygon points="460.5,139.7 466.4,137.8 460.8,135.2 454.9,137.1" fill="#ff4300"/>
<polygon points="402.5,140.4 408.6,137.9 403.1,136.6 397.0,139.0" fill="#ff4900"/>
<polygon points="448.9,139.1 454.9,137.1 449.2,134.8 443.3,136.8" fill="#ff4100"/>
<polygon points="414.1,139.5 420.1,137.2 414.6,135.7 408.6,137.9" fill="#ff4400"/>
<polygon points="437.3,138.9 443.3,136.8 437.7,134.7 431.7,136.8" fill="#ff4000"/>
<polygon points="425.7,139.0 431.7,136.8 426.2,135.0 420.1,137.2" fill="#ff4100"/>
<polygon points="594.0,181.5 599.4,180.4 593.4,174.5 588.0,175.5" fill="#fff600"/>
<polygon points="565.0,166.8 570.5,165.6 564.6,160.5 559.0,161.7" fill="#ffb600"/>
<polygon points="524.4,151.9 530.1,150.4 524.2,146.4 518.5,147.8" fill="#ff7600"/>
<polygon points="338.5,153.1 344.8,149.9 339.6,149.8 333.3,152.9" fill="#ff8200"/>
<polygon points="512.8,149.3 518.5,147.8 512.7,143.9 506.9,145.4" fill="#ff6900"/>
<polygon points="611.5,193.1 616.9,192.0 610.8,185.6 605.4,186.6" fill="#d8ff00"/>
<polygon points="553.4,162.9 559.0,161.7 553.1,156.8 547.5,158.0" fill="#ffa300"/>
<polygon points="350.0,150.3 356.3,147.3 351.0,146.9 344.8,149.9" fill="#ff7400"/>
<polygon points="582.5,176.7 588.0,175.5 582.0,169.9 576.5,171.0" fill="#ffde00"/>
<polygon points="629.0,205.8 634.3,204.8 628.2,197.8 622.9,198.8" fill="#a1ff00"/>
<polygon points="501.2,147.1 506.9,145.4 501.1,141.9 495.4,143.5" fill="#ff5f00"/>
<polygon points="361.6,148.0 367.8,145.1 362.5,144.4 356.3,147.3" fill="#ff6800"/>
<polygon points="489.5,145.2 495.4,143.5 489.6,140.2 483.8,141.8" fill="#ff5600"/>
<polygon points="541.9,159.4 547.5,158.0 541.6,153.4 536.0,154.8" fill="#ff9200"/>
<polygon points="373.2,146.0 379.3,143.2 374.0,142.3 367.8,145.1" fill="#ff5e00"/>
<polygon points="600.0,187.7 605.4,186.6 599.4,180.4 594.0,181.5" fill="#f2ff00"/>
<polygon points="477.9,143.7 483.8,141.8 478.0,138.8 472.1,140.6" fill="#ff4f00"/>
<polygon points="571.0,172.2 576.5,171.0 570.5,165.6 565.0,166.8" fill="#ffc900"/>
<polygon points="384.8,144.3 390.9,141.6 385.5,140.5 379.3,143.2" fill="#ff5500"/>
<polygon points="466.2,142.5 472.1,140.6 466.4,137.8 460.5,139.7" fill="#ff4a00"/>
<polygon points="530.3,156.3 536.0,154.8 530.1,150.4 524.4,151.9" fill="#ff8300"/>
<polygon points="396.4,143.0 402.5,140.4 397.0,139.0 390.9,141.6" fill="#ff4e00"/>
<polygon points="617.5,199.8 622.9,198.8 616.9,192.0 611.5,193.1" fill="#bfff00"/>
<polygon points="454.6,141.7 460.5,139.7 454.9,137.1 448.9,139.1" fill="#ff4600"/>
<polygon points="408.0,142.0 414.1,139.5 408.6,137.9 402.5,140.4" fill="#ff4900"/>
<polygon points="442.9,141.3 448.9,139.1 443.3,136.8 437.3,138.9" fill="#ff4400"/>
<polygon points="419.6,141.4 425.7,139.0 420.1,137.2 414.1,139.5" fill="#ff4600"/>
<polygon points="431.3,141.2 437.3,138.9 431.7,136.8 425.7,139.0" fill="#ff4400"/>
<polygon points="559.4,168.1 565.0,166.8 559.0,161.7 553.4,162.9" fill="#ffb500"/>
<polygon points="588.5,182.7 594.0,181.5 588.0,175.5 582.5,176.7" fill="#fff400"/>
<polygon points="518.6,153.4 524.4,151.9 518.5,147.8 512.8,149.3" fill="#ff7600"/>
<polygon points="343.8,153.5 350.0,150.3 344.8,149.9 338.5,153.1" fill="#ff7d00"/>
<polygon points="507.0,151.0 512.8,149.3 506.9,145.4 501.2,147.1" fill="#ff6a00"/>
<polygon points="606.1,194.2 611.5,193.1 605.4,186.6 600.0,187.7" fill="#daff00"/>
<polygon points="547.8,164.4 553.4,162.9 547.5,158.0 541.9,159.4" fill="#ffa300"/>
<polygon points="355.3,151.0 361.6,148.0 356.3,147.3 350.0,150.3" fill="#ff7000"/>
<polygon points="577.0,178.0 582.5,176.7 576.5,171.0 571.0,172.2" fill="#ffdd00"/>
<polygon points="495.3,148.8 501.2,147.1 495.4,143.5 489.5,145.2" fill="#ff6000"/>
<polygon points="623.6,206.9 629.0,205.8 622.9,198.8 617.5,199.8" fill="#a4ff00"/>
<polygon points="366.9,148.9 373.2,146.0 367.8,145.1 361.6,148.0" fill="#ff6500"/>
<polygon points="483.7,147.1 489.5,145.2 483.8,141.8 477.9,143.7" fill="#ff5800"/>
<polygon points="536.2,160.9 541.9,159.4 536.0,154.8 530.3,156.3" fill="#ff9200"/>
<polygon points="378.6,147.1 384.8,144.3 379.3,143.2 373.2,146.0" fill="#ff5c00"/>
<polygon points="472.0,145.7 477.9,143.7 472.1,140.6 466.2,142.5" fill="#ff5100"/>
<polygon points="594.5,188.9 600.0,187.7 594.0,181.5 588.5,182.7" fill="#f4ff00"/>
<polygon points="565.4,173.6 571.0,172.2 565.0,166.8 559.4,168.1" fill="#ffc800"/>
<polygon points="390.2,145.7 396.4,143.0 390.9,141.6 384.8,144.3" fill="#ff5500"/>
<polygon points="460.3,144.6 466.2,142.5 460.5,139.7 454.6,141.7" fill="#ff4d00"/>
<polygon points="401.9,144.6 408.0,142.0 402.5,140.4 396.4,143.0" fill="#ff4f00"/>
<polygon points="448.6,143.9 454.6,141.7 448.9,139.1 442.9,141.3" fill="#ff4a00"/>
<polygon points="524.5,157.9 530.3,156.3 524.4,151.9 518.6,153.4" fill="#ff8400"/>
<polygon points="413.6,143.9 419.6,141.4 414.1,139.5 408.0,142.0" fill="#ff4b00"/>
<polygon points="436.9,143.6 442.9,141.3 437.3,138.9 431.3,141.2" fill="#ff4800"/>
<polygon points="425.2,143.6 431.3,141.2 425.7,139.0 419.6,141.4" fill="#ff4900"/>
<polygon points="612.1,201.0 617.5,199.8 611.5,193.1 606.1,194.2" fill="#c1ff00"/>
<polygon points="512.9,155.2 518.6,153.4 512.8,149.3 507.0,151.0" fill="#ff7700"/>
<polygon points="553.8,169.6 559.4,168.1 553.4,162.9 547.8,164.4" fill="#ffb400"/>
<polygon points="583.0,184.0 588.5,182.7 582.5,176.7 577.0,178.0" fill="#fff200"/>
<polygon points="501.2,152.8 507.0,151.0 501.2,147.1 495.3,148.8" fill="#ff6c00"/>
<polygon points="349.1,154.3 355.3,151.0 350.0,150.3 343.8,153.5" fill="#ff7800"/>
<polygon points="600.6,195.5 606.1,194.2 600.0,187.7 594.5,188.9" fill="#dcff00"/>
<polygon points="542.1,165.9 547.8,164.4 541.9,159.4 536.2,160.9" fill="#ffa300"/>
<polygon points="489.5,150.8 495.3,148.8 489.5,145.2 483.7,147.1" fill="#ff6200"/>
<polygon points="360.7,152.0 366.9,148.9 361.6,148.0 355.3,151.0" fill="#ff6d00"/>
<polygon points="571.4,179.4 577.0,178.0 571.0,172.2 565.4,173.6" fill="#ffdc00"/>
<polygon points="618.2,208.1 623.6,206.9 617.5,199.8 612.1,201.0" fill="#a6ff00"/>
<polygon points="477.8,149.1 483.7,147.1 477.9,143.7 472.0,145.7" fill="#ff5b00"/>
<polygon points="372.4,150.1 378.6,147.1 373.2,146.0 366.9,148.9" fill="#ff6300"/>
<polygon points="530.5,162.6 536.2,160.9 530.3,156.3 524.5,157.9" fill="#ff9300"/>
<polygon points="466.1,147.8 472.0,145.7 466.2,142.5 460.3,144.6" fill="#ff5500"/>
<polygon points="384.0,148.6 390.2,145.7 384.8,144.3 378.6,147.1" fill="#ff5b00"/>
<polygon points="454.3,146.8 460.3,144.6 454.6,141.7 448.6,143.9" fill="#ff5000"/>
<polygon points="589.0,190.3 594.5,188.9 588.5,182.7 583.0,184.0" fill="#f5ff00"/>
<polygon points="395.7,147.4 401.9,144.6 396.4,143.0 390.2,145.7" fill="#ff5500"/>
<polygon points="559.8,175.1 565.4,173.6 559.4,168.1 553.8,169.6" fill="#ffc700"/>
<polygon points="442.6,146.2 448.6,143.9 442.9,141.3 436.9,143.6" fill="#ff4e00"/>
<polygon points="407.4,146.6 413.6,143.9 408.0,142.0 401.9,144.6" fill="#ff5100"/>
<polygon points="430.9,146.0 436.9,143.6 431.3,141.2 425.2,143.6" fill="#ff4d00"/>
<polygon points="419.1,146.1 425.2,143.6 419.6,141.4 413.6,143.9" fill="#ff4e00"/>
<polygon points="518.8,159.6 524.5,157.9 518.6,153.4 512.9,155.2" fill="#ff8500"/>
<polygon points="606.7,202.3 612.1,201.0 606.1,194.2 600.6,195.5" fill="#c3ff00"/>
<polygon points="507.1,157.0 512.9,155.2 507.0,151.0 501.2,152.8" fill="#ff7900"/>
<polygon points="548.1,171.2 553.8,169.6 547.8,164.4 542.1,165.9" fill="#ffb500"/>
<polygon points="577.4,185.4 583.0,184.0 577.0,178.0 571.4,179.4" fill="#fff100"/>
<polygon points="495.3,154.7 501.2,152.8 495.3,148.8 489.5,150.8" fill="#ff6e00"/>
<polygon points="354.4,155.3 360.7,152.0 355.3,151.0 349.1,154.3" fill="#ff7500"/>
<polygon points="536.4,167.6 542.1,165.9 536.2,160.9 530.5,162.6" fill="#ffa400"/>
<polygon points="595.1,196.9 600.6,195.5 594.5,188.9 589.0,190.3" fill="#ddff00"/>
<polygon points="483.6,152.8 489.5,150.8 483.7,147.1 477.8,149.1" fill="#ff6500"/>
<polygon points="366.1,153.3 372.4,150.1 366.9,148.9 360.7,152.0" fill="#ff6b00"/>
<polygon points="565.8,180.9 571.4,179.4 565.4,173.6 559.8,175.1" fill="#ffdc00"/>
<polygon points="471.8,151.3 477.8,149.1 472.0,145.7 466.1,147.8" fill="#ff5e00"/>
<polygon points="612.7,209.5 618.2,208.1 612.1,201.0 606.7,202.3" fill="#a8ff00"/>
<polygon points="377.8,151.6 384.0,148.6 378.6,147.1 372.4,150.1" fill="#ff6300"/>
<polygon points="524.7,164.4 530.5,162.6 524.5,157.9 518.8,159.6" fill="#ff9400"/>
<polygon points="460.1,150.1 466.1,147.8 460.3,144.6 454.3,146.8" fill="#ff5800"/>
<polygon points="389.5,150.3 395.7,147.4 390.2,145.7 384.0,148.6" fill="#ff5c00"/>
<polygon points="448.3,149.2 454.3,146.8 448.6,143.9 442.6,146.2" fill="#ff5500"/>
<polygon points="401.3,149.4 407.4,146.6 401.9,144.6 395.7,147.4" fill="#ff5700"/>
<polygon points="436.5,148.7 442.6,146.2 436.9,143.6 430.9,146.0" fill="#ff5300"/>
<polygon points="413.0,148.8 419.1,146.1 413.6,143.9 407.4,146.6" fill="#ff5400"/>
<polygon points="424.8,148.6 430.9,146.0 425.2,143.6 419.1,146.1" fill="#ff5200"/>
<polygon points="583.5,191.8 589.0,190.3 583.0,184.0 577.4,185.4" fill="#f6ff00"/>
<polygon points="554.1,176.8 559.8,175.1 553.8,169.6 548.1,171.2" fill="#ffc800"/>
<polygon points="513.0,161.5 518.8,159.6 512.9,155.2 507.1,157.0" fill="#ff8700"/>
<polygon points="601.2,203.8 606.7,202.3 600.6,195.5 595.1,196.9" fill="#c4ff00"/>
<polygon points="501.2,159.0 507.1,157.0 501.2,152.8 495.3,154.7" fill="#ff7b00"/>
<polygon points="542.4,172.9 548.1,171.2 542.1,165.9 536.4,167.6" fill="#ffb500"/>
<polygon points="571.8,187.0 577.4,185.4 571.4,179.4 565.8,180.9" fill="#fff100"/>
<polygon points="489.4,156.8 495.3,154.7 489.5,150.8 483.6,152.8" fill="#ff7100"/>
<polygon points="477.7,155.0 483.6,152.8 477.8,149.1 471.8,151.3" fill="#ff6800"/>
<polygon points="359.8,156.6 366.1,153.3 360.7,152.0 354.4,155.3" fill="#ff7400"/>
<polygon points="530.6,169.5 536.4,167.6 530.5,162.6 524.7,164.4" fill="#ffa500"/>
<polygon points="589.5,198.5 595.1,196.9 589.0,190.3 583.5,191.8" fill="#deff00"/>
<polygon points="465.9,153.6 471.8,151.3 466.1,147.8 460.1,150.1" fill="#ff6200"/>
<polygon points="371.6,154.8 377.8,151.6 372.4,150.1 366.1,153.3" fill="#ff6b00"/>
<polygon points="560.1,182.6 565.8,180.9 559.8,175.1 554.1,176.8" fill="#ffdc00"/>
<polygon points="454.1,152.5 460.1,150.1 454.3,146.8 448.3,149.2" fill="#ff5d00"/>
<polygon points="383.3,153.4 389.5,150.3 384.0,148.6 377.8,151.6" fill="#ff6400"/>
<polygon points="607.3,211.0 612.7,209.5 606.7,202.3 601.2,203.8" fill="#a9ff00"/>
<polygon points="518.9,166.3 524.7,164.4 518.8,159.6 513.0,161.5" fill="#ff9600"/>
<polygon points="442.3,151.7 448.3,149.2 442.6,146.2 436.5,148.7" fill="#ff5a00"/>
<polygon points="395.1,152.3 401.3,149.4 395.7,147.4 389.5,150.3" fill="#ff5e00"/>
<polygon points="430.5,151.4 436.5,148.7 430.9,146.0 424.8,148.6" fill="#ff5800"/>
<polygon points="406.9,151.7 413.0,148.8 407.4,146.6 401.3,149.4" fill="#ff5a00"/>
<polygon points="418.7,151.3 424.8,148.6 419.1,146.1 413.0,148.8" fill="#ff5800"/>
<polygon points="577.9,193.5 583.5,191.8 577.4,185.4 571.8,187.0" fill="#f6ff00"/>
<polygon points="548.4,178.6 554.1,176.8 548.1,171.2 542.4,172.9" fill="#ffc900"/>
<polygon points="507.1,163.6 513.0,161.5 507.1,157.0 501.2,159.0" fill="#ff8900"/>
<polygon points="495.3,161.2 501.2,159.0 495.3,154.7 489.4,156.8" fill="#ff7e00"/>
<polygon points="595.6,205.4 601.2,203.8 595.1,196.9 589.5,198.5" fill="#c4ff00"/>
<polygon points="536.6,174.8 542.4,172.9 536.4,167.6 530.6,169.5" fill="#ffb700"/>
<polygon points="566.2,188.8 571.8,187.0 565.8,180.9 560.1,182.6" fill="#fff200"/>
<polygon points="483.5,159.1 489.4,156.8 483.6,152.8 477.7,155.0" fill="#ff7400"/>
<polygon points="471.7,157.4 477.7,155.0 471.8,151.3 465.9,153.6" fill="#ff6c00"/>
<polygon points="524.9,171.5 530.6,169.5 524.7,164.4 518.9,166.3" fill="#ffa700"/>
<polygon points="365.3,158.1 371.6,154.8 366.1,153.3 359.8,156.6" fill="#ff7400"/>
<polygon points="459.8,156.0 465.9,153.6 460.1,150.1 454.1,152.5" fill="#ff6600"/>
<polygon points="583.9,200.2 589.5,198.5 583.5,191.8 577.9,193.5" fill="#ddff00"/>
<polygon points="377.0,156.6 383.3,153.4 377.8,151.6 371.6,154.8" fill="#ff6c00"/>
<polygon points="554.4,184.5 560.1,182.6 554.1,176.8 548.4,178.6" fill="#ffdd00"/>
<polygon points="448.0,155.0 454.1,152.5 448.3,149.2 442.3,151.7" fill="#ff6200"/>
<polygon points="388.8,155.5 395.1,152.3 389.5,150.3 383.3,153.4" fill="#ff6600"/>
<polygon points="436.2,154.4 442.3,151.7 436.5,148.7 430.5,151.4" fill="#ff5f00"/>
<polygon points="400.7,154.7 406.9,151.7 401.3,149.4 395.1,152.3" fill="#ff6200"/>
<polygon points="513.0,168.4 518.9,166.3 513.0,161.5 507.1,163.6" fill="#ff9900"/>
<polygon points="424.3,154.1 430.5,151.4 424.8,148.6 418.7,151.3" fill="#ff5e00"/>
<polygon points="412.5,154.2 418.7,151.3 413.0,148.8 406.9,151.7" fill="#ff5f00"/>
<polygon points="601.7,212.7 607.3,211.0 601.2,203.8 595.6,205.4" fill="#a9ff00"/>
<polygon points="501.2,165.8 507.1,163.6 501.2,159.0 495.3,161.2" fill="#ff8c00"/>
<polygon points="542.6,180.5 548.4,178.6 542.4,172.9 536.6,174.8" fill="#ffca00"/>
<polygon points="572.2,195.3 577.9,193.5 571.8,187.0 566.2,188.8" fill="#f5ff00"/>
<polygon points="489.4,163.4 495.3,161.2 489.4,156.8 483.5,159.1" fill="#ff8100"/>
<polygon points="590.0,207.2 595.6,205.4 589.5,198.5 583.9,200.2" fill="#c4ff00"/>
<polygon points="530.8,176.9 536.6,174.8 530.6,169.5 524.9,171.5" fill="#ffb900"/>
<polygon points="477.5,161.5 483.5,159.1 477.7,155.0 471.7,157.4" fill="#ff7800"/>
<polygon points="560.5,190.7 566.2,188.8 560.1,182.6 554.4,184.5" fill="#fff300"/>
<polygon points="465.7,159.9 471.7,157.4 465.9,153.6 459.8,156.0" fill="#ff7100"/>
<polygon points="519.0,173.6 524.9,171.5 518.9,166.3 513.0,168.4" fill="#ffa900"/>
<polygon points="370.7,160.0 377.0,156.6 371.6,154.8 365.3,158.1" fill="#ff7500"/>
<polygon points="453.8,158.6 459.8,156.0 454.1,152.5 448.0,155.0" fill="#ff6b00"/>
<polygon points="382.6,158.7 388.8,155.5 383.3,153.4 377.0,156.6" fill="#ff6e00"/>
<polygon points="578.3,202.0 583.9,200.2 577.9,193.5 572.2,195.3" fill="#ddff00"/>
<polygon points="441.9,157.8 448.0,155.0 442.3,151.7 436.2,154.4" fill="#ff6700"/>
<polygon points="548.7,186.5 554.4,184.5 548.4,178.6 542.6,180.5" fill="#ffdf00"/>
<polygon points="394.4,157.8 400.7,154.7 395.1,152.3 388.8,155.5" fill="#ff6900"/>
<polygon points="430.0,157.2 436.2,154.4 430.5,151.4 424.3,154.1" fill="#ff6500"/>
<polygon points="406.3,157.3 412.5,154.2 406.9,151.7 400.7,154.7" fill="#ff6600"/>
<polygon points="418.2,157.1 424.3,154.1 418.7,151.3 412.5,154.2" fill="#ff6500"/>
<polygon points="507.2,170.7 513.0,168.4 507.1,163.6 501.2,165.8" fill="#ff9c00"/>
<polygon points="596.1,214.5 601.7,212.7 595.6,205.4 590.0,207.2" fill="#a9ff00"/>
<polygon points="495.3,168.1 501.2,165.8 495.3,161.2 489.4,163.4" fill="#ff9000"/>
<polygon points="536.9,182.6 542.6,180.5 536.6,174.8 530.8,176.9" fill="#ffcc00"/>
<polygon points="566.5,197.2 572.2,195.3 566.2,188.8 560.5,190.7" fill="#f4ff00"/>
<polygon points="483.4,165.9 489.4,163.4 483.5,159.1 477.5,161.5" fill="#ff8500"/>
<polygon points="584.4,209.1 590.0,207.2 583.9,200.2 578.3,202.0" fill="#c3ff00"/>
<polygon points="525.0,179.0 530.8,176.9 524.9,171.5 519.0,173.6" fill="#ffbc00"/>
<polygon points="471.5,164.0 477.5,161.5 471.7,157.4 465.7,159.9" fill="#ff7d00"/>
<polygon points="554.7,192.7 560.5,190.7 554.4,184.5 548.7,186.5" fill="#fff500"/>
<polygon points="459.6,162.5 465.7,159.9 459.8,156.0 453.8,158.6" fill="#ff7600"/>
<polygon points="447.7,161.4 453.8,158.6 448.0,155.0 441.9,157.8" fill="#ff7100"/>
<polygon points="513.1,175.9 519.0,173.6 513.0,168.4 507.2,170.7" fill="#ffad00"/>
<polygon points="376.3,162.1 382.6,158.7 377.0,156.6 370.7,160.0" fill="#ff7700"/>
<polygon points="435.8,160.6 441.9,157.8 436.2,154.4 430.0,157.2" fill="#ff6e00"/>
<polygon points="388.2,161.1 394.4,157.8 388.8,155.5 382.6,158.7" fill="#ff7200"/>
<polygon points="423.9,160.2 430.0,157.2 424.3,154.1 418.2,157.1" fill="#ff6c00"/>
<polygon points="400.1,160.4 406.3,157.3 400.7,154.7 394.4,157.8" fill="#ff6e00"/>
<polygon points="412.0,160.1 418.2,157.1 412.5,154.2 406.3,157.3" fill="#ff6c00"/>
<polygon points="572.6,204.0 578.3,202.0 572.2,195.3 566.5,197.2" fill="#dbff00"/>
<polygon points="542.9,188.6 548.7,186.5 542.6,180.5 536.9,182.6" fill="#ffe100"/>
<polygon points="501.2,173.1 507.2,170.7 501.2,165.8 495.3,168.1" fill="#ff9f00"/>
<polygon points="590.5,216.4 596.1,214.5 590.0,207.2 584.4,209.1" fill="#a8ff00"/>
<polygon points="489.3,170.6 495.3,168.1 489.4,163.4 483.4,165.9" fill="#ff9400"/>
<polygon points="531.0,184.8 536.9,182.6 530.8,176.9 525.0,179.0" fill="#ffcf00"/>
<polygon points="560.8,199.3 566.5,197.2 560.5,190.7 554.7,192.7" fill="#f2ff00"/>
<polygon points="477.4,168.5 483.4,165.9 477.5,161.5 471.5,164.0" fill="#ff8a00"/>
<polygon points="465.5,166.7 471.5,164.0 465.7,159.9 459.6,162.5" fill="#ff8200"/>
<polygon points="519.1,181.4 525.0,179.0 519.0,173.6 513.1,175.9" fill="#ffbf00"/>
<polygon points="578.7,211.1 584.4,209.1 578.3,202.0 572.6,204.0" fill="#c2ff00"/>
<polygon points="453.5,165.3 459.6,162.5 453.8,158.6 447.7,161.4" fill="#ff7c00"/>
<polygon points="549.0,194.9 554.7,192.7 548.7,186.5 542.9,188.6" fill="#fff700"/>
<polygon points="441.6,164.3 447.7,161.4 441.9,157.8 435.8,160.6" fill="#ff7700"/>
<polygon points="381.9,164.6 388.2,161.1 382.6,158.7 376.3,162.1" fill="#ff7b00"/>
<polygon points="507.2,178.3 513.1,175.9 507.2,170.7 501.2,173.1" fill="#ffb100"/>
<polygon points="429.6,163.6 435.8,160.6 430.0,157.2 423.9,160.2" fill="#ff7500"/>
<polygon points="393.8,163.8 400.1,160.4 394.4,157.8 388.2,161.1" fill="#ff7700"/>
<polygon points="417.7,163.3 423.9,160.2 418.2,157.1 412.0,160.1" fill="#ff7400"/>
<polygon points="405.7,163.4 412.0,160.1 406.3,157.3 400.1,160.4" fill="#ff7400"/>
<polygon points="566.9,206.1 572.6,204.0 566.5,197.2 560.8,199.3" fill="#d9ff00"/>
<polygon points="537.1,190.9 542.9,188.6 536.9,182.6 531.0,184.8" fill="#ffe400"/>
<polygon points="495.3,175.6 501.2,173.1 495.3,168.1 489.3,170.6" fill="#ffa400"/>
<polygon points="584.9,218.5 590.5,216.4 584.4,209.1 578.7,211.1" fill="#a6ff00"/>
<polygon points="483.3,173.2 489.3,170.6 483.4,165.9 477.4,168.5" fill="#ff9900"/>
<polygon points="525.2,187.2 531.0,184.8 525.0,179.0 519.1,181.4" fill="#ffd300"/>
<polygon points="555.0,201.5 560.8,199.3 554.7,192.7 549.0,194.9" fill="#efff00"/>
<polygon points="471.4,171.2 477.4,168.5 471.5,164.0 465.5,166.7" fill="#ff9000"/>
<polygon points="459.4,169.6 465.5,166.7 459.6,162.5 453.5,165.3" fill="#ff8800"/>
<polygon points="513.2,183.9 519.1,181.4 513.1,175.9 507.2,178.3" fill="#ffc300"/>
<polygon points="573.0,213.3 578.7,211.1 572.6,204.0 566.9,206.1" fill="#bfff00"/>
<polygon points="447.4,168.3 453.5,165.3 447.7,161.4 441.6,164.3" fill="#ff8200"/>
<polygon points="543.1,197.2 549.0,194.9 542.9,188.6 537.1,190.9" fill="#fffa00"/>
<polygon points="435.4,167.4 441.6,164.3 435.8,160.6 429.6,163.6" fill="#ff7e00"/>
<polygon points="387.5,167.3 393.8,163.8 388.2,161.1 381.9,164.6" fill="#ff8000"/>
<polygon points="423.4,166.8 429.6,163.6 423.9,160.2 417.7,163.3" fill="#ff7c00"/>
<polygon points="399.5,166.8 405.7,163.4 400.1,160.4 393.8,163.8" fill="#ff7d00"/>
<polygon points="411.4,166.6 417.7,163.3 412.0,160.1 405.7,163.4" fill="#ff7c00"/>
<polygon points="501.3,180.9 507.2,178.3 501.2,173.1 495.3,175.6" fill="#ffb500"/>
<polygon points="561.2,208.4 566.9,206.1 560.8,199.3 555.0,201.5" fill="#d7ff00"/>
<polygon points="531.2,193.3 537.1,190.9 531.0,184.8 525.2,187.2" fill="#ffe800"/>
<polygon points="489.3,178.3 495.3,175.6 489.3,170.6 483.3,173.2" fill="#ffa900"/>
<polygon points="477.3,176.0 483.3,173.2 477.4,168.5 471.4,171.2" fill="#ff9f00"/>
<polygon points="579.2,220.8 584.9,218.5 578.7,211.1 573.0,213.3" fill="#a4ff00"/>
<polygon points="519.3,189.7 525.2,187.2 519.1,181.4 513.2,183.9" fill="#ffd700"/>
<polygon points="465.3,174.1 471.4,171.2 465.5,166.7 459.4,169.6" fill="#ff9600"/>
<polygon points="549.2,203.9 555.0,201.5 549.0,194.9 543.1,197.2" fill="#ecff00"/>
<polygon points="453.3,172.6 459.4,169.6 453.5,165.3 447.4,168.3" fill="#ff8f00"/>
<polygon points="507.3,186.5 513.2,183.9 507.2,178.3 501.3,180.9" fill="#ffc800"/>
<polygon points="441.2,171.4 447.4,168.3 441.6,164.3 435.4,167.4" fill="#ff8a00"/>
<polygon points="567.3,215.6 573.0,213.3 566.9,206.1 561.2,208.4" fill="#bdff00"/>
<polygon points="429.2,170.6 435.4,167.4 429.6,163.6 423.4,166.8" fill="#ff8600"/>
<polygon points="537.3,199.7 543.1,197.2 537.1,190.9 531.2,193.3" fill="#fffe00"/>
<polygon points="417.2,170.1 423.4,166.8 417.7,163.3 411.4,166.6" fill="#ff8400"/>
<polygon points="393.2,170.3 399.5,166.8 393.8,163.8 387.5,167.3" fill="#ff8600"/>
<polygon points="405.2,170.0 411.4,166.6 405.7,163.4 399.5,166.8" fill="#ff8400"/>
<polygon points="495.3,183.6 501.3,180.9 495.3,175.6 489.3,178.3" fill="#ffba00"/>
<polygon points="483.2,181.1 489.3,178.3 483.3,173.2 477.3,176.0" fill="#ffaf00"/>
<polygon points="525.3,195.9 531.2,193.3 525.2,187.2 519.3,189.7" fill="#ffec00"/>
<polygon points="555.4,210.9 561.2,208.4 555.0,201.5 549.2,203.9" fill="#d3ff00"/>
<polygon points="471.2,178.9 477.3,176.0 471.4,171.2 465.3,174.1" fill="#ffa500"/>
<polygon points="573.4,223.2 579.2,220.8 573.0,213.3 567.3,215.6" fill="#a1ff00"/>
<polygon points="513.3,192.4 519.3,189.7 513.2,183.9 507.3,186.5" fill="#ffdc00"/>
<polygon points="459.2,177.1 465.3,174.1 459.4,169.6 453.3,172.6" fill="#ff9d00"/>
<polygon points="543.4,206.4 549.2,203.9 543.1,197.2 537.3,199.7" fill="#e8ff00"/>
<polygon points="447.1,175.7 453.3,172.6 447.4,168.3 441.2,171.4" fill="#ff9600"/>
<polygon points="435.0,174.6 441.2,171.4 435.4,167.4 429.2,170.6" fill="#ff9100"/>
<polygon points="501.3,189.3 507.3,186.5 501.3,180.9 495.3,183.6" fill="#ffcd00"/>
<polygon points="423.0,173.9 429.2,170.6 423.4,166.8 417.2,170.1" fill="#ff8e00"/>
<polygon points="410.9,173.6 417.2,170.1 411.4,166.6 405.2,170.0" fill="#ff8d00"/>
<polygon points="398.9,173.6 405.2,170.0 399.5,166.8 393.2,170.3" fill="#ff8e00"/>
<polygon points="561.5,218.1 567.3,215.6 561.2,208.4 555.4,210.9" fill="#b9ff00"/>
<polygon points="531.4,202.3 537.3,199.7 531.2,193.3 525.3,195.9" fill="#fcff00"/>
<polygon points="489.2,186.5 495.3,183.6 489.3,178.3 483.2,181.1" fill="#ffc000"/>
<polygon points="477.2,184.1 483.2,181.1 477.3,176.0 471.2,178.9" fill="#ffb500"/>
<polygon points="519.4,198.6 525.3,195.9 519.3,189.7 513.3,192.4" fill="#fff100"/>
<polygon points="549.5,213.4 555.4,210.9 549.2,203.9 543.4,206.4" fill="#d0ff00"/>
<polygon points="465.1,182.0 471.2,178.9 465.3,174.1 459.2,177.1" fill="#ffac00"/>
<polygon points="567.7,225.7 573.4,223.2 567.3,215.6 561.5,218.1" fill="#9eff00"/>
<polygon points="453.0,180.3 459.2,177.1 453.3,172.6 447.1,175.7" fill="#ffa400"/>
<polygon points="507.3,195.2 513.3,192.4 507.3,186.5 501.3,189.3" fill="#ffe100"/>
<polygon points="537.5,209.1 543.4,206.4 537.3,199.7 531.4,202.3" fill="#e4ff00"/>
<polygon points="440.9,179.0 447.1,175.7 441.2,171.4 435.0,174.6" fill="#ff9e00"/>
<polygon points="428.8,178.0 435.0,174.6 429.2,170.6 423.0,173.9" fill="#ff9a00"/>
<polygon points="495.3,192.2 501.3,189.3 495.3,183.6 489.2,186.5" fill="#ffd300"/>
<polygon points="416.7,177.4 423.0,173.9 417.2,170.1 410.9,173.6" fill="#ff9700"/>
<polygon points="404.6,177.2 410.9,173.6 405.2,170.0 398.9,173.6" fill="#ff9700"/>
<polygon points="555.7,220.8 561.5,218.1 555.4,210.9 549.5,213.4" fill="#b5ff00"/>
<polygon points="525.5,205.1 531.4,202.3 525.3,195.9 519.4,198.6" fill="#f7ff00"/>
<polygon points="483.2,189.5 489.2,186.5 483.2,181.1 477.2,184.1" fill="#ffc700"/>
<polygon points="471.1,187.2 477.2,184.1 471.2,178.9 465.1,182.0" fill="#ffbc00"/>
<polygon points="513.4,201.5 519.4,198.6 513.3,192.4 507.3,195.2" fill="#fff600"/>
<polygon points="543.6,216.2 549.5,213.4 543.4,206.4 537.5,209.1" fill="#cbff00"/>
<polygon points="458.9,185.3 465.1,182.0 459.2,177.1 453.0,180.3" fill="#ffb300"/>
<polygon points="446.8,183.7 453.0,180.3 447.1,175.7 440.9,179.0" fill="#ffac00"/>
<polygon points="501.3,198.2 507.3,195.2 501.3,189.3 495.3,192.2" fill="#ffe700"/>
<polygon points="561.8,228.4 567.7,225.7 561.5,218.1 555.7,220.8" fill="#9aff00"/>
<polygon points="434.7,182.5 440.9,179.0 435.0,174.6 428.8,178.0" fill="#ffa700"/>
<polygon points="531.6,211.9 537.5,209.1 531.4,202.3 525.5,205.1" fill="#dfff00"/>
<polygon points="422.5,181.6 428.8,178.0 423.0,173.9 416.7,177.4" fill="#ffa300"/>
<polygon points="410.4,181.1 416.7,177.4 410.9,173.6 404.6,177.2" fill="#ffa100"/>
<polygon points="489.2,195.3 495.3,192.2 489.2,186.5 483.2,189.5" fill="#ffd900"/>
<polygon points="549.8,223.5 555.7,220.8 549.5,213.4 543.6,216.2" fill="#b1ff00"/>
<polygon points="519.5,208.0 525.5,205.1 519.4,198.6 513.4,201.5" fill="#f1ff00"/>
<polygon points="477.1,192.7 483.2,189.5 477.2,184.1 471.1,187.2" fill="#ffce00"/>
<polygon points="464.9,190.5 471.1,187.2 465.1,182.0 458.9,185.3" fill="#ffc400"/>
<polygon points="507.4,204.5 513.4,201.5 507.3,195.2 501.3,198.2" fill="#fffc00"/>
<polygon points="537.7,219.0 543.6,216.2 537.5,209.1 531.6,211.9" fill="#c6ff00"/>
<polygon points="452.7,188.7 458.9,185.3 453.0,180.3 446.8,183.7" fill="#ffbb00"/>
<polygon points="440.6,187.2 446.8,183.7 440.9,179.0 434.7,182.5" fill="#ffb500"/>
<polygon points="495.2,201.3 501.3,198.2 495.3,192.2 489.2,195.3" fill="#ffee00"/>
<polygon points="428.4,186.1 434.7,182.5 428.8,178.0 422.5,181.6" fill="#ffb000"/>
<polygon points="556.0,231.2 561.8,228.4 555.7,220.8 549.8,223.5" fill="#95ff00"/>
<polygon points="416.2,185.3 422.5,181.6 416.7,177.4 410.4,181.1" fill="#ffad00"/>
<polygon points="525.6,214.9 531.6,211.9 525.5,205.1 519.5,208.0" fill="#d9ff00"/>
<polygon points="483.1,198.5 489.2,195.3 483.2,189.5 477.1,192.7" fill="#ffe100"/>
<polygon points="470.9,196.0 477.1,192.7 471.1,187.2 464.9,190.5" fill="#ffd500"/>
<polygon points="543.9,226.5 549.8,223.5 543.6,216.2 537.7,219.0" fill="#abff00"/>
<polygon points="513.5,211.1 519.5,208.0 513.4,201.5 507.4,204.5" fill="#ebff00"/>
<polygon points="458.7,193.9 464.9,190.5 458.9,185.3 452.7,188.7" fill="#ffcc00"/>
<polygon points="501.3,207.7 507.4,204.5 501.3,198.2 495.2,201.3" fill="#fbff00"/>
<polygon points="446.5,192.2 452.7,188.7 446.8,183.7 440.6,187.2" fill="#ffc400"/>
<polygon points="531.8,222.1 537.7,219.0 531.6,211.9 525.6,214.9" fill="#c0ff00"/>
<polygon points="434.3,190.8 440.6,187.2 434.7,182.5 428.4,186.1" fill="#ffbe00"/>
<polygon points="422.1,189.8 428.4,186.1 422.5,181.6 416.2,185.3" fill="#ffba00"/>
<polygon points="489.1,204.6 495.2,201.3 489.2,195.3 483.1,198.5" fill="#fff500"/>
<polygon points="550.1,234.2 556.0,231.2 549.8,223.5 543.9,226.5" fill="#90ff00"/>
<polygon points="519.6,218.0 525.6,214.9 519.5,208.0 513.5,211.1" fill="#d3ff00"/>
<polygon points="476.9,201.9 483.1,198.5 477.1,192.7 470.9,196.0" fill="#ffe800"/>
<polygon points="464.7,199.5 470.9,196.0 464.9,190.5 458.7,193.9" fill="#ffde00"/>
<polygon points="507.4,214.3 513.5,211.1 507.4,204.5 501.3,207.7" fill="#e4ff00"/>
<polygon points="537.9,229.5 543.9,226.5 537.7,219.0 531.8,222.1" fill="#a5ff00"/>
<polygon points="452.5,197.5 458.7,193.9 452.7,188.7 446.5,192.2" fill="#ffd500"/>
<polygon points="495.2,211.0 501.3,207.7 495.2,201.3 489.1,204.6" fill="#f3ff00"/>
<polygon points="440.2,195.9 446.5,192.2 440.6,187.2 434.3,190.8" fill="#ffcd00"/>
<polygon points="525.8,225.2 531.8,222.1 525.6,214.9 519.6,218.0" fill="#b9ff00"/>
<polygon points="428.0,194.7 434.3,190.8 428.4,186.1 422.1,189.8" fill="#ffc800"/>
<polygon points="483.0,208.0 489.1,204.6 483.1,198.5 476.9,201.9" fill="#fffd00"/>
<polygon points="544.1,237.3 550.1,234.2 543.9,226.5 537.9,229.5" fill="#89ff00"/>
<polygon points="513.6,221.3 519.6,218.0 513.5,211.1 507.4,214.3" fill="#ccff00"/>
<polygon points="470.7,205.4 476.9,201.9 470.9,196.0 464.7,199.5" fill="#fff100"/>
<polygon points="458.5,203.2 464.7,199.5 458.7,193.9 452.5,197.5" fill="#ffe700"/>
<polygon points="501.3,217.7 507.4,214.3 501.3,207.7 495.2,211.0" fill="#ddff00"/>
<polygon points="531.9,232.8 537.9,229.5 531.8,222.1 525.8,225.2" fill="#9fff00"/>
<polygon points="446.2,201.3 452.5,197.5 446.5,192.2 440.2,195.9" fill="#ffde00"/>
<polygon points="433.9,199.8 440.2,195.9 434.3,190.8 428.0,194.7" fill="#ffd700"/>
<polygon points="489.1,214.5 495.2,211.0 489.1,204.6 483.0,208.0" fill="#ebff00"/>
<polygon points="519.7,228.6 525.8,225.2 519.6,218.0 513.6,221.3" fill="#b2ff00"/>
<polygon points="476.8,211.6 483.0,208.0 476.9,201.9 470.7,205.4" fill="#f9ff00"/>
<polygon points="538.1,240.6 544.1,237.3 537.9,229.5 531.9,232.8" fill="#83ff00"/>
<polygon points="507.5,224.7 513.6,221.3 507.4,214.3 501.3,217.7" fill="#c4ff00"/>
<polygon points="464.5,209.1 470.7,205.4 464.7,199.5 458.5,203.2" fill="#fffa00"/>
<polygon points="452.2,207.0 458.5,203.2 452.5,197.5 446.2,201.3" fill="#fff000"/>
<polygon points="495.2,221.3 501.3,217.7 495.2,211.0 489.1,214.5" fill="#d4ff00"/>
<polygon points="525.9,236.2 531.9,232.8 525.8,225.2 519.7,228.6" fill="#98ff00"/>
<polygon points="439.9,205.2 446.2,201.3 440.2,195.9 433.9,199.8" fill="#ffe800"/>
<polygon points="482.9,218.1 489.1,214.5 483.0,208.0 476.8,211.6" fill="#e3ff00"/>
<polygon points="513.6,232.1 519.7,228.6 513.6,221.3 507.5,224.7" fill="#abff00"/>
<polygon points="470.6,215.4 476.8,211.6 470.7,205.4 464.5,209.1" fill="#efff00"/>
<polygon points="532.1,244.1 538.1,240.6 531.9,232.8 525.9,236.2" fill="#7bff00"/>
<polygon points="501.4,228.3 507.5,224.7 501.3,217.7 495.2,221.3" fill="#bcff00"/>
<polygon points="458.3,213.0 464.5,209.1 458.5,203.2 452.2,207.0" fill="#faff00"/>
<polygon points="445.9,211.0 452.2,207.0 446.2,201.3 439.9,205.2" fill="#fffb00"/>
<polygon points="489.0,225.0 495.2,221.3 489.1,214.5 482.9,218.1" fill="#ccff00"/>
<polygon points="519.8,239.7 525.9,236.2 519.7,228.6 513.6,232.1" fill="#90ff00"/>
<polygon points="476.7,221.9 482.9,218.1 476.8,211.6 470.6,215.4" fill="#d9ff00"/>
<polygon points="507.5,235.7 513.6,232.1 507.5,224.7 501.4,228.3" fill="#a2ff00"/>
<polygon points="464.3,219.3 470.6,215.4 464.5,209.1 458.3,213.0" fill="#e6ff00"/>
<polygon points="452.0,217.0 458.3,213.0 452.2,207.0 445.9,211.0" fill="#f0ff00"/>
<polygon points="526.0,247.7 532.1,244.1 525.9,236.2 519.8,239.7" fill="#73ff00"/>
<polygon points="495.2,232.1 501.4,228.3 495.2,221.3 489.0,225.0" fill="#b3ff00"/>
<polygon points="482.8,228.8 489.0,225.0 482.9,218.1 476.7,221.9" fill="#c2ff00"/>
<polygon points="513.7,243.4 519.8,239.7 513.6,232.1 507.5,235.7" fill="#87ff00"/>
<polygon points="470.4,225.9 476.7,221.9 470.6,215.4 464.3,219.3" fill="#cfff00"/>
<polygon points="501.4,239.5 507.5,235.7 501.4,228.3 495.2,232.1" fill="#99ff00"/>
<polygon points="458.0,223.4 464.3,219.3 458.3,213.0 452.0,217.0" fill="#dbff00"/>
<polygon points="489.0,236.0 495.2,232.1 489.0,225.0 482.8,228.8" fill="#aaff00"/>
<polygon points="519.9,251.5 526.0,247.7 519.8,239.7 513.7,243.4" fill="#6bff00"/>
<polygon points="476.6,232.8 482.8,228.8 476.7,221.9 470.4,225.9" fill="#b8ff00"/>
<polygon points="507.6,247.3 513.7,243.4 507.5,235.7 501.4,239.5" fill="#7eff00"/>
<polygon points="464.2,230.0 470.4,225.9 464.3,219.3 458.0,223.4" fill="#c5ff00"/>
<polygon points="495.2,243.5 501.4,239.5 495.2,232.1 489.0,236.0" fill="#90ff00"/>
<polygon points="482.7,240.1 489.0,236.0 482.8,228.8 476.6,232.8" fill="#9fff00"/>
<polygon points="513.8,255.4 519.9,251.5 513.7,243.4 507.6,247.3" fill="#62ff00"/>
<polygon points="470.3,237.0 476.6,232.8 470.4,225.9 464.2,230.0" fill="#adff00"/>
<polygon points="501.4,251.3 507.6,247.3 501.4,239.5 495.2,243.5" fill="#74ff00"/>
<polygon points="488.9,247.6 495.2,243.5 489.0,236.0 482.7,240.1" fill="#85ff00"/>
<polygon points="476.5,244.3 482.7,240.1 476.6,232.8 470.3,237.0" fill="#95ff00"/>
<polygon points="507.6,259.5 513.8,255.4 507.6,247.3 501.4,251.3" fill="#58ff00"/>
<polygon points="495.2,255.5 501.4,251.3 495.2,243.5 488.9,247.6" fill="#6aff00"/>
<polygon points="482.7,251.9 488.9,247.6 482.7,240.1 476.5,244.3" fill="#7aff00"/>
<polygon points="501.4,263.7 507.6,259.5 501.4,251.3 495.2,255.5" fill="#4dff00"/>
<polygon points="488.9,259.9 495.2,255.5 488.9,247.6 482.7,251.9" fill="#5fff00"/>
<polygon points="495.1,268.1 501.4,263.7 495.2,255.5 488.9,259.9" fill="#42ff00"/>
</g>
<ellipse cx="495.2" cy="121.3" rx="3.4" ry="1.5" fill="#f4eeee" stroke="#9a8a8a" stroke-width="0.7"/>
<circle cx="495.1" cy="114.5" r="3.9" fill="#f00" stroke="#600" stroke-width="0.5"/>
<circle cx="495.1" cy="110.0" r="3.9" fill="#f00" stroke="#600" stroke-width="0.5"/>
<line x1="495.1" y1="109" x2="495.1" y2="121.3" stroke="#400" stroke-width="0.8"/>
<circle cx="271.5" cy="106.3" r="1.6" fill="#000"/>
<circle cx="274.1" cy="154.1" r="1.6" fill="#000"/>
<circle cx="276.4" cy="201.6" r="1.6" fill="#000"/>
<circle cx="279.3" cy="250.2" r="1.6" fill="#000"/>
<circle cx="281.9" cy="298.1" r="1.6" fill="#000"/>
<circle cx="285.1" cy="357.9" r="1.6" fill="#000"/>
<circle cx="337.7" cy="380.0" r="1.6" fill="#000"/>
<circle cx="390.0" cy="402.0" r="1.6" fill="#000"/>
<circle cx="442.5" cy="423.8" r="1.6" fill="#000"/>
<circle cx="495.0" cy="445.8" r="1.6" fill="#000"/>
<circle cx="547.4" cy="423.8" r="1.6" fill="#000"/>
<circle cx="599.9" cy="401.9" r="1.6" fill="#000"/>
<circle cx="652.4" cy="379.7" r="1.6" fill="#000"/>
<circle cx="704.9" cy="357.9" r="1.6" fill="#000"/>
<g font-family="Liberation Sans, sans-serif" style="text-rendering:geometricPrecision;will-change:transform">
<text x="2.5" y="12.4" font-size="15" textLength="192.5" lengthAdjust="spacingAndGlyphs" fill="#000" text-anchor="start" >Design-Expert® Software</text>
<text x="2.5" y="30.4" font-size="15" textLength="143.8" lengthAdjust="spacingAndGlyphs" fill="#000" text-anchor="start" >Transformed Scale</text>
<text x="2.3" y="48.6" font-size="15" textLength="191.4" lengthAdjust="spacingAndGlyphs" fill="#000" text-anchor="start" >Sqrt(Surface Area actual)</text>
<text x="25.0" y="66.8" font-size="14.6" textLength="59.0" lengthAdjust="spacingAndGlyphs" fill="#f00" text-anchor="start" >21.3307</text>
<text x="26.5" y="103.5" font-size="14.6" textLength="58.6" lengthAdjust="spacingAndGlyphs" fill="#00f" text-anchor="start" >16.2788</text>
<text x="2.0" y="140.7" font-size="15" textLength="233.6" lengthAdjust="spacingAndGlyphs" fill="#000" text-anchor="start" >X1 = A: Activation Temperature</text>
<text x="2.0" y="159.5" font-size="15" textLength="207.0" lengthAdjust="spacingAndGlyphs" fill="#000" text-anchor="start" >X2 = B: Impregnation Ratio</text>
<text x="2.0" y="195.4" font-size="15" textLength="99.0" lengthAdjust="spacingAndGlyphs" fill="#000" text-anchor="start" >Actual Factor</text>
<text x="2.0" y="213.7" font-size="15" textLength="208.3" lengthAdjust="spacingAndGlyphs" fill="#000" text-anchor="start" >C: Activation Time = 120.00</text>
<text x="240.7" y="116.6" font-size="10.5" textLength="23.5" lengthAdjust="spacingAndGlyphs" fill="#000" text-anchor="start" >21.4</text>
<text x="236.5" y="164.4" font-size="10.5" textLength="30.3" lengthAdjust="spacingAndGlyphs" fill="#000" text-anchor="start" >20.15</text>
<text x="245.6" y="211.9" font-size="10.5" textLength="23.5" lengthAdjust="spacingAndGlyphs" fill="#000" text-anchor="start" >18.9</text>
<text x="241.7" y="260.5" font-size="10.5" textLength="30.3" lengthAdjust="spacingAndGlyphs" fill="#000" text-anchor="start" >17.65</text>
<text x="251.1" y="308.4" font-size="10.5" textLength="23.5" lengthAdjust="spacingAndGlyphs" fill="#000" text-anchor="start" >16.4</text>
<text x="254.4" y="368.0" font-size="10.5" textLength="23.5" lengthAdjust="spacingAndGlyphs" fill="#000" text-anchor="start" >3.00</text>
<text x="307.0" y="390.1" font-size="10.5" textLength="23.5" lengthAdjust="spacingAndGlyphs" fill="#000" text-anchor="start" >2.50</text>
<text x="359.3" y="412.1" font-size="10.5" textLength="23.5" lengthAdjust="spacingAndGlyphs" fill="#000" text-anchor="start" >2.00</text>
<text x="411.8" y="433.9" font-size="10.5" textLength="23.5" lengthAdjust="spacingAndGlyphs" fill="#000" text-anchor="start" >1.50</text>
<text x="464.3" y="455.9" font-size="10.5" textLength="23.5" lengthAdjust="spacingAndGlyphs" fill="#000" text-anchor="start" >1.00</text>
<text x="502.7" y="455.9" font-size="10.5" textLength="37.0" lengthAdjust="spacingAndGlyphs" fill="#000" text-anchor="start" >450.00</text>
<text x="555.1" y="433.9" font-size="10.5" textLength="37.0" lengthAdjust="spacingAndGlyphs" fill="#000" text-anchor="start" >500.00</text>
<text x="607.6" y="412.0" font-size="10.5" textLength="37.0" lengthAdjust="spacingAndGlyphs" fill="#000" text-anchor="start" >550.00</text>
<text x="660.1" y="389.8" font-size="10.5" textLength="37.0" lengthAdjust="spacingAndGlyphs" fill="#000" text-anchor="start" >600.00</text>
<text x="712.6" y="368.0" font-size="10.5" textLength="37.0" lengthAdjust="spacingAndGlyphs" fill="#000" text-anchor="start" >650.00</text>
<text x="218.5" y="442.6" font-size="17.5" textLength="182.5" lengthAdjust="spacingAndGlyphs" fill="#000" text-anchor="start" >B: Impregnation Ratio</text>
<text x="569.0" y="442.6" font-size="17.5" textLength="218.3" lengthAdjust="spacingAndGlyphs" fill="#000" text-anchor="start" >A: Activation Temperature</text>
<text x="0" y="0" font-size="17.8" textLength="194.6" lengthAdjust="spacingAndGlyphs" fill="#000" text-anchor="start" transform="translate(209.3,333.3) rotate(-90)">Sqrt(Surface Area actual)</text>
</g>
<defs><linearGradient id="lg" x1="0" y1="0" x2="0" y2="1"><stop offset="0" stop-color="#f00"/><stop offset="0.5" stop-color="#0f0"/><stop offset="1" stop-color="#00f"/></linearGradient></defs>
<rect x="6.2" y="54.6" width="13" height="52" fill="url(#lg)" stroke="#000" stroke-width="1.4"/>
</svg></body></html>
